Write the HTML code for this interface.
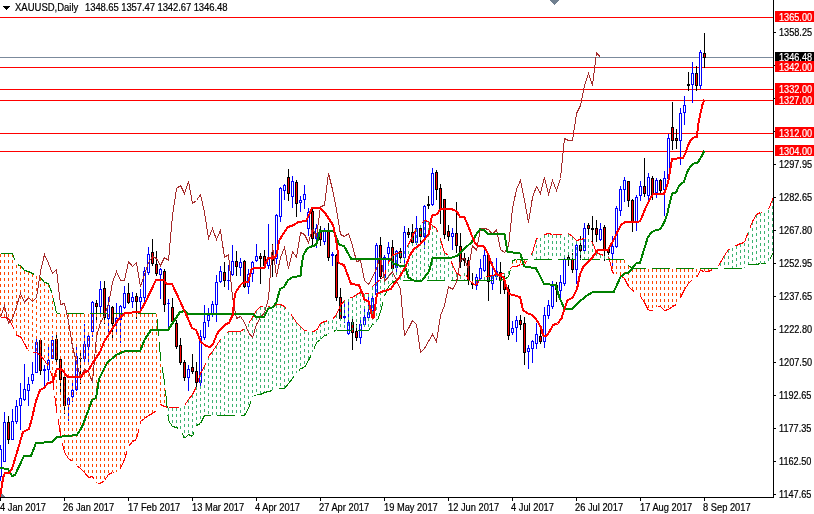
<!DOCTYPE html>
<html><head><meta charset="utf-8"><title>XAUUSD,Daily</title>
<style>
html,body{margin:0;padding:0;background:#fff;}
body{width:814px;height:514px;overflow:hidden;position:relative;font-family:"Liberation Sans",sans-serif;}
svg{position:absolute;left:0;top:0;display:block}
text{font-family:"Liberation Sans",sans-serif;}
.t{position:absolute;font-size:10px;line-height:11px;height:11px;white-space:pre;transform:scaleX(0.95);transform-origin:0 0;}
</style></head><body>
<svg width="814" height="514" viewBox="0 0 814 514" shape-rendering="crispEdges">
<rect x="0" y="0" width="814" height="514" fill="#fff"/>
<defs><clipPath id="cp"><rect x="0" y="0" width="773" height="497"/></clipPath></defs>
<g clip-path="url(#cp)">
<rect x="0" y="57" width="773" height="1" fill="#7b8a9c"/>
<rect x="0" y="17" width="773" height="1" fill="#ff0000"/>
<rect x="0" y="67" width="773" height="1" fill="#ff0000"/>
<rect x="0" y="89" width="773" height="1" fill="#ff0000"/>
<rect x="0" y="100" width="773" height="1" fill="#ff0000"/>
<rect x="0" y="133" width="773" height="1" fill="#ff0000"/>
<rect x="0" y="151" width="773" height="1" fill="#ff0000"/>
<polygon points="0,491.5 0,497 5.5,497" fill="#708090"/>
<rect x="0" y="445" width="1" height="36" fill="#0000ff"/>
<rect x="-1" y="449" width="3" height="28" fill="#0000ff"/>
<rect x="0" y="450" width="1" height="26" fill="#ffffff"/>
<rect x="4" y="412" width="1" height="50" fill="#0000ff"/>
<rect x="3" y="422" width="3" height="40" fill="#0000ff"/>
<rect x="4" y="423" width="1" height="38" fill="#ffffff"/>
<rect x="8" y="416" width="1" height="28" fill="#000000"/>
<rect x="7" y="422" width="3" height="18" fill="#000000"/>
<rect x="8" y="423" width="1" height="16" fill="#ff0000"/>
<rect x="12" y="409" width="1" height="31" fill="#0000ff"/>
<rect x="11" y="421" width="3" height="19" fill="#0000ff"/>
<rect x="12" y="422" width="1" height="17" fill="#ffffff"/>
<rect x="16" y="400" width="1" height="24" fill="#0000ff"/>
<rect x="15" y="406" width="3" height="16" fill="#0000ff"/>
<rect x="16" y="407" width="1" height="14" fill="#ffffff"/>
<rect x="20" y="383" width="1" height="47" fill="#0000ff"/>
<rect x="19" y="398" width="3" height="8" fill="#0000ff"/>
<rect x="20" y="399" width="1" height="6" fill="#ffffff"/>
<rect x="24" y="364" width="1" height="37" fill="#0000ff"/>
<rect x="23" y="389" width="3" height="11" fill="#0000ff"/>
<rect x="24" y="390" width="1" height="9" fill="#ffffff"/>
<rect x="28" y="377" width="1" height="29" fill="#0000ff"/>
<rect x="27" y="384" width="3" height="7" fill="#0000ff"/>
<rect x="28" y="385" width="1" height="5" fill="#ffffff"/>
<rect x="32" y="362" width="1" height="22" fill="#0000ff"/>
<rect x="31" y="374" width="3" height="7" fill="#0000ff"/>
<rect x="32" y="375" width="1" height="5" fill="#ffffff"/>
<rect x="36" y="337" width="1" height="36" fill="#0000ff"/>
<rect x="35" y="342" width="3" height="31" fill="#0000ff"/>
<rect x="36" y="343" width="1" height="29" fill="#ffffff"/>
<rect x="40" y="339" width="1" height="36" fill="#000000"/>
<rect x="39" y="340" width="3" height="31" fill="#000000"/>
<rect x="40" y="341" width="1" height="29" fill="#ff0000"/>
<rect x="44" y="365" width="1" height="23" fill="#0000ff"/>
<rect x="43" y="369" width="3" height="2" fill="#0000ff"/>
<rect x="48" y="346" width="1" height="35" fill="#0000ff"/>
<rect x="47" y="360" width="3" height="10" fill="#0000ff"/>
<rect x="48" y="361" width="1" height="8" fill="#ffffff"/>
<rect x="52" y="336" width="1" height="23" fill="#0000ff"/>
<rect x="51" y="340" width="3" height="19" fill="#0000ff"/>
<rect x="52" y="341" width="1" height="17" fill="#ffffff"/>
<rect x="56" y="335" width="1" height="30" fill="#000000"/>
<rect x="55" y="339" width="3" height="21" fill="#000000"/>
<rect x="56" y="340" width="1" height="19" fill="#ff0000"/>
<rect x="60" y="358" width="1" height="34" fill="#000000"/>
<rect x="59" y="359" width="3" height="21" fill="#000000"/>
<rect x="60" y="360" width="1" height="19" fill="#ff0000"/>
<rect x="64" y="376" width="1" height="38" fill="#000000"/>
<rect x="63" y="377" width="3" height="29" fill="#000000"/>
<rect x="64" y="378" width="1" height="27" fill="#ff0000"/>
<rect x="68" y="397" width="1" height="24" fill="#0000ff"/>
<rect x="67" y="398" width="3" height="7" fill="#0000ff"/>
<rect x="68" y="399" width="1" height="5" fill="#ffffff"/>
<rect x="72" y="382" width="1" height="20" fill="#0000ff"/>
<rect x="71" y="390" width="3" height="7" fill="#0000ff"/>
<rect x="72" y="391" width="1" height="5" fill="#ffffff"/>
<rect x="76" y="346" width="1" height="45" fill="#0000ff"/>
<rect x="75" y="356" width="3" height="34" fill="#0000ff"/>
<rect x="76" y="357" width="1" height="32" fill="#ffffff"/>
<rect x="80" y="352" width="1" height="32" fill="#000000"/>
<rect x="79" y="358" width="3" height="1" fill="#000000"/>
<rect x="84" y="324" width="1" height="41" fill="#0000ff"/>
<rect x="83" y="344" width="3" height="15" fill="#0000ff"/>
<rect x="84" y="345" width="1" height="13" fill="#ffffff"/>
<rect x="88" y="333" width="1" height="32" fill="#0000ff"/>
<rect x="87" y="336" width="3" height="11" fill="#0000ff"/>
<rect x="88" y="337" width="1" height="9" fill="#ffffff"/>
<rect x="92" y="301" width="1" height="36" fill="#0000ff"/>
<rect x="91" y="302" width="3" height="30" fill="#0000ff"/>
<rect x="92" y="303" width="1" height="28" fill="#ffffff"/>
<rect x="96" y="300" width="1" height="20" fill="#000000"/>
<rect x="95" y="303" width="3" height="4" fill="#000000"/>
<rect x="96" y="304" width="1" height="2" fill="#ff0000"/>
<rect x="100" y="281" width="1" height="33" fill="#0000ff"/>
<rect x="99" y="289" width="3" height="18" fill="#0000ff"/>
<rect x="100" y="290" width="1" height="16" fill="#ffffff"/>
<rect x="104" y="281" width="1" height="43" fill="#000000"/>
<rect x="103" y="288" width="3" height="30" fill="#000000"/>
<rect x="104" y="289" width="1" height="28" fill="#ff0000"/>
<rect x="108" y="297" width="1" height="35" fill="#0000ff"/>
<rect x="107" y="305" width="3" height="14" fill="#0000ff"/>
<rect x="108" y="306" width="1" height="12" fill="#ffffff"/>
<rect x="112" y="306" width="1" height="32" fill="#000000"/>
<rect x="111" y="307" width="3" height="17" fill="#000000"/>
<rect x="112" y="308" width="1" height="15" fill="#ff0000"/>
<rect x="116" y="303" width="1" height="30" fill="#0000ff"/>
<rect x="115" y="318" width="3" height="5" fill="#0000ff"/>
<rect x="116" y="319" width="1" height="3" fill="#ffffff"/>
<rect x="120" y="305" width="1" height="38" fill="#0000ff"/>
<rect x="119" y="306" width="3" height="14" fill="#0000ff"/>
<rect x="120" y="307" width="1" height="12" fill="#ffffff"/>
<rect x="124" y="286" width="1" height="23" fill="#0000ff"/>
<rect x="123" y="293" width="3" height="15" fill="#0000ff"/>
<rect x="124" y="294" width="1" height="13" fill="#ffffff"/>
<rect x="128" y="283" width="1" height="21" fill="#000000"/>
<rect x="127" y="293" width="3" height="10" fill="#000000"/>
<rect x="128" y="294" width="1" height="8" fill="#ff0000"/>
<rect x="132" y="292" width="1" height="16" fill="#0000ff"/>
<rect x="131" y="297" width="3" height="5" fill="#0000ff"/>
<rect x="132" y="298" width="1" height="3" fill="#ffffff"/>
<rect x="136" y="293" width="1" height="26" fill="#000000"/>
<rect x="135" y="296" width="3" height="6" fill="#000000"/>
<rect x="136" y="297" width="1" height="4" fill="#ff0000"/>
<rect x="140" y="289" width="1" height="24" fill="#0000ff"/>
<rect x="139" y="297" width="3" height="5" fill="#0000ff"/>
<rect x="140" y="298" width="1" height="3" fill="#ffffff"/>
<rect x="144" y="267" width="1" height="35" fill="#0000ff"/>
<rect x="143" y="271" width="3" height="27" fill="#0000ff"/>
<rect x="144" y="272" width="1" height="25" fill="#ffffff"/>
<rect x="148" y="247" width="1" height="28" fill="#0000ff"/>
<rect x="147" y="254" width="3" height="19" fill="#0000ff"/>
<rect x="148" y="255" width="1" height="17" fill="#ffffff"/>
<rect x="152" y="239" width="1" height="27" fill="#000000"/>
<rect x="151" y="252" width="3" height="12" fill="#000000"/>
<rect x="152" y="253" width="1" height="10" fill="#ff0000"/>
<rect x="156" y="251" width="1" height="25" fill="#000000"/>
<rect x="155" y="264" width="3" height="10" fill="#000000"/>
<rect x="156" y="265" width="1" height="8" fill="#ff0000"/>
<rect x="160" y="268" width="1" height="31" fill="#0000ff"/>
<rect x="159" y="269" width="3" height="6" fill="#0000ff"/>
<rect x="160" y="270" width="1" height="4" fill="#ffffff"/>
<rect x="164" y="269" width="1" height="43" fill="#000000"/>
<rect x="163" y="271" width="3" height="34" fill="#000000"/>
<rect x="164" y="272" width="1" height="32" fill="#ff0000"/>
<rect x="168" y="299" width="1" height="30" fill="#0000ff"/>
<rect x="167" y="303" width="3" height="1" fill="#0000ff"/>
<rect x="172" y="298" width="1" height="25" fill="#000000"/>
<rect x="171" y="307" width="3" height="15" fill="#000000"/>
<rect x="172" y="308" width="1" height="13" fill="#ff0000"/>
<rect x="176" y="320" width="1" height="29" fill="#000000"/>
<rect x="175" y="323" width="3" height="24" fill="#000000"/>
<rect x="176" y="324" width="1" height="22" fill="#ff0000"/>
<rect x="180" y="338" width="1" height="27" fill="#000000"/>
<rect x="179" y="345" width="3" height="18" fill="#000000"/>
<rect x="180" y="346" width="1" height="16" fill="#ff0000"/>
<rect x="184" y="360" width="1" height="21" fill="#000000"/>
<rect x="183" y="362" width="3" height="16" fill="#000000"/>
<rect x="184" y="363" width="1" height="14" fill="#ff0000"/>
<rect x="188" y="365" width="1" height="26" fill="#0000ff"/>
<rect x="187" y="369" width="3" height="9" fill="#0000ff"/>
<rect x="188" y="370" width="1" height="7" fill="#ffffff"/>
<rect x="192" y="354" width="1" height="20" fill="#000000"/>
<rect x="191" y="367" width="3" height="5" fill="#000000"/>
<rect x="192" y="368" width="1" height="3" fill="#ff0000"/>
<rect x="196" y="362" width="1" height="25" fill="#000000"/>
<rect x="195" y="371" width="3" height="12" fill="#000000"/>
<rect x="196" y="372" width="1" height="10" fill="#ff0000"/>
<rect x="200" y="330" width="1" height="56" fill="#0000ff"/>
<rect x="199" y="336" width="3" height="47" fill="#0000ff"/>
<rect x="200" y="337" width="1" height="45" fill="#ffffff"/>
<rect x="204" y="305" width="1" height="35" fill="#0000ff"/>
<rect x="203" y="322" width="3" height="16" fill="#0000ff"/>
<rect x="204" y="323" width="1" height="14" fill="#ffffff"/>
<rect x="208" y="308" width="1" height="19" fill="#0000ff"/>
<rect x="207" y="315" width="3" height="6" fill="#0000ff"/>
<rect x="208" y="316" width="1" height="4" fill="#ffffff"/>
<rect x="212" y="301" width="1" height="16" fill="#0000ff"/>
<rect x="211" y="304" width="3" height="10" fill="#0000ff"/>
<rect x="212" y="305" width="1" height="8" fill="#ffffff"/>
<rect x="216" y="275" width="1" height="47" fill="#0000ff"/>
<rect x="215" y="282" width="3" height="23" fill="#0000ff"/>
<rect x="216" y="283" width="1" height="21" fill="#ffffff"/>
<rect x="220" y="266" width="1" height="17" fill="#0000ff"/>
<rect x="219" y="271" width="3" height="11" fill="#0000ff"/>
<rect x="220" y="272" width="1" height="9" fill="#ffffff"/>
<rect x="224" y="262" width="1" height="25" fill="#000000"/>
<rect x="223" y="272" width="3" height="9" fill="#000000"/>
<rect x="224" y="273" width="1" height="7" fill="#ff0000"/>
<rect x="228" y="265" width="1" height="25" fill="#0000ff"/>
<rect x="227" y="280" width="3" height="1" fill="#0000ff"/>
<rect x="232" y="245" width="1" height="31" fill="#0000ff"/>
<rect x="231" y="261" width="3" height="14" fill="#0000ff"/>
<rect x="232" y="262" width="1" height="12" fill="#ffffff"/>
<rect x="236" y="251" width="1" height="25" fill="#000000"/>
<rect x="235" y="261" width="3" height="6" fill="#000000"/>
<rect x="236" y="262" width="1" height="4" fill="#ff0000"/>
<rect x="240" y="258" width="1" height="18" fill="#0000ff"/>
<rect x="239" y="262" width="3" height="6" fill="#0000ff"/>
<rect x="240" y="263" width="1" height="4" fill="#ffffff"/>
<rect x="244" y="260" width="1" height="28" fill="#000000"/>
<rect x="243" y="261" width="3" height="26" fill="#000000"/>
<rect x="244" y="262" width="1" height="24" fill="#ff0000"/>
<rect x="248" y="269" width="1" height="25" fill="#0000ff"/>
<rect x="247" y="274" width="3" height="13" fill="#0000ff"/>
<rect x="248" y="275" width="1" height="11" fill="#ffffff"/>
<rect x="252" y="261" width="1" height="21" fill="#0000ff"/>
<rect x="251" y="262" width="3" height="12" fill="#0000ff"/>
<rect x="252" y="263" width="1" height="10" fill="#ffffff"/>
<rect x="256" y="244" width="1" height="18" fill="#0000ff"/>
<rect x="255" y="256" width="3" height="5" fill="#0000ff"/>
<rect x="256" y="257" width="1" height="3" fill="#ffffff"/>
<rect x="260" y="253" width="1" height="31" fill="#000000"/>
<rect x="259" y="256" width="3" height="3" fill="#000000"/>
<rect x="260" y="257" width="1" height="1" fill="#ff0000"/>
<rect x="264" y="250" width="1" height="19" fill="#000000"/>
<rect x="263" y="256" width="3" height="10" fill="#000000"/>
<rect x="264" y="257" width="1" height="8" fill="#ff0000"/>
<rect x="268" y="224" width="1" height="45" fill="#0000ff"/>
<rect x="267" y="257" width="3" height="9" fill="#0000ff"/>
<rect x="268" y="258" width="1" height="7" fill="#ffffff"/>
<rect x="272" y="244" width="1" height="33" fill="#000000"/>
<rect x="271" y="254" width="3" height="7" fill="#000000"/>
<rect x="272" y="255" width="1" height="5" fill="#ff0000"/>
<rect x="276" y="214" width="1" height="50" fill="#0000ff"/>
<rect x="275" y="215" width="3" height="44" fill="#0000ff"/>
<rect x="276" y="216" width="1" height="42" fill="#ffffff"/>
<rect x="280" y="187" width="1" height="35" fill="#0000ff"/>
<rect x="279" y="188" width="3" height="29" fill="#0000ff"/>
<rect x="280" y="189" width="1" height="27" fill="#ffffff"/>
<rect x="284" y="184" width="1" height="16" fill="#0000ff"/>
<rect x="283" y="185" width="3" height="6" fill="#0000ff"/>
<rect x="284" y="186" width="1" height="4" fill="#ffffff"/>
<rect x="288" y="169" width="1" height="32" fill="#000000"/>
<rect x="287" y="177" width="3" height="17" fill="#000000"/>
<rect x="288" y="178" width="1" height="15" fill="#ff0000"/>
<rect x="292" y="176" width="1" height="32" fill="#0000ff"/>
<rect x="291" y="181" width="3" height="16" fill="#0000ff"/>
<rect x="292" y="182" width="1" height="14" fill="#ffffff"/>
<rect x="296" y="180" width="1" height="37" fill="#000000"/>
<rect x="295" y="182" width="3" height="22" fill="#000000"/>
<rect x="296" y="183" width="1" height="20" fill="#ff0000"/>
<rect x="300" y="196" width="1" height="16" fill="#0000ff"/>
<rect x="299" y="200" width="3" height="3" fill="#0000ff"/>
<rect x="300" y="201" width="1" height="1" fill="#ffffff"/>
<rect x="304" y="185" width="1" height="24" fill="#0000ff"/>
<rect x="303" y="194" width="3" height="6" fill="#0000ff"/>
<rect x="304" y="195" width="1" height="4" fill="#ffffff"/>
<rect x="308" y="208" width="1" height="28" fill="#0000ff"/>
<rect x="307" y="212" width="3" height="17" fill="#0000ff"/>
<rect x="308" y="213" width="1" height="15" fill="#ffffff"/>
<rect x="312" y="209" width="1" height="36" fill="#000000"/>
<rect x="311" y="211" width="3" height="28" fill="#000000"/>
<rect x="312" y="212" width="1" height="26" fill="#ff0000"/>
<rect x="316" y="224" width="1" height="24" fill="#0000ff"/>
<rect x="315" y="228" width="3" height="11" fill="#0000ff"/>
<rect x="316" y="229" width="1" height="9" fill="#ffffff"/>
<rect x="320" y="226" width="1" height="20" fill="#000000"/>
<rect x="319" y="230" width="3" height="10" fill="#000000"/>
<rect x="320" y="231" width="1" height="8" fill="#ff0000"/>
<rect x="324" y="228" width="1" height="17" fill="#0000ff"/>
<rect x="323" y="230" width="3" height="12" fill="#0000ff"/>
<rect x="324" y="231" width="1" height="10" fill="#ffffff"/>
<rect x="328" y="223" width="1" height="38" fill="#000000"/>
<rect x="327" y="230" width="3" height="28" fill="#000000"/>
<rect x="328" y="231" width="1" height="26" fill="#ff0000"/>
<rect x="332" y="252" width="1" height="14" fill="#0000ff"/>
<rect x="331" y="254" width="3" height="2" fill="#0000ff"/>
<rect x="336" y="254" width="1" height="47" fill="#000000"/>
<rect x="335" y="255" width="3" height="43" fill="#000000"/>
<rect x="336" y="256" width="1" height="41" fill="#ff0000"/>
<rect x="340" y="288" width="1" height="33" fill="#000000"/>
<rect x="339" y="297" width="3" height="22" fill="#000000"/>
<rect x="340" y="298" width="1" height="20" fill="#ff0000"/>
<rect x="344" y="301" width="1" height="22" fill="#0000ff"/>
<rect x="343" y="316" width="3" height="2" fill="#0000ff"/>
<rect x="348" y="300" width="1" height="35" fill="#0000ff"/>
<rect x="347" y="322" width="3" height="12" fill="#0000ff"/>
<rect x="348" y="323" width="1" height="10" fill="#ffffff"/>
<rect x="352" y="319" width="1" height="31" fill="#000000"/>
<rect x="351" y="322" width="3" height="11" fill="#000000"/>
<rect x="352" y="323" width="1" height="9" fill="#ff0000"/>
<rect x="356" y="324" width="1" height="17" fill="#000000"/>
<rect x="355" y="331" width="3" height="7" fill="#000000"/>
<rect x="356" y="332" width="1" height="5" fill="#ff0000"/>
<rect x="360" y="320" width="1" height="24" fill="#0000ff"/>
<rect x="359" y="324" width="3" height="14" fill="#0000ff"/>
<rect x="360" y="325" width="1" height="12" fill="#ffffff"/>
<rect x="364" y="309" width="1" height="17" fill="#0000ff"/>
<rect x="363" y="317" width="3" height="8" fill="#0000ff"/>
<rect x="364" y="318" width="1" height="6" fill="#ffffff"/>
<rect x="368" y="297" width="1" height="24" fill="#0000ff"/>
<rect x="367" y="312" width="3" height="6" fill="#0000ff"/>
<rect x="368" y="313" width="1" height="4" fill="#ffffff"/>
<rect x="372" y="294" width="1" height="18" fill="#0000ff"/>
<rect x="371" y="298" width="3" height="13" fill="#0000ff"/>
<rect x="372" y="299" width="1" height="11" fill="#ffffff"/>
<rect x="376" y="243" width="1" height="54" fill="#0000ff"/>
<rect x="375" y="245" width="3" height="50" fill="#0000ff"/>
<rect x="376" y="246" width="1" height="48" fill="#ffffff"/>
<rect x="380" y="237" width="1" height="42" fill="#000000"/>
<rect x="379" y="245" width="3" height="32" fill="#000000"/>
<rect x="380" y="246" width="1" height="30" fill="#ff0000"/>
<rect x="384" y="255" width="1" height="23" fill="#0000ff"/>
<rect x="383" y="257" width="3" height="21" fill="#0000ff"/>
<rect x="384" y="258" width="1" height="19" fill="#ffffff"/>
<rect x="388" y="242" width="1" height="21" fill="#0000ff"/>
<rect x="387" y="247" width="3" height="7" fill="#0000ff"/>
<rect x="388" y="248" width="1" height="5" fill="#ffffff"/>
<rect x="392" y="240" width="1" height="30" fill="#000000"/>
<rect x="391" y="247" width="3" height="22" fill="#000000"/>
<rect x="392" y="248" width="1" height="20" fill="#ff0000"/>
<rect x="396" y="250" width="1" height="25" fill="#0000ff"/>
<rect x="395" y="251" width="3" height="17" fill="#0000ff"/>
<rect x="396" y="252" width="1" height="15" fill="#ffffff"/>
<rect x="400" y="248" width="1" height="15" fill="#000000"/>
<rect x="399" y="251" width="3" height="7" fill="#000000"/>
<rect x="400" y="252" width="1" height="5" fill="#ff0000"/>
<rect x="404" y="226" width="1" height="37" fill="#0000ff"/>
<rect x="403" y="232" width="3" height="26" fill="#0000ff"/>
<rect x="404" y="233" width="1" height="24" fill="#ffffff"/>
<rect x="408" y="228" width="1" height="10" fill="#000000"/>
<rect x="407" y="232" width="3" height="3" fill="#000000"/>
<rect x="408" y="233" width="1" height="1" fill="#ff0000"/>
<rect x="412" y="224" width="1" height="22" fill="#000000"/>
<rect x="411" y="232" width="3" height="11" fill="#000000"/>
<rect x="412" y="233" width="1" height="9" fill="#ff0000"/>
<rect x="416" y="216" width="1" height="29" fill="#0000ff"/>
<rect x="415" y="228" width="3" height="15" fill="#0000ff"/>
<rect x="416" y="229" width="1" height="13" fill="#ffffff"/>
<rect x="420" y="226" width="1" height="19" fill="#000000"/>
<rect x="419" y="228" width="3" height="9" fill="#000000"/>
<rect x="420" y="229" width="1" height="7" fill="#ff0000"/>
<rect x="424" y="205" width="1" height="44" fill="#0000ff"/>
<rect x="423" y="206" width="3" height="31" fill="#0000ff"/>
<rect x="424" y="207" width="1" height="29" fill="#ffffff"/>
<rect x="428" y="196" width="1" height="13" fill="#000000"/>
<rect x="427" y="204" width="3" height="2" fill="#000000"/>
<rect x="432" y="168" width="1" height="38" fill="#0000ff"/>
<rect x="431" y="173" width="3" height="32" fill="#0000ff"/>
<rect x="432" y="174" width="1" height="30" fill="#ffffff"/>
<rect x="436" y="170" width="1" height="30" fill="#000000"/>
<rect x="435" y="172" width="3" height="18" fill="#000000"/>
<rect x="436" y="173" width="1" height="16" fill="#ff0000"/>
<rect x="440" y="184" width="1" height="40" fill="#000000"/>
<rect x="439" y="188" width="3" height="22" fill="#000000"/>
<rect x="440" y="189" width="1" height="20" fill="#ff0000"/>
<rect x="444" y="199" width="1" height="40" fill="#000000"/>
<rect x="443" y="199" width="3" height="36" fill="#000000"/>
<rect x="444" y="200" width="1" height="34" fill="#ff0000"/>
<rect x="448" y="225" width="1" height="16" fill="#000000"/>
<rect x="447" y="231" width="3" height="6" fill="#000000"/>
<rect x="448" y="232" width="1" height="4" fill="#ff0000"/>
<rect x="452" y="228" width="1" height="22" fill="#0000ff"/>
<rect x="451" y="233" width="3" height="4" fill="#0000ff"/>
<rect x="452" y="234" width="1" height="2" fill="#ffffff"/>
<rect x="456" y="202" width="1" height="51" fill="#000000"/>
<rect x="455" y="233" width="3" height="13" fill="#000000"/>
<rect x="456" y="234" width="1" height="11" fill="#ff0000"/>
<rect x="460" y="233" width="1" height="35" fill="#000000"/>
<rect x="459" y="246" width="3" height="16" fill="#000000"/>
<rect x="460" y="247" width="1" height="14" fill="#ff0000"/>
<rect x="464" y="253" width="1" height="13" fill="#000000"/>
<rect x="463" y="258" width="3" height="3" fill="#000000"/>
<rect x="464" y="259" width="1" height="1" fill="#ff0000"/>
<rect x="468" y="257" width="1" height="28" fill="#000000"/>
<rect x="467" y="260" width="3" height="21" fill="#000000"/>
<rect x="468" y="261" width="1" height="19" fill="#ff0000"/>
<rect x="472" y="273" width="1" height="16" fill="#000000"/>
<rect x="471" y="283" width="3" height="2" fill="#000000"/>
<rect x="476" y="274" width="1" height="16" fill="#0000ff"/>
<rect x="475" y="277" width="3" height="9" fill="#0000ff"/>
<rect x="476" y="278" width="1" height="7" fill="#ffffff"/>
<rect x="480" y="259" width="1" height="21" fill="#0000ff"/>
<rect x="479" y="268" width="3" height="11" fill="#0000ff"/>
<rect x="480" y="269" width="1" height="9" fill="#ffffff"/>
<rect x="484" y="250" width="1" height="22" fill="#0000ff"/>
<rect x="483" y="255" width="3" height="16" fill="#0000ff"/>
<rect x="484" y="256" width="1" height="14" fill="#ffffff"/>
<rect x="488" y="253" width="1" height="48" fill="#000000"/>
<rect x="487" y="255" width="3" height="27" fill="#000000"/>
<rect x="488" y="256" width="1" height="25" fill="#ff0000"/>
<rect x="492" y="262" width="1" height="28" fill="#0000ff"/>
<rect x="491" y="276" width="3" height="8" fill="#0000ff"/>
<rect x="492" y="277" width="1" height="6" fill="#ffffff"/>
<rect x="496" y="258" width="1" height="22" fill="#0000ff"/>
<rect x="495" y="271" width="3" height="6" fill="#0000ff"/>
<rect x="496" y="272" width="1" height="4" fill="#ffffff"/>
<rect x="500" y="262" width="1" height="32" fill="#000000"/>
<rect x="499" y="272" width="3" height="9" fill="#000000"/>
<rect x="500" y="273" width="1" height="7" fill="#ff0000"/>
<rect x="504" y="276" width="1" height="18" fill="#000000"/>
<rect x="503" y="280" width="3" height="10" fill="#000000"/>
<rect x="504" y="281" width="1" height="8" fill="#ff0000"/>
<rect x="508" y="285" width="1" height="55" fill="#000000"/>
<rect x="507" y="289" width="3" height="47" fill="#000000"/>
<rect x="508" y="290" width="1" height="45" fill="#ff0000"/>
<rect x="512" y="321" width="1" height="14" fill="#0000ff"/>
<rect x="511" y="328" width="3" height="5" fill="#0000ff"/>
<rect x="512" y="329" width="1" height="3" fill="#ffffff"/>
<rect x="516" y="316" width="1" height="26" fill="#0000ff"/>
<rect x="515" y="320" width="3" height="8" fill="#0000ff"/>
<rect x="516" y="321" width="1" height="6" fill="#ffffff"/>
<rect x="520" y="315" width="1" height="15" fill="#000000"/>
<rect x="519" y="320" width="3" height="5" fill="#000000"/>
<rect x="520" y="321" width="1" height="3" fill="#ff0000"/>
<rect x="524" y="317" width="1" height="48" fill="#000000"/>
<rect x="523" y="323" width="3" height="30" fill="#000000"/>
<rect x="524" y="324" width="1" height="28" fill="#ff0000"/>
<rect x="528" y="345" width="1" height="24" fill="#0000ff"/>
<rect x="527" y="348" width="3" height="4" fill="#0000ff"/>
<rect x="528" y="349" width="1" height="2" fill="#ffffff"/>
<rect x="532" y="340" width="1" height="23" fill="#0000ff"/>
<rect x="531" y="341" width="3" height="8" fill="#0000ff"/>
<rect x="532" y="342" width="1" height="6" fill="#ffffff"/>
<rect x="536" y="323" width="1" height="26" fill="#0000ff"/>
<rect x="535" y="334" width="3" height="10" fill="#0000ff"/>
<rect x="536" y="335" width="1" height="8" fill="#ffffff"/>
<rect x="540" y="325" width="1" height="19" fill="#000000"/>
<rect x="539" y="336" width="3" height="6" fill="#000000"/>
<rect x="540" y="337" width="1" height="4" fill="#ff0000"/>
<rect x="544" y="307" width="1" height="41" fill="#0000ff"/>
<rect x="543" y="315" width="3" height="27" fill="#0000ff"/>
<rect x="544" y="316" width="1" height="25" fill="#ffffff"/>
<rect x="548" y="300" width="1" height="19" fill="#0000ff"/>
<rect x="547" y="305" width="3" height="11" fill="#0000ff"/>
<rect x="548" y="306" width="1" height="9" fill="#ffffff"/>
<rect x="552" y="281" width="1" height="28" fill="#0000ff"/>
<rect x="551" y="286" width="3" height="21" fill="#0000ff"/>
<rect x="552" y="287" width="1" height="19" fill="#ffffff"/>
<rect x="556" y="282" width="1" height="20" fill="#000000"/>
<rect x="555" y="285" width="3" height="5" fill="#000000"/>
<rect x="556" y="286" width="1" height="3" fill="#ff0000"/>
<rect x="560" y="275" width="1" height="23" fill="#0000ff"/>
<rect x="559" y="282" width="3" height="9" fill="#0000ff"/>
<rect x="560" y="283" width="1" height="7" fill="#ffffff"/>
<rect x="564" y="258" width="1" height="28" fill="#0000ff"/>
<rect x="563" y="259" width="3" height="25" fill="#0000ff"/>
<rect x="564" y="260" width="1" height="23" fill="#ffffff"/>
<rect x="568" y="253" width="1" height="13" fill="#000000"/>
<rect x="567" y="257" width="3" height="2" fill="#000000"/>
<rect x="572" y="253" width="1" height="20" fill="#000000"/>
<rect x="571" y="259" width="3" height="11" fill="#000000"/>
<rect x="572" y="260" width="1" height="9" fill="#ff0000"/>
<rect x="576" y="241" width="1" height="43" fill="#0000ff"/>
<rect x="575" y="245" width="3" height="25" fill="#0000ff"/>
<rect x="576" y="246" width="1" height="23" fill="#ffffff"/>
<rect x="580" y="236" width="1" height="24" fill="#000000"/>
<rect x="579" y="245" width="3" height="6" fill="#000000"/>
<rect x="580" y="246" width="1" height="4" fill="#ff0000"/>
<rect x="584" y="223" width="1" height="30" fill="#0000ff"/>
<rect x="583" y="228" width="3" height="23" fill="#0000ff"/>
<rect x="584" y="229" width="1" height="21" fill="#ffffff"/>
<rect x="588" y="223" width="1" height="12" fill="#000000"/>
<rect x="587" y="225" width="3" height="4" fill="#000000"/>
<rect x="588" y="226" width="1" height="2" fill="#ff0000"/>
<rect x="592" y="216" width="1" height="26" fill="#000000"/>
<rect x="591" y="228" width="3" height="2" fill="#000000"/>
<rect x="596" y="220" width="1" height="22" fill="#000000"/>
<rect x="595" y="228" width="3" height="7" fill="#000000"/>
<rect x="596" y="229" width="1" height="5" fill="#ff0000"/>
<rect x="600" y="223" width="1" height="18" fill="#0000ff"/>
<rect x="599" y="229" width="3" height="11" fill="#0000ff"/>
<rect x="600" y="230" width="1" height="9" fill="#ffffff"/>
<rect x="604" y="225" width="1" height="36" fill="#000000"/>
<rect x="603" y="227" width="3" height="23" fill="#000000"/>
<rect x="604" y="228" width="1" height="21" fill="#ff0000"/>
<rect x="608" y="247" width="1" height="8" fill="#000000"/>
<rect x="607" y="249" width="3" height="4" fill="#000000"/>
<rect x="608" y="250" width="1" height="2" fill="#ff0000"/>
<rect x="612" y="236" width="1" height="30" fill="#0000ff"/>
<rect x="611" y="246" width="3" height="8" fill="#0000ff"/>
<rect x="612" y="247" width="1" height="6" fill="#ffffff"/>
<rect x="616" y="206" width="1" height="42" fill="#0000ff"/>
<rect x="615" y="208" width="3" height="39" fill="#0000ff"/>
<rect x="616" y="209" width="1" height="37" fill="#ffffff"/>
<rect x="620" y="186" width="1" height="30" fill="#0000ff"/>
<rect x="619" y="189" width="3" height="22" fill="#0000ff"/>
<rect x="620" y="190" width="1" height="20" fill="#ffffff"/>
<rect x="624" y="177" width="1" height="25" fill="#0000ff"/>
<rect x="623" y="180" width="3" height="10" fill="#0000ff"/>
<rect x="624" y="181" width="1" height="8" fill="#ffffff"/>
<rect x="628" y="181" width="1" height="26" fill="#000000"/>
<rect x="627" y="181" width="3" height="20" fill="#000000"/>
<rect x="628" y="182" width="1" height="18" fill="#ff0000"/>
<rect x="632" y="199" width="1" height="33" fill="#000000"/>
<rect x="631" y="200" width="3" height="23" fill="#000000"/>
<rect x="632" y="201" width="1" height="21" fill="#ff0000"/>
<rect x="636" y="195" width="1" height="36" fill="#0000ff"/>
<rect x="635" y="197" width="3" height="26" fill="#0000ff"/>
<rect x="636" y="198" width="1" height="24" fill="#ffffff"/>
<rect x="640" y="181" width="1" height="20" fill="#0000ff"/>
<rect x="639" y="186" width="3" height="10" fill="#0000ff"/>
<rect x="640" y="187" width="1" height="8" fill="#ffffff"/>
<rect x="644" y="158" width="1" height="39" fill="#000000"/>
<rect x="643" y="186" width="3" height="8" fill="#000000"/>
<rect x="644" y="187" width="1" height="6" fill="#ff0000"/>
<rect x="648" y="173" width="1" height="28" fill="#0000ff"/>
<rect x="647" y="177" width="3" height="19" fill="#0000ff"/>
<rect x="648" y="178" width="1" height="17" fill="#ffffff"/>
<rect x="652" y="176" width="1" height="24" fill="#000000"/>
<rect x="651" y="178" width="3" height="17" fill="#000000"/>
<rect x="652" y="179" width="1" height="15" fill="#ff0000"/>
<rect x="656" y="178" width="1" height="20" fill="#0000ff"/>
<rect x="655" y="180" width="3" height="13" fill="#0000ff"/>
<rect x="656" y="181" width="1" height="11" fill="#ffffff"/>
<rect x="660" y="179" width="1" height="15" fill="#000000"/>
<rect x="659" y="180" width="3" height="11" fill="#000000"/>
<rect x="660" y="181" width="1" height="9" fill="#ff0000"/>
<rect x="664" y="171" width="1" height="45" fill="#0000ff"/>
<rect x="663" y="178" width="3" height="12" fill="#0000ff"/>
<rect x="664" y="179" width="1" height="10" fill="#ffffff"/>
<rect x="668" y="134" width="1" height="46" fill="#0000ff"/>
<rect x="667" y="138" width="3" height="41" fill="#0000ff"/>
<rect x="668" y="139" width="1" height="39" fill="#ffffff"/>
<rect x="672" y="102" width="1" height="48" fill="#000000"/>
<rect x="671" y="127" width="3" height="14" fill="#000000"/>
<rect x="672" y="128" width="1" height="12" fill="#ff0000"/>
<rect x="676" y="129" width="1" height="20" fill="#000000"/>
<rect x="675" y="138" width="3" height="3" fill="#000000"/>
<rect x="676" y="139" width="1" height="1" fill="#ff0000"/>
<rect x="680" y="108" width="1" height="57" fill="#0000ff"/>
<rect x="679" y="113" width="3" height="28" fill="#0000ff"/>
<rect x="680" y="114" width="1" height="26" fill="#ffffff"/>
<rect x="684" y="96" width="1" height="29" fill="#0000ff"/>
<rect x="683" y="105" width="3" height="8" fill="#0000ff"/>
<rect x="684" y="106" width="1" height="6" fill="#ffffff"/>
<rect x="688" y="72" width="1" height="19" fill="#000000"/>
<rect x="687" y="84" width="3" height="2" fill="#000000"/>
<rect x="692" y="62" width="1" height="41" fill="#0000ff"/>
<rect x="691" y="73" width="3" height="12" fill="#0000ff"/>
<rect x="692" y="74" width="1" height="10" fill="#ffffff"/>
<rect x="696" y="66" width="1" height="25" fill="#000000"/>
<rect x="695" y="73" width="3" height="13" fill="#000000"/>
<rect x="696" y="74" width="1" height="11" fill="#ff0000"/>
<rect x="700" y="50" width="1" height="39" fill="#0000ff"/>
<rect x="699" y="52" width="3" height="34" fill="#0000ff"/>
<rect x="700" y="53" width="1" height="32" fill="#ffffff"/>
<rect x="704" y="33" width="1" height="35" fill="#000000"/>
<rect x="703" y="53" width="3" height="5" fill="#000000"/>
<rect x="704" y="54" width="1" height="3" fill="#ff0000"/>
<rect x="0" y="254" width="1" height="3" fill="#ff4500"/>
<rect x="0" y="260" width="1" height="3" fill="#ff4500"/>
<rect x="0" y="266" width="1" height="3" fill="#ff4500"/>
<rect x="0" y="272" width="1" height="3" fill="#ff4500"/>
<rect x="0" y="278" width="1" height="3" fill="#ff4500"/>
<rect x="0" y="284" width="1" height="3" fill="#ff4500"/>
<rect x="0" y="290" width="1" height="3" fill="#ff4500"/>
<rect x="0" y="296" width="1" height="3" fill="#ff4500"/>
<rect x="0" y="302" width="1" height="3" fill="#ff4500"/>
<rect x="0" y="308" width="1" height="3" fill="#ff4500"/>
<rect x="0" y="314" width="1" height="3" fill="#ff4500"/>
<rect x="4" y="254" width="1" height="3" fill="#ff4500"/>
<rect x="4" y="260" width="1" height="3" fill="#ff4500"/>
<rect x="4" y="266" width="1" height="3" fill="#ff4500"/>
<rect x="4" y="272" width="1" height="3" fill="#ff4500"/>
<rect x="4" y="278" width="1" height="3" fill="#ff4500"/>
<rect x="4" y="284" width="1" height="3" fill="#ff4500"/>
<rect x="4" y="290" width="1" height="3" fill="#ff4500"/>
<rect x="4" y="296" width="1" height="3" fill="#ff4500"/>
<rect x="4" y="302" width="1" height="3" fill="#ff4500"/>
<rect x="4" y="308" width="1" height="3" fill="#ff4500"/>
<rect x="4" y="314" width="1" height="3" fill="#ff4500"/>
<rect x="8" y="254" width="1" height="3" fill="#ff4500"/>
<rect x="8" y="260" width="1" height="3" fill="#ff4500"/>
<rect x="8" y="266" width="1" height="3" fill="#ff4500"/>
<rect x="8" y="272" width="1" height="3" fill="#ff4500"/>
<rect x="8" y="278" width="1" height="3" fill="#ff4500"/>
<rect x="8" y="284" width="1" height="3" fill="#ff4500"/>
<rect x="8" y="290" width="1" height="3" fill="#ff4500"/>
<rect x="8" y="296" width="1" height="3" fill="#ff4500"/>
<rect x="8" y="302" width="1" height="3" fill="#ff4500"/>
<rect x="8" y="308" width="1" height="3" fill="#ff4500"/>
<rect x="8" y="314" width="1" height="3" fill="#ff4500"/>
<rect x="12" y="254" width="1" height="3" fill="#ff4500"/>
<rect x="12" y="260" width="1" height="3" fill="#ff4500"/>
<rect x="12" y="266" width="1" height="3" fill="#ff4500"/>
<rect x="12" y="272" width="1" height="3" fill="#ff4500"/>
<rect x="12" y="278" width="1" height="3" fill="#ff4500"/>
<rect x="12" y="284" width="1" height="3" fill="#ff4500"/>
<rect x="12" y="290" width="1" height="3" fill="#ff4500"/>
<rect x="12" y="296" width="1" height="3" fill="#ff4500"/>
<rect x="12" y="302" width="1" height="3" fill="#ff4500"/>
<rect x="12" y="308" width="1" height="3" fill="#ff4500"/>
<rect x="12" y="314" width="1" height="3" fill="#ff4500"/>
<rect x="12" y="320" width="1" height="3" fill="#ff4500"/>
<rect x="16" y="265" width="1" height="3" fill="#ff4500"/>
<rect x="16" y="271" width="1" height="3" fill="#ff4500"/>
<rect x="16" y="277" width="1" height="3" fill="#ff4500"/>
<rect x="16" y="283" width="1" height="3" fill="#ff4500"/>
<rect x="16" y="289" width="1" height="3" fill="#ff4500"/>
<rect x="16" y="295" width="1" height="3" fill="#ff4500"/>
<rect x="16" y="301" width="1" height="3" fill="#ff4500"/>
<rect x="16" y="307" width="1" height="3" fill="#ff4500"/>
<rect x="16" y="313" width="1" height="3" fill="#ff4500"/>
<rect x="16" y="319" width="1" height="3" fill="#ff4500"/>
<rect x="16" y="325" width="1" height="3" fill="#ff4500"/>
<rect x="16" y="331" width="1" height="3" fill="#ff4500"/>
<rect x="20" y="266" width="1" height="3" fill="#ff4500"/>
<rect x="20" y="272" width="1" height="3" fill="#ff4500"/>
<rect x="20" y="278" width="1" height="3" fill="#ff4500"/>
<rect x="20" y="284" width="1" height="3" fill="#ff4500"/>
<rect x="20" y="290" width="1" height="3" fill="#ff4500"/>
<rect x="20" y="296" width="1" height="3" fill="#ff4500"/>
<rect x="20" y="302" width="1" height="3" fill="#ff4500"/>
<rect x="20" y="308" width="1" height="3" fill="#ff4500"/>
<rect x="20" y="314" width="1" height="3" fill="#ff4500"/>
<rect x="20" y="320" width="1" height="3" fill="#ff4500"/>
<rect x="20" y="326" width="1" height="3" fill="#ff4500"/>
<rect x="20" y="332" width="1" height="3" fill="#ff4500"/>
<rect x="24" y="271" width="1" height="3" fill="#ff4500"/>
<rect x="24" y="277" width="1" height="3" fill="#ff4500"/>
<rect x="24" y="283" width="1" height="3" fill="#ff4500"/>
<rect x="24" y="289" width="1" height="3" fill="#ff4500"/>
<rect x="24" y="295" width="1" height="3" fill="#ff4500"/>
<rect x="24" y="301" width="1" height="3" fill="#ff4500"/>
<rect x="24" y="307" width="1" height="3" fill="#ff4500"/>
<rect x="24" y="313" width="1" height="3" fill="#ff4500"/>
<rect x="24" y="319" width="1" height="3" fill="#ff4500"/>
<rect x="24" y="325" width="1" height="3" fill="#ff4500"/>
<rect x="24" y="331" width="1" height="3" fill="#ff4500"/>
<rect x="24" y="337" width="1" height="3" fill="#ff4500"/>
<rect x="28" y="272" width="1" height="3" fill="#ff4500"/>
<rect x="28" y="278" width="1" height="3" fill="#ff4500"/>
<rect x="28" y="284" width="1" height="3" fill="#ff4500"/>
<rect x="28" y="290" width="1" height="3" fill="#ff4500"/>
<rect x="28" y="296" width="1" height="3" fill="#ff4500"/>
<rect x="28" y="302" width="1" height="3" fill="#ff4500"/>
<rect x="28" y="308" width="1" height="3" fill="#ff4500"/>
<rect x="28" y="314" width="1" height="3" fill="#ff4500"/>
<rect x="28" y="320" width="1" height="3" fill="#ff4500"/>
<rect x="28" y="326" width="1" height="3" fill="#ff4500"/>
<rect x="28" y="332" width="1" height="3" fill="#ff4500"/>
<rect x="28" y="338" width="1" height="3" fill="#ff4500"/>
<rect x="28" y="344" width="1" height="3" fill="#ff4500"/>
<rect x="28" y="350" width="1" height="1" fill="#ff4500"/>
<rect x="32" y="274" width="1" height="3" fill="#ff4500"/>
<rect x="32" y="280" width="1" height="3" fill="#ff4500"/>
<rect x="32" y="286" width="1" height="3" fill="#ff4500"/>
<rect x="32" y="292" width="1" height="3" fill="#ff4500"/>
<rect x="32" y="298" width="1" height="3" fill="#ff4500"/>
<rect x="32" y="304" width="1" height="3" fill="#ff4500"/>
<rect x="32" y="310" width="1" height="3" fill="#ff4500"/>
<rect x="32" y="316" width="1" height="3" fill="#ff4500"/>
<rect x="32" y="322" width="1" height="3" fill="#ff4500"/>
<rect x="32" y="328" width="1" height="3" fill="#ff4500"/>
<rect x="32" y="334" width="1" height="3" fill="#ff4500"/>
<rect x="32" y="340" width="1" height="3" fill="#ff4500"/>
<rect x="32" y="346" width="1" height="3" fill="#ff4500"/>
<rect x="36" y="276" width="1" height="3" fill="#ff4500"/>
<rect x="36" y="282" width="1" height="3" fill="#ff4500"/>
<rect x="36" y="288" width="1" height="3" fill="#ff4500"/>
<rect x="36" y="294" width="1" height="3" fill="#ff4500"/>
<rect x="36" y="300" width="1" height="3" fill="#ff4500"/>
<rect x="36" y="306" width="1" height="3" fill="#ff4500"/>
<rect x="36" y="312" width="1" height="3" fill="#ff4500"/>
<rect x="36" y="318" width="1" height="3" fill="#ff4500"/>
<rect x="36" y="324" width="1" height="3" fill="#ff4500"/>
<rect x="36" y="330" width="1" height="3" fill="#ff4500"/>
<rect x="36" y="336" width="1" height="3" fill="#ff4500"/>
<rect x="36" y="342" width="1" height="3" fill="#ff4500"/>
<rect x="36" y="348" width="1" height="3" fill="#ff4500"/>
<rect x="40" y="278" width="1" height="3" fill="#ff4500"/>
<rect x="40" y="284" width="1" height="3" fill="#ff4500"/>
<rect x="40" y="290" width="1" height="3" fill="#ff4500"/>
<rect x="40" y="296" width="1" height="3" fill="#ff4500"/>
<rect x="40" y="302" width="1" height="3" fill="#ff4500"/>
<rect x="40" y="308" width="1" height="3" fill="#ff4500"/>
<rect x="40" y="314" width="1" height="3" fill="#ff4500"/>
<rect x="40" y="320" width="1" height="3" fill="#ff4500"/>
<rect x="40" y="326" width="1" height="3" fill="#ff4500"/>
<rect x="40" y="332" width="1" height="3" fill="#ff4500"/>
<rect x="40" y="338" width="1" height="3" fill="#ff4500"/>
<rect x="40" y="344" width="1" height="3" fill="#ff4500"/>
<rect x="40" y="350" width="1" height="3" fill="#ff4500"/>
<rect x="44" y="283" width="1" height="3" fill="#ff4500"/>
<rect x="44" y="289" width="1" height="3" fill="#ff4500"/>
<rect x="44" y="295" width="1" height="3" fill="#ff4500"/>
<rect x="44" y="301" width="1" height="3" fill="#ff4500"/>
<rect x="44" y="307" width="1" height="3" fill="#ff4500"/>
<rect x="44" y="313" width="1" height="3" fill="#ff4500"/>
<rect x="44" y="319" width="1" height="3" fill="#ff4500"/>
<rect x="44" y="325" width="1" height="3" fill="#ff4500"/>
<rect x="44" y="331" width="1" height="3" fill="#ff4500"/>
<rect x="44" y="337" width="1" height="3" fill="#ff4500"/>
<rect x="44" y="343" width="1" height="3" fill="#ff4500"/>
<rect x="44" y="349" width="1" height="3" fill="#ff4500"/>
<rect x="44" y="355" width="1" height="3" fill="#ff4500"/>
<rect x="48" y="284" width="1" height="3" fill="#ff4500"/>
<rect x="48" y="290" width="1" height="3" fill="#ff4500"/>
<rect x="48" y="296" width="1" height="3" fill="#ff4500"/>
<rect x="48" y="302" width="1" height="3" fill="#ff4500"/>
<rect x="48" y="308" width="1" height="3" fill="#ff4500"/>
<rect x="48" y="314" width="1" height="3" fill="#ff4500"/>
<rect x="48" y="320" width="1" height="3" fill="#ff4500"/>
<rect x="48" y="326" width="1" height="3" fill="#ff4500"/>
<rect x="48" y="332" width="1" height="3" fill="#ff4500"/>
<rect x="48" y="338" width="1" height="3" fill="#ff4500"/>
<rect x="48" y="344" width="1" height="3" fill="#ff4500"/>
<rect x="48" y="350" width="1" height="3" fill="#ff4500"/>
<rect x="48" y="356" width="1" height="3" fill="#ff4500"/>
<rect x="48" y="362" width="1" height="3" fill="#ff4500"/>
<rect x="52" y="295" width="1" height="3" fill="#ff4500"/>
<rect x="52" y="301" width="1" height="3" fill="#ff4500"/>
<rect x="52" y="307" width="1" height="3" fill="#ff4500"/>
<rect x="52" y="313" width="1" height="3" fill="#ff4500"/>
<rect x="52" y="319" width="1" height="3" fill="#ff4500"/>
<rect x="52" y="325" width="1" height="3" fill="#ff4500"/>
<rect x="52" y="331" width="1" height="3" fill="#ff4500"/>
<rect x="52" y="337" width="1" height="3" fill="#ff4500"/>
<rect x="52" y="343" width="1" height="3" fill="#ff4500"/>
<rect x="52" y="349" width="1" height="3" fill="#ff4500"/>
<rect x="52" y="355" width="1" height="3" fill="#ff4500"/>
<rect x="52" y="361" width="1" height="3" fill="#ff4500"/>
<rect x="52" y="367" width="1" height="3" fill="#ff4500"/>
<rect x="52" y="373" width="1" height="3" fill="#ff4500"/>
<rect x="56" y="314" width="1" height="3" fill="#ff4500"/>
<rect x="56" y="320" width="1" height="3" fill="#ff4500"/>
<rect x="56" y="326" width="1" height="3" fill="#ff4500"/>
<rect x="56" y="332" width="1" height="3" fill="#ff4500"/>
<rect x="56" y="338" width="1" height="3" fill="#ff4500"/>
<rect x="56" y="344" width="1" height="3" fill="#ff4500"/>
<rect x="56" y="350" width="1" height="3" fill="#ff4500"/>
<rect x="56" y="356" width="1" height="3" fill="#ff4500"/>
<rect x="56" y="362" width="1" height="3" fill="#ff4500"/>
<rect x="56" y="368" width="1" height="3" fill="#ff4500"/>
<rect x="56" y="374" width="1" height="3" fill="#ff4500"/>
<rect x="56" y="380" width="1" height="3" fill="#ff4500"/>
<rect x="56" y="386" width="1" height="3" fill="#ff4500"/>
<rect x="56" y="392" width="1" height="3" fill="#ff4500"/>
<rect x="56" y="398" width="1" height="3" fill="#ff4500"/>
<rect x="56" y="404" width="1" height="3" fill="#ff4500"/>
<rect x="60" y="314" width="1" height="3" fill="#ff4500"/>
<rect x="60" y="320" width="1" height="3" fill="#ff4500"/>
<rect x="60" y="326" width="1" height="3" fill="#ff4500"/>
<rect x="60" y="332" width="1" height="3" fill="#ff4500"/>
<rect x="60" y="338" width="1" height="3" fill="#ff4500"/>
<rect x="60" y="344" width="1" height="3" fill="#ff4500"/>
<rect x="60" y="350" width="1" height="3" fill="#ff4500"/>
<rect x="60" y="356" width="1" height="3" fill="#ff4500"/>
<rect x="60" y="362" width="1" height="3" fill="#ff4500"/>
<rect x="60" y="368" width="1" height="3" fill="#ff4500"/>
<rect x="60" y="374" width="1" height="3" fill="#ff4500"/>
<rect x="60" y="380" width="1" height="3" fill="#ff4500"/>
<rect x="60" y="386" width="1" height="3" fill="#ff4500"/>
<rect x="60" y="392" width="1" height="3" fill="#ff4500"/>
<rect x="60" y="398" width="1" height="3" fill="#ff4500"/>
<rect x="60" y="404" width="1" height="3" fill="#ff4500"/>
<rect x="60" y="410" width="1" height="3" fill="#ff4500"/>
<rect x="60" y="416" width="1" height="3" fill="#ff4500"/>
<rect x="60" y="422" width="1" height="3" fill="#ff4500"/>
<rect x="60" y="428" width="1" height="3" fill="#ff4500"/>
<rect x="64" y="314" width="1" height="3" fill="#ff4500"/>
<rect x="64" y="320" width="1" height="3" fill="#ff4500"/>
<rect x="64" y="326" width="1" height="3" fill="#ff4500"/>
<rect x="64" y="332" width="1" height="3" fill="#ff4500"/>
<rect x="64" y="338" width="1" height="3" fill="#ff4500"/>
<rect x="64" y="344" width="1" height="3" fill="#ff4500"/>
<rect x="64" y="350" width="1" height="3" fill="#ff4500"/>
<rect x="64" y="356" width="1" height="3" fill="#ff4500"/>
<rect x="64" y="362" width="1" height="3" fill="#ff4500"/>
<rect x="64" y="368" width="1" height="3" fill="#ff4500"/>
<rect x="64" y="374" width="1" height="3" fill="#ff4500"/>
<rect x="64" y="380" width="1" height="3" fill="#ff4500"/>
<rect x="64" y="386" width="1" height="3" fill="#ff4500"/>
<rect x="64" y="392" width="1" height="3" fill="#ff4500"/>
<rect x="64" y="398" width="1" height="3" fill="#ff4500"/>
<rect x="64" y="404" width="1" height="3" fill="#ff4500"/>
<rect x="64" y="410" width="1" height="3" fill="#ff4500"/>
<rect x="64" y="416" width="1" height="3" fill="#ff4500"/>
<rect x="64" y="422" width="1" height="3" fill="#ff4500"/>
<rect x="64" y="428" width="1" height="3" fill="#ff4500"/>
<rect x="64" y="434" width="1" height="3" fill="#ff4500"/>
<rect x="64" y="440" width="1" height="3" fill="#ff4500"/>
<rect x="64" y="446" width="1" height="3" fill="#ff4500"/>
<rect x="68" y="314" width="1" height="3" fill="#ff4500"/>
<rect x="68" y="320" width="1" height="3" fill="#ff4500"/>
<rect x="68" y="326" width="1" height="3" fill="#ff4500"/>
<rect x="68" y="332" width="1" height="3" fill="#ff4500"/>
<rect x="68" y="338" width="1" height="3" fill="#ff4500"/>
<rect x="68" y="344" width="1" height="3" fill="#ff4500"/>
<rect x="68" y="350" width="1" height="3" fill="#ff4500"/>
<rect x="68" y="356" width="1" height="3" fill="#ff4500"/>
<rect x="68" y="362" width="1" height="3" fill="#ff4500"/>
<rect x="68" y="368" width="1" height="3" fill="#ff4500"/>
<rect x="68" y="374" width="1" height="3" fill="#ff4500"/>
<rect x="68" y="380" width="1" height="3" fill="#ff4500"/>
<rect x="68" y="386" width="1" height="3" fill="#ff4500"/>
<rect x="68" y="392" width="1" height="3" fill="#ff4500"/>
<rect x="68" y="398" width="1" height="3" fill="#ff4500"/>
<rect x="68" y="404" width="1" height="3" fill="#ff4500"/>
<rect x="68" y="410" width="1" height="3" fill="#ff4500"/>
<rect x="68" y="416" width="1" height="3" fill="#ff4500"/>
<rect x="68" y="422" width="1" height="3" fill="#ff4500"/>
<rect x="68" y="428" width="1" height="3" fill="#ff4500"/>
<rect x="68" y="434" width="1" height="3" fill="#ff4500"/>
<rect x="68" y="440" width="1" height="3" fill="#ff4500"/>
<rect x="68" y="446" width="1" height="3" fill="#ff4500"/>
<rect x="68" y="452" width="1" height="3" fill="#ff4500"/>
<rect x="72" y="314" width="1" height="3" fill="#ff4500"/>
<rect x="72" y="320" width="1" height="3" fill="#ff4500"/>
<rect x="72" y="326" width="1" height="3" fill="#ff4500"/>
<rect x="72" y="332" width="1" height="3" fill="#ff4500"/>
<rect x="72" y="338" width="1" height="3" fill="#ff4500"/>
<rect x="72" y="344" width="1" height="3" fill="#ff4500"/>
<rect x="72" y="350" width="1" height="3" fill="#ff4500"/>
<rect x="72" y="356" width="1" height="3" fill="#ff4500"/>
<rect x="72" y="362" width="1" height="3" fill="#ff4500"/>
<rect x="72" y="368" width="1" height="3" fill="#ff4500"/>
<rect x="72" y="374" width="1" height="3" fill="#ff4500"/>
<rect x="72" y="380" width="1" height="3" fill="#ff4500"/>
<rect x="72" y="386" width="1" height="3" fill="#ff4500"/>
<rect x="72" y="392" width="1" height="3" fill="#ff4500"/>
<rect x="72" y="398" width="1" height="3" fill="#ff4500"/>
<rect x="72" y="404" width="1" height="3" fill="#ff4500"/>
<rect x="72" y="410" width="1" height="3" fill="#ff4500"/>
<rect x="72" y="416" width="1" height="3" fill="#ff4500"/>
<rect x="72" y="422" width="1" height="3" fill="#ff4500"/>
<rect x="72" y="428" width="1" height="3" fill="#ff4500"/>
<rect x="72" y="434" width="1" height="3" fill="#ff4500"/>
<rect x="72" y="440" width="1" height="3" fill="#ff4500"/>
<rect x="72" y="446" width="1" height="3" fill="#ff4500"/>
<rect x="72" y="452" width="1" height="3" fill="#ff4500"/>
<rect x="72" y="458" width="1" height="3" fill="#ff4500"/>
<rect x="76" y="314" width="1" height="3" fill="#ff4500"/>
<rect x="76" y="320" width="1" height="3" fill="#ff4500"/>
<rect x="76" y="326" width="1" height="3" fill="#ff4500"/>
<rect x="76" y="332" width="1" height="3" fill="#ff4500"/>
<rect x="76" y="338" width="1" height="3" fill="#ff4500"/>
<rect x="76" y="344" width="1" height="3" fill="#ff4500"/>
<rect x="76" y="350" width="1" height="3" fill="#ff4500"/>
<rect x="76" y="356" width="1" height="3" fill="#ff4500"/>
<rect x="76" y="362" width="1" height="3" fill="#ff4500"/>
<rect x="76" y="368" width="1" height="3" fill="#ff4500"/>
<rect x="76" y="374" width="1" height="3" fill="#ff4500"/>
<rect x="76" y="380" width="1" height="3" fill="#ff4500"/>
<rect x="76" y="386" width="1" height="3" fill="#ff4500"/>
<rect x="76" y="392" width="1" height="3" fill="#ff4500"/>
<rect x="76" y="398" width="1" height="3" fill="#ff4500"/>
<rect x="76" y="404" width="1" height="3" fill="#ff4500"/>
<rect x="76" y="410" width="1" height="3" fill="#ff4500"/>
<rect x="76" y="416" width="1" height="3" fill="#ff4500"/>
<rect x="76" y="422" width="1" height="3" fill="#ff4500"/>
<rect x="76" y="428" width="1" height="3" fill="#ff4500"/>
<rect x="76" y="434" width="1" height="3" fill="#ff4500"/>
<rect x="76" y="440" width="1" height="3" fill="#ff4500"/>
<rect x="76" y="446" width="1" height="3" fill="#ff4500"/>
<rect x="76" y="452" width="1" height="3" fill="#ff4500"/>
<rect x="76" y="458" width="1" height="3" fill="#ff4500"/>
<rect x="76" y="464" width="1" height="1" fill="#ff4500"/>
<rect x="80" y="314" width="1" height="3" fill="#ff4500"/>
<rect x="80" y="320" width="1" height="3" fill="#ff4500"/>
<rect x="80" y="326" width="1" height="3" fill="#ff4500"/>
<rect x="80" y="332" width="1" height="3" fill="#ff4500"/>
<rect x="80" y="338" width="1" height="3" fill="#ff4500"/>
<rect x="80" y="344" width="1" height="3" fill="#ff4500"/>
<rect x="80" y="350" width="1" height="3" fill="#ff4500"/>
<rect x="80" y="356" width="1" height="3" fill="#ff4500"/>
<rect x="80" y="362" width="1" height="3" fill="#ff4500"/>
<rect x="80" y="368" width="1" height="3" fill="#ff4500"/>
<rect x="80" y="374" width="1" height="3" fill="#ff4500"/>
<rect x="80" y="380" width="1" height="3" fill="#ff4500"/>
<rect x="80" y="386" width="1" height="3" fill="#ff4500"/>
<rect x="80" y="392" width="1" height="3" fill="#ff4500"/>
<rect x="80" y="398" width="1" height="3" fill="#ff4500"/>
<rect x="80" y="404" width="1" height="3" fill="#ff4500"/>
<rect x="80" y="410" width="1" height="3" fill="#ff4500"/>
<rect x="80" y="416" width="1" height="3" fill="#ff4500"/>
<rect x="80" y="422" width="1" height="3" fill="#ff4500"/>
<rect x="80" y="428" width="1" height="3" fill="#ff4500"/>
<rect x="80" y="434" width="1" height="3" fill="#ff4500"/>
<rect x="80" y="440" width="1" height="3" fill="#ff4500"/>
<rect x="80" y="446" width="1" height="3" fill="#ff4500"/>
<rect x="80" y="452" width="1" height="3" fill="#ff4500"/>
<rect x="80" y="458" width="1" height="3" fill="#ff4500"/>
<rect x="80" y="464" width="1" height="3" fill="#ff4500"/>
<rect x="84" y="314" width="1" height="3" fill="#ff4500"/>
<rect x="84" y="320" width="1" height="3" fill="#ff4500"/>
<rect x="84" y="326" width="1" height="3" fill="#ff4500"/>
<rect x="84" y="332" width="1" height="3" fill="#ff4500"/>
<rect x="84" y="338" width="1" height="3" fill="#ff4500"/>
<rect x="84" y="344" width="1" height="3" fill="#ff4500"/>
<rect x="84" y="350" width="1" height="3" fill="#ff4500"/>
<rect x="84" y="356" width="1" height="3" fill="#ff4500"/>
<rect x="84" y="362" width="1" height="3" fill="#ff4500"/>
<rect x="84" y="368" width="1" height="3" fill="#ff4500"/>
<rect x="84" y="374" width="1" height="3" fill="#ff4500"/>
<rect x="84" y="380" width="1" height="3" fill="#ff4500"/>
<rect x="84" y="386" width="1" height="3" fill="#ff4500"/>
<rect x="84" y="392" width="1" height="3" fill="#ff4500"/>
<rect x="84" y="398" width="1" height="3" fill="#ff4500"/>
<rect x="84" y="404" width="1" height="3" fill="#ff4500"/>
<rect x="84" y="410" width="1" height="3" fill="#ff4500"/>
<rect x="84" y="416" width="1" height="3" fill="#ff4500"/>
<rect x="84" y="422" width="1" height="3" fill="#ff4500"/>
<rect x="84" y="428" width="1" height="3" fill="#ff4500"/>
<rect x="84" y="434" width="1" height="3" fill="#ff4500"/>
<rect x="84" y="440" width="1" height="3" fill="#ff4500"/>
<rect x="84" y="446" width="1" height="3" fill="#ff4500"/>
<rect x="84" y="452" width="1" height="3" fill="#ff4500"/>
<rect x="84" y="458" width="1" height="3" fill="#ff4500"/>
<rect x="84" y="464" width="1" height="3" fill="#ff4500"/>
<rect x="84" y="470" width="1" height="2" fill="#ff4500"/>
<rect x="88" y="314" width="1" height="3" fill="#ff4500"/>
<rect x="88" y="320" width="1" height="3" fill="#ff4500"/>
<rect x="88" y="326" width="1" height="3" fill="#ff4500"/>
<rect x="88" y="332" width="1" height="3" fill="#ff4500"/>
<rect x="88" y="338" width="1" height="3" fill="#ff4500"/>
<rect x="88" y="344" width="1" height="3" fill="#ff4500"/>
<rect x="88" y="350" width="1" height="3" fill="#ff4500"/>
<rect x="88" y="356" width="1" height="3" fill="#ff4500"/>
<rect x="88" y="362" width="1" height="3" fill="#ff4500"/>
<rect x="88" y="368" width="1" height="3" fill="#ff4500"/>
<rect x="88" y="374" width="1" height="3" fill="#ff4500"/>
<rect x="88" y="380" width="1" height="3" fill="#ff4500"/>
<rect x="88" y="386" width="1" height="3" fill="#ff4500"/>
<rect x="88" y="392" width="1" height="3" fill="#ff4500"/>
<rect x="88" y="398" width="1" height="3" fill="#ff4500"/>
<rect x="88" y="404" width="1" height="3" fill="#ff4500"/>
<rect x="88" y="410" width="1" height="3" fill="#ff4500"/>
<rect x="88" y="416" width="1" height="3" fill="#ff4500"/>
<rect x="88" y="422" width="1" height="3" fill="#ff4500"/>
<rect x="88" y="428" width="1" height="3" fill="#ff4500"/>
<rect x="88" y="434" width="1" height="3" fill="#ff4500"/>
<rect x="88" y="440" width="1" height="3" fill="#ff4500"/>
<rect x="88" y="446" width="1" height="3" fill="#ff4500"/>
<rect x="88" y="452" width="1" height="3" fill="#ff4500"/>
<rect x="88" y="458" width="1" height="3" fill="#ff4500"/>
<rect x="88" y="464" width="1" height="3" fill="#ff4500"/>
<rect x="88" y="470" width="1" height="3" fill="#ff4500"/>
<rect x="88" y="476" width="1" height="1" fill="#ff4500"/>
<rect x="92" y="314" width="1" height="3" fill="#ff4500"/>
<rect x="92" y="320" width="1" height="3" fill="#ff4500"/>
<rect x="92" y="326" width="1" height="3" fill="#ff4500"/>
<rect x="92" y="332" width="1" height="3" fill="#ff4500"/>
<rect x="92" y="338" width="1" height="3" fill="#ff4500"/>
<rect x="92" y="344" width="1" height="3" fill="#ff4500"/>
<rect x="92" y="350" width="1" height="3" fill="#ff4500"/>
<rect x="92" y="356" width="1" height="3" fill="#ff4500"/>
<rect x="92" y="362" width="1" height="3" fill="#ff4500"/>
<rect x="92" y="368" width="1" height="3" fill="#ff4500"/>
<rect x="92" y="374" width="1" height="3" fill="#ff4500"/>
<rect x="92" y="380" width="1" height="3" fill="#ff4500"/>
<rect x="92" y="386" width="1" height="3" fill="#ff4500"/>
<rect x="92" y="392" width="1" height="3" fill="#ff4500"/>
<rect x="92" y="398" width="1" height="3" fill="#ff4500"/>
<rect x="92" y="404" width="1" height="3" fill="#ff4500"/>
<rect x="92" y="410" width="1" height="3" fill="#ff4500"/>
<rect x="92" y="416" width="1" height="3" fill="#ff4500"/>
<rect x="92" y="422" width="1" height="3" fill="#ff4500"/>
<rect x="92" y="428" width="1" height="3" fill="#ff4500"/>
<rect x="92" y="434" width="1" height="3" fill="#ff4500"/>
<rect x="92" y="440" width="1" height="3" fill="#ff4500"/>
<rect x="92" y="446" width="1" height="3" fill="#ff4500"/>
<rect x="92" y="452" width="1" height="3" fill="#ff4500"/>
<rect x="92" y="458" width="1" height="3" fill="#ff4500"/>
<rect x="92" y="464" width="1" height="3" fill="#ff4500"/>
<rect x="92" y="470" width="1" height="3" fill="#ff4500"/>
<rect x="96" y="314" width="1" height="3" fill="#ff4500"/>
<rect x="96" y="320" width="1" height="3" fill="#ff4500"/>
<rect x="96" y="326" width="1" height="3" fill="#ff4500"/>
<rect x="96" y="332" width="1" height="3" fill="#ff4500"/>
<rect x="96" y="338" width="1" height="3" fill="#ff4500"/>
<rect x="96" y="344" width="1" height="3" fill="#ff4500"/>
<rect x="96" y="350" width="1" height="3" fill="#ff4500"/>
<rect x="96" y="356" width="1" height="3" fill="#ff4500"/>
<rect x="96" y="362" width="1" height="3" fill="#ff4500"/>
<rect x="96" y="368" width="1" height="3" fill="#ff4500"/>
<rect x="96" y="374" width="1" height="3" fill="#ff4500"/>
<rect x="96" y="380" width="1" height="3" fill="#ff4500"/>
<rect x="96" y="386" width="1" height="3" fill="#ff4500"/>
<rect x="96" y="392" width="1" height="3" fill="#ff4500"/>
<rect x="96" y="398" width="1" height="3" fill="#ff4500"/>
<rect x="96" y="404" width="1" height="3" fill="#ff4500"/>
<rect x="96" y="410" width="1" height="3" fill="#ff4500"/>
<rect x="96" y="416" width="1" height="3" fill="#ff4500"/>
<rect x="96" y="422" width="1" height="3" fill="#ff4500"/>
<rect x="96" y="428" width="1" height="3" fill="#ff4500"/>
<rect x="96" y="434" width="1" height="3" fill="#ff4500"/>
<rect x="96" y="440" width="1" height="3" fill="#ff4500"/>
<rect x="96" y="446" width="1" height="3" fill="#ff4500"/>
<rect x="96" y="452" width="1" height="3" fill="#ff4500"/>
<rect x="96" y="458" width="1" height="3" fill="#ff4500"/>
<rect x="96" y="464" width="1" height="3" fill="#ff4500"/>
<rect x="96" y="470" width="1" height="3" fill="#ff4500"/>
<rect x="96" y="476" width="1" height="3" fill="#ff4500"/>
<rect x="96" y="482" width="1" height="1" fill="#ff4500"/>
<rect x="100" y="314" width="1" height="3" fill="#ff4500"/>
<rect x="100" y="320" width="1" height="3" fill="#ff4500"/>
<rect x="100" y="326" width="1" height="3" fill="#ff4500"/>
<rect x="100" y="332" width="1" height="3" fill="#ff4500"/>
<rect x="100" y="338" width="1" height="3" fill="#ff4500"/>
<rect x="100" y="344" width="1" height="3" fill="#ff4500"/>
<rect x="100" y="350" width="1" height="3" fill="#ff4500"/>
<rect x="100" y="356" width="1" height="3" fill="#ff4500"/>
<rect x="100" y="362" width="1" height="3" fill="#ff4500"/>
<rect x="100" y="368" width="1" height="3" fill="#ff4500"/>
<rect x="100" y="374" width="1" height="3" fill="#ff4500"/>
<rect x="100" y="380" width="1" height="3" fill="#ff4500"/>
<rect x="100" y="386" width="1" height="3" fill="#ff4500"/>
<rect x="100" y="392" width="1" height="3" fill="#ff4500"/>
<rect x="100" y="398" width="1" height="3" fill="#ff4500"/>
<rect x="100" y="404" width="1" height="3" fill="#ff4500"/>
<rect x="100" y="410" width="1" height="3" fill="#ff4500"/>
<rect x="100" y="416" width="1" height="3" fill="#ff4500"/>
<rect x="100" y="422" width="1" height="3" fill="#ff4500"/>
<rect x="100" y="428" width="1" height="3" fill="#ff4500"/>
<rect x="100" y="434" width="1" height="3" fill="#ff4500"/>
<rect x="100" y="440" width="1" height="3" fill="#ff4500"/>
<rect x="100" y="446" width="1" height="3" fill="#ff4500"/>
<rect x="100" y="452" width="1" height="3" fill="#ff4500"/>
<rect x="100" y="458" width="1" height="3" fill="#ff4500"/>
<rect x="100" y="464" width="1" height="3" fill="#ff4500"/>
<rect x="100" y="470" width="1" height="3" fill="#ff4500"/>
<rect x="100" y="476" width="1" height="3" fill="#ff4500"/>
<rect x="100" y="482" width="1" height="1" fill="#ff4500"/>
<rect x="104" y="314" width="1" height="3" fill="#ff4500"/>
<rect x="104" y="320" width="1" height="3" fill="#ff4500"/>
<rect x="104" y="326" width="1" height="3" fill="#ff4500"/>
<rect x="104" y="332" width="1" height="3" fill="#ff4500"/>
<rect x="104" y="338" width="1" height="3" fill="#ff4500"/>
<rect x="104" y="344" width="1" height="3" fill="#ff4500"/>
<rect x="104" y="350" width="1" height="3" fill="#ff4500"/>
<rect x="104" y="356" width="1" height="3" fill="#ff4500"/>
<rect x="104" y="362" width="1" height="3" fill="#ff4500"/>
<rect x="104" y="368" width="1" height="3" fill="#ff4500"/>
<rect x="104" y="374" width="1" height="3" fill="#ff4500"/>
<rect x="104" y="380" width="1" height="3" fill="#ff4500"/>
<rect x="104" y="386" width="1" height="3" fill="#ff4500"/>
<rect x="104" y="392" width="1" height="3" fill="#ff4500"/>
<rect x="104" y="398" width="1" height="3" fill="#ff4500"/>
<rect x="104" y="404" width="1" height="3" fill="#ff4500"/>
<rect x="104" y="410" width="1" height="3" fill="#ff4500"/>
<rect x="104" y="416" width="1" height="3" fill="#ff4500"/>
<rect x="104" y="422" width="1" height="3" fill="#ff4500"/>
<rect x="104" y="428" width="1" height="3" fill="#ff4500"/>
<rect x="104" y="434" width="1" height="3" fill="#ff4500"/>
<rect x="104" y="440" width="1" height="3" fill="#ff4500"/>
<rect x="104" y="446" width="1" height="3" fill="#ff4500"/>
<rect x="104" y="452" width="1" height="3" fill="#ff4500"/>
<rect x="104" y="458" width="1" height="3" fill="#ff4500"/>
<rect x="104" y="464" width="1" height="3" fill="#ff4500"/>
<rect x="104" y="470" width="1" height="3" fill="#ff4500"/>
<rect x="104" y="476" width="1" height="3" fill="#ff4500"/>
<rect x="108" y="314" width="1" height="3" fill="#ff4500"/>
<rect x="108" y="320" width="1" height="3" fill="#ff4500"/>
<rect x="108" y="326" width="1" height="3" fill="#ff4500"/>
<rect x="108" y="332" width="1" height="3" fill="#ff4500"/>
<rect x="108" y="338" width="1" height="3" fill="#ff4500"/>
<rect x="108" y="344" width="1" height="3" fill="#ff4500"/>
<rect x="108" y="350" width="1" height="3" fill="#ff4500"/>
<rect x="108" y="356" width="1" height="3" fill="#ff4500"/>
<rect x="108" y="362" width="1" height="3" fill="#ff4500"/>
<rect x="108" y="368" width="1" height="3" fill="#ff4500"/>
<rect x="108" y="374" width="1" height="3" fill="#ff4500"/>
<rect x="108" y="380" width="1" height="3" fill="#ff4500"/>
<rect x="108" y="386" width="1" height="3" fill="#ff4500"/>
<rect x="108" y="392" width="1" height="3" fill="#ff4500"/>
<rect x="108" y="398" width="1" height="3" fill="#ff4500"/>
<rect x="108" y="404" width="1" height="3" fill="#ff4500"/>
<rect x="108" y="410" width="1" height="3" fill="#ff4500"/>
<rect x="108" y="416" width="1" height="3" fill="#ff4500"/>
<rect x="108" y="422" width="1" height="3" fill="#ff4500"/>
<rect x="108" y="428" width="1" height="3" fill="#ff4500"/>
<rect x="108" y="434" width="1" height="3" fill="#ff4500"/>
<rect x="108" y="440" width="1" height="3" fill="#ff4500"/>
<rect x="108" y="446" width="1" height="3" fill="#ff4500"/>
<rect x="108" y="452" width="1" height="3" fill="#ff4500"/>
<rect x="108" y="458" width="1" height="3" fill="#ff4500"/>
<rect x="108" y="464" width="1" height="3" fill="#ff4500"/>
<rect x="108" y="470" width="1" height="3" fill="#ff4500"/>
<rect x="112" y="314" width="1" height="3" fill="#ff4500"/>
<rect x="112" y="320" width="1" height="3" fill="#ff4500"/>
<rect x="112" y="326" width="1" height="3" fill="#ff4500"/>
<rect x="112" y="332" width="1" height="3" fill="#ff4500"/>
<rect x="112" y="338" width="1" height="3" fill="#ff4500"/>
<rect x="112" y="344" width="1" height="3" fill="#ff4500"/>
<rect x="112" y="350" width="1" height="3" fill="#ff4500"/>
<rect x="112" y="356" width="1" height="3" fill="#ff4500"/>
<rect x="112" y="362" width="1" height="3" fill="#ff4500"/>
<rect x="112" y="368" width="1" height="3" fill="#ff4500"/>
<rect x="112" y="374" width="1" height="3" fill="#ff4500"/>
<rect x="112" y="380" width="1" height="3" fill="#ff4500"/>
<rect x="112" y="386" width="1" height="3" fill="#ff4500"/>
<rect x="112" y="392" width="1" height="3" fill="#ff4500"/>
<rect x="112" y="398" width="1" height="3" fill="#ff4500"/>
<rect x="112" y="404" width="1" height="3" fill="#ff4500"/>
<rect x="112" y="410" width="1" height="3" fill="#ff4500"/>
<rect x="112" y="416" width="1" height="3" fill="#ff4500"/>
<rect x="112" y="422" width="1" height="3" fill="#ff4500"/>
<rect x="112" y="428" width="1" height="3" fill="#ff4500"/>
<rect x="112" y="434" width="1" height="3" fill="#ff4500"/>
<rect x="112" y="440" width="1" height="3" fill="#ff4500"/>
<rect x="112" y="446" width="1" height="3" fill="#ff4500"/>
<rect x="112" y="452" width="1" height="3" fill="#ff4500"/>
<rect x="112" y="458" width="1" height="3" fill="#ff4500"/>
<rect x="112" y="464" width="1" height="3" fill="#ff4500"/>
<rect x="112" y="470" width="1" height="2" fill="#ff4500"/>
<rect x="116" y="314" width="1" height="3" fill="#ff4500"/>
<rect x="116" y="320" width="1" height="3" fill="#ff4500"/>
<rect x="116" y="326" width="1" height="3" fill="#ff4500"/>
<rect x="116" y="332" width="1" height="3" fill="#ff4500"/>
<rect x="116" y="338" width="1" height="3" fill="#ff4500"/>
<rect x="116" y="344" width="1" height="3" fill="#ff4500"/>
<rect x="116" y="350" width="1" height="3" fill="#ff4500"/>
<rect x="116" y="356" width="1" height="3" fill="#ff4500"/>
<rect x="116" y="362" width="1" height="3" fill="#ff4500"/>
<rect x="116" y="368" width="1" height="3" fill="#ff4500"/>
<rect x="116" y="374" width="1" height="3" fill="#ff4500"/>
<rect x="116" y="380" width="1" height="3" fill="#ff4500"/>
<rect x="116" y="386" width="1" height="3" fill="#ff4500"/>
<rect x="116" y="392" width="1" height="3" fill="#ff4500"/>
<rect x="116" y="398" width="1" height="3" fill="#ff4500"/>
<rect x="116" y="404" width="1" height="3" fill="#ff4500"/>
<rect x="116" y="410" width="1" height="3" fill="#ff4500"/>
<rect x="116" y="416" width="1" height="3" fill="#ff4500"/>
<rect x="116" y="422" width="1" height="3" fill="#ff4500"/>
<rect x="116" y="428" width="1" height="3" fill="#ff4500"/>
<rect x="116" y="434" width="1" height="3" fill="#ff4500"/>
<rect x="116" y="440" width="1" height="3" fill="#ff4500"/>
<rect x="116" y="446" width="1" height="3" fill="#ff4500"/>
<rect x="116" y="452" width="1" height="3" fill="#ff4500"/>
<rect x="116" y="458" width="1" height="3" fill="#ff4500"/>
<rect x="116" y="464" width="1" height="3" fill="#ff4500"/>
<rect x="116" y="470" width="1" height="2" fill="#ff4500"/>
<rect x="120" y="314" width="1" height="3" fill="#ff4500"/>
<rect x="120" y="320" width="1" height="3" fill="#ff4500"/>
<rect x="120" y="326" width="1" height="3" fill="#ff4500"/>
<rect x="120" y="332" width="1" height="3" fill="#ff4500"/>
<rect x="120" y="338" width="1" height="3" fill="#ff4500"/>
<rect x="120" y="344" width="1" height="3" fill="#ff4500"/>
<rect x="120" y="350" width="1" height="3" fill="#ff4500"/>
<rect x="120" y="356" width="1" height="3" fill="#ff4500"/>
<rect x="120" y="362" width="1" height="3" fill="#ff4500"/>
<rect x="120" y="368" width="1" height="3" fill="#ff4500"/>
<rect x="120" y="374" width="1" height="3" fill="#ff4500"/>
<rect x="120" y="380" width="1" height="3" fill="#ff4500"/>
<rect x="120" y="386" width="1" height="3" fill="#ff4500"/>
<rect x="120" y="392" width="1" height="3" fill="#ff4500"/>
<rect x="120" y="398" width="1" height="3" fill="#ff4500"/>
<rect x="120" y="404" width="1" height="3" fill="#ff4500"/>
<rect x="120" y="410" width="1" height="3" fill="#ff4500"/>
<rect x="120" y="416" width="1" height="3" fill="#ff4500"/>
<rect x="120" y="422" width="1" height="3" fill="#ff4500"/>
<rect x="120" y="428" width="1" height="3" fill="#ff4500"/>
<rect x="120" y="434" width="1" height="3" fill="#ff4500"/>
<rect x="120" y="440" width="1" height="3" fill="#ff4500"/>
<rect x="120" y="446" width="1" height="3" fill="#ff4500"/>
<rect x="120" y="452" width="1" height="3" fill="#ff4500"/>
<rect x="120" y="458" width="1" height="3" fill="#ff4500"/>
<rect x="120" y="464" width="1" height="3" fill="#ff4500"/>
<rect x="124" y="314" width="1" height="3" fill="#ff4500"/>
<rect x="124" y="320" width="1" height="3" fill="#ff4500"/>
<rect x="124" y="326" width="1" height="3" fill="#ff4500"/>
<rect x="124" y="332" width="1" height="3" fill="#ff4500"/>
<rect x="124" y="338" width="1" height="3" fill="#ff4500"/>
<rect x="124" y="344" width="1" height="3" fill="#ff4500"/>
<rect x="124" y="350" width="1" height="3" fill="#ff4500"/>
<rect x="124" y="356" width="1" height="3" fill="#ff4500"/>
<rect x="124" y="362" width="1" height="3" fill="#ff4500"/>
<rect x="124" y="368" width="1" height="3" fill="#ff4500"/>
<rect x="124" y="374" width="1" height="3" fill="#ff4500"/>
<rect x="124" y="380" width="1" height="3" fill="#ff4500"/>
<rect x="124" y="386" width="1" height="3" fill="#ff4500"/>
<rect x="124" y="392" width="1" height="3" fill="#ff4500"/>
<rect x="124" y="398" width="1" height="3" fill="#ff4500"/>
<rect x="124" y="404" width="1" height="3" fill="#ff4500"/>
<rect x="124" y="410" width="1" height="3" fill="#ff4500"/>
<rect x="124" y="416" width="1" height="3" fill="#ff4500"/>
<rect x="124" y="422" width="1" height="3" fill="#ff4500"/>
<rect x="124" y="428" width="1" height="3" fill="#ff4500"/>
<rect x="124" y="434" width="1" height="3" fill="#ff4500"/>
<rect x="124" y="440" width="1" height="3" fill="#ff4500"/>
<rect x="124" y="446" width="1" height="3" fill="#ff4500"/>
<rect x="124" y="452" width="1" height="3" fill="#ff4500"/>
<rect x="124" y="458" width="1" height="1" fill="#ff4500"/>
<rect x="128" y="314" width="1" height="3" fill="#ff4500"/>
<rect x="128" y="320" width="1" height="3" fill="#ff4500"/>
<rect x="128" y="326" width="1" height="3" fill="#ff4500"/>
<rect x="128" y="332" width="1" height="3" fill="#ff4500"/>
<rect x="128" y="338" width="1" height="3" fill="#ff4500"/>
<rect x="128" y="344" width="1" height="3" fill="#ff4500"/>
<rect x="128" y="350" width="1" height="3" fill="#ff4500"/>
<rect x="128" y="356" width="1" height="3" fill="#ff4500"/>
<rect x="128" y="362" width="1" height="3" fill="#ff4500"/>
<rect x="128" y="368" width="1" height="3" fill="#ff4500"/>
<rect x="128" y="374" width="1" height="3" fill="#ff4500"/>
<rect x="128" y="380" width="1" height="3" fill="#ff4500"/>
<rect x="128" y="386" width="1" height="3" fill="#ff4500"/>
<rect x="128" y="392" width="1" height="3" fill="#ff4500"/>
<rect x="128" y="398" width="1" height="3" fill="#ff4500"/>
<rect x="128" y="404" width="1" height="3" fill="#ff4500"/>
<rect x="128" y="410" width="1" height="3" fill="#ff4500"/>
<rect x="128" y="416" width="1" height="3" fill="#ff4500"/>
<rect x="128" y="422" width="1" height="3" fill="#ff4500"/>
<rect x="128" y="428" width="1" height="3" fill="#ff4500"/>
<rect x="128" y="434" width="1" height="3" fill="#ff4500"/>
<rect x="128" y="440" width="1" height="3" fill="#ff4500"/>
<rect x="132" y="314" width="1" height="3" fill="#ff4500"/>
<rect x="132" y="320" width="1" height="3" fill="#ff4500"/>
<rect x="132" y="326" width="1" height="3" fill="#ff4500"/>
<rect x="132" y="332" width="1" height="3" fill="#ff4500"/>
<rect x="132" y="338" width="1" height="3" fill="#ff4500"/>
<rect x="132" y="344" width="1" height="3" fill="#ff4500"/>
<rect x="132" y="350" width="1" height="3" fill="#ff4500"/>
<rect x="132" y="356" width="1" height="3" fill="#ff4500"/>
<rect x="132" y="362" width="1" height="3" fill="#ff4500"/>
<rect x="132" y="368" width="1" height="3" fill="#ff4500"/>
<rect x="132" y="374" width="1" height="3" fill="#ff4500"/>
<rect x="132" y="380" width="1" height="3" fill="#ff4500"/>
<rect x="132" y="386" width="1" height="3" fill="#ff4500"/>
<rect x="132" y="392" width="1" height="3" fill="#ff4500"/>
<rect x="132" y="398" width="1" height="3" fill="#ff4500"/>
<rect x="132" y="404" width="1" height="3" fill="#ff4500"/>
<rect x="132" y="410" width="1" height="3" fill="#ff4500"/>
<rect x="132" y="416" width="1" height="3" fill="#ff4500"/>
<rect x="132" y="422" width="1" height="3" fill="#ff4500"/>
<rect x="132" y="428" width="1" height="3" fill="#ff4500"/>
<rect x="132" y="434" width="1" height="3" fill="#ff4500"/>
<rect x="132" y="440" width="1" height="1" fill="#ff4500"/>
<rect x="136" y="314" width="1" height="3" fill="#ff4500"/>
<rect x="136" y="320" width="1" height="3" fill="#ff4500"/>
<rect x="136" y="326" width="1" height="3" fill="#ff4500"/>
<rect x="136" y="332" width="1" height="3" fill="#ff4500"/>
<rect x="136" y="338" width="1" height="3" fill="#ff4500"/>
<rect x="136" y="344" width="1" height="3" fill="#ff4500"/>
<rect x="136" y="350" width="1" height="3" fill="#ff4500"/>
<rect x="136" y="356" width="1" height="3" fill="#ff4500"/>
<rect x="136" y="362" width="1" height="3" fill="#ff4500"/>
<rect x="136" y="368" width="1" height="3" fill="#ff4500"/>
<rect x="136" y="374" width="1" height="3" fill="#ff4500"/>
<rect x="136" y="380" width="1" height="3" fill="#ff4500"/>
<rect x="136" y="386" width="1" height="3" fill="#ff4500"/>
<rect x="136" y="392" width="1" height="3" fill="#ff4500"/>
<rect x="136" y="398" width="1" height="3" fill="#ff4500"/>
<rect x="136" y="404" width="1" height="3" fill="#ff4500"/>
<rect x="136" y="410" width="1" height="3" fill="#ff4500"/>
<rect x="136" y="416" width="1" height="3" fill="#ff4500"/>
<rect x="136" y="422" width="1" height="3" fill="#ff4500"/>
<rect x="136" y="428" width="1" height="3" fill="#ff4500"/>
<rect x="136" y="434" width="1" height="3" fill="#ff4500"/>
<rect x="140" y="314" width="1" height="3" fill="#ff4500"/>
<rect x="140" y="320" width="1" height="3" fill="#ff4500"/>
<rect x="140" y="326" width="1" height="3" fill="#ff4500"/>
<rect x="140" y="332" width="1" height="3" fill="#ff4500"/>
<rect x="140" y="338" width="1" height="3" fill="#ff4500"/>
<rect x="140" y="344" width="1" height="3" fill="#ff4500"/>
<rect x="140" y="350" width="1" height="3" fill="#ff4500"/>
<rect x="140" y="356" width="1" height="3" fill="#ff4500"/>
<rect x="140" y="362" width="1" height="3" fill="#ff4500"/>
<rect x="140" y="368" width="1" height="3" fill="#ff4500"/>
<rect x="140" y="374" width="1" height="3" fill="#ff4500"/>
<rect x="140" y="380" width="1" height="3" fill="#ff4500"/>
<rect x="140" y="386" width="1" height="3" fill="#ff4500"/>
<rect x="140" y="392" width="1" height="3" fill="#ff4500"/>
<rect x="140" y="398" width="1" height="3" fill="#ff4500"/>
<rect x="140" y="404" width="1" height="3" fill="#ff4500"/>
<rect x="140" y="410" width="1" height="3" fill="#ff4500"/>
<rect x="140" y="416" width="1" height="3" fill="#ff4500"/>
<rect x="144" y="314" width="1" height="3" fill="#ff4500"/>
<rect x="144" y="320" width="1" height="3" fill="#ff4500"/>
<rect x="144" y="326" width="1" height="3" fill="#ff4500"/>
<rect x="144" y="332" width="1" height="3" fill="#ff4500"/>
<rect x="144" y="338" width="1" height="3" fill="#ff4500"/>
<rect x="144" y="344" width="1" height="3" fill="#ff4500"/>
<rect x="144" y="350" width="1" height="3" fill="#ff4500"/>
<rect x="144" y="356" width="1" height="3" fill="#ff4500"/>
<rect x="144" y="362" width="1" height="3" fill="#ff4500"/>
<rect x="144" y="368" width="1" height="3" fill="#ff4500"/>
<rect x="144" y="374" width="1" height="3" fill="#ff4500"/>
<rect x="144" y="380" width="1" height="3" fill="#ff4500"/>
<rect x="144" y="386" width="1" height="3" fill="#ff4500"/>
<rect x="144" y="392" width="1" height="3" fill="#ff4500"/>
<rect x="144" y="398" width="1" height="3" fill="#ff4500"/>
<rect x="144" y="404" width="1" height="3" fill="#ff4500"/>
<rect x="144" y="410" width="1" height="3" fill="#ff4500"/>
<rect x="144" y="416" width="1" height="2" fill="#ff4500"/>
<rect x="148" y="314" width="1" height="3" fill="#ff4500"/>
<rect x="148" y="320" width="1" height="3" fill="#ff4500"/>
<rect x="148" y="326" width="1" height="3" fill="#ff4500"/>
<rect x="148" y="332" width="1" height="3" fill="#ff4500"/>
<rect x="148" y="338" width="1" height="3" fill="#ff4500"/>
<rect x="148" y="344" width="1" height="3" fill="#ff4500"/>
<rect x="148" y="350" width="1" height="3" fill="#ff4500"/>
<rect x="148" y="356" width="1" height="3" fill="#ff4500"/>
<rect x="148" y="362" width="1" height="3" fill="#ff4500"/>
<rect x="148" y="368" width="1" height="3" fill="#ff4500"/>
<rect x="148" y="374" width="1" height="3" fill="#ff4500"/>
<rect x="148" y="380" width="1" height="3" fill="#ff4500"/>
<rect x="148" y="386" width="1" height="3" fill="#ff4500"/>
<rect x="148" y="392" width="1" height="3" fill="#ff4500"/>
<rect x="148" y="398" width="1" height="3" fill="#ff4500"/>
<rect x="148" y="404" width="1" height="3" fill="#ff4500"/>
<rect x="148" y="410" width="1" height="3" fill="#ff4500"/>
<rect x="152" y="314" width="1" height="3" fill="#ff4500"/>
<rect x="152" y="320" width="1" height="3" fill="#ff4500"/>
<rect x="152" y="326" width="1" height="3" fill="#ff4500"/>
<rect x="152" y="332" width="1" height="3" fill="#ff4500"/>
<rect x="152" y="338" width="1" height="3" fill="#ff4500"/>
<rect x="152" y="344" width="1" height="3" fill="#ff4500"/>
<rect x="152" y="350" width="1" height="3" fill="#ff4500"/>
<rect x="152" y="356" width="1" height="3" fill="#ff4500"/>
<rect x="152" y="362" width="1" height="3" fill="#ff4500"/>
<rect x="152" y="368" width="1" height="3" fill="#ff4500"/>
<rect x="152" y="374" width="1" height="3" fill="#ff4500"/>
<rect x="152" y="380" width="1" height="3" fill="#ff4500"/>
<rect x="152" y="386" width="1" height="3" fill="#ff4500"/>
<rect x="152" y="392" width="1" height="3" fill="#ff4500"/>
<rect x="152" y="398" width="1" height="3" fill="#ff4500"/>
<rect x="152" y="404" width="1" height="3" fill="#ff4500"/>
<rect x="152" y="410" width="1" height="3" fill="#ff4500"/>
<rect x="156" y="314" width="1" height="3" fill="#ff4500"/>
<rect x="156" y="320" width="1" height="3" fill="#ff4500"/>
<rect x="156" y="326" width="1" height="3" fill="#ff4500"/>
<rect x="156" y="332" width="1" height="3" fill="#ff4500"/>
<rect x="156" y="338" width="1" height="3" fill="#ff4500"/>
<rect x="156" y="344" width="1" height="3" fill="#ff4500"/>
<rect x="156" y="350" width="1" height="3" fill="#ff4500"/>
<rect x="156" y="356" width="1" height="3" fill="#ff4500"/>
<rect x="156" y="362" width="1" height="3" fill="#ff4500"/>
<rect x="156" y="368" width="1" height="3" fill="#ff4500"/>
<rect x="156" y="374" width="1" height="3" fill="#ff4500"/>
<rect x="156" y="380" width="1" height="3" fill="#ff4500"/>
<rect x="156" y="386" width="1" height="3" fill="#ff4500"/>
<rect x="156" y="392" width="1" height="3" fill="#ff4500"/>
<rect x="156" y="398" width="1" height="3" fill="#ff4500"/>
<rect x="156" y="404" width="1" height="3" fill="#ff4500"/>
<rect x="160" y="358" width="1" height="3" fill="#ff4500"/>
<rect x="160" y="364" width="1" height="3" fill="#ff4500"/>
<rect x="160" y="370" width="1" height="3" fill="#ff4500"/>
<rect x="160" y="376" width="1" height="3" fill="#ff4500"/>
<rect x="160" y="382" width="1" height="3" fill="#ff4500"/>
<rect x="160" y="388" width="1" height="3" fill="#ff4500"/>
<rect x="160" y="394" width="1" height="3" fill="#ff4500"/>
<rect x="160" y="400" width="1" height="3" fill="#ff4500"/>
<rect x="164" y="382" width="1" height="3" fill="#ff4500"/>
<rect x="164" y="388" width="1" height="3" fill="#ff4500"/>
<rect x="164" y="394" width="1" height="3" fill="#ff4500"/>
<rect x="164" y="400" width="1" height="3" fill="#ff4500"/>
<rect x="168" y="408" width="1" height="3" fill="#3cb371"/>
<rect x="168" y="414" width="1" height="3" fill="#3cb371"/>
<rect x="172" y="408" width="1" height="3" fill="#3cb371"/>
<rect x="172" y="414" width="1" height="3" fill="#3cb371"/>
<rect x="172" y="420" width="1" height="3" fill="#3cb371"/>
<rect x="176" y="408" width="1" height="3" fill="#3cb371"/>
<rect x="176" y="414" width="1" height="3" fill="#3cb371"/>
<rect x="176" y="420" width="1" height="3" fill="#3cb371"/>
<rect x="176" y="426" width="1" height="1" fill="#3cb371"/>
<rect x="180" y="408" width="1" height="3" fill="#3cb371"/>
<rect x="180" y="414" width="1" height="3" fill="#3cb371"/>
<rect x="180" y="420" width="1" height="3" fill="#3cb371"/>
<rect x="180" y="426" width="1" height="3" fill="#3cb371"/>
<rect x="184" y="406" width="1" height="3" fill="#3cb371"/>
<rect x="184" y="412" width="1" height="3" fill="#3cb371"/>
<rect x="184" y="418" width="1" height="3" fill="#3cb371"/>
<rect x="184" y="424" width="1" height="3" fill="#3cb371"/>
<rect x="184" y="430" width="1" height="3" fill="#3cb371"/>
<rect x="184" y="436" width="1" height="2" fill="#3cb371"/>
<rect x="188" y="400" width="1" height="3" fill="#3cb371"/>
<rect x="188" y="406" width="1" height="3" fill="#3cb371"/>
<rect x="188" y="412" width="1" height="3" fill="#3cb371"/>
<rect x="188" y="418" width="1" height="3" fill="#3cb371"/>
<rect x="188" y="424" width="1" height="3" fill="#3cb371"/>
<rect x="188" y="430" width="1" height="3" fill="#3cb371"/>
<rect x="192" y="395" width="1" height="3" fill="#3cb371"/>
<rect x="192" y="401" width="1" height="3" fill="#3cb371"/>
<rect x="192" y="407" width="1" height="3" fill="#3cb371"/>
<rect x="192" y="413" width="1" height="3" fill="#3cb371"/>
<rect x="192" y="419" width="1" height="3" fill="#3cb371"/>
<rect x="192" y="425" width="1" height="3" fill="#3cb371"/>
<rect x="192" y="431" width="1" height="3" fill="#3cb371"/>
<rect x="196" y="387" width="1" height="3" fill="#3cb371"/>
<rect x="196" y="393" width="1" height="3" fill="#3cb371"/>
<rect x="196" y="399" width="1" height="3" fill="#3cb371"/>
<rect x="196" y="405" width="1" height="3" fill="#3cb371"/>
<rect x="196" y="411" width="1" height="3" fill="#3cb371"/>
<rect x="196" y="417" width="1" height="3" fill="#3cb371"/>
<rect x="196" y="423" width="1" height="2" fill="#3cb371"/>
<rect x="200" y="374" width="1" height="3" fill="#3cb371"/>
<rect x="200" y="380" width="1" height="3" fill="#3cb371"/>
<rect x="200" y="386" width="1" height="3" fill="#3cb371"/>
<rect x="200" y="392" width="1" height="3" fill="#3cb371"/>
<rect x="200" y="398" width="1" height="3" fill="#3cb371"/>
<rect x="200" y="404" width="1" height="3" fill="#3cb371"/>
<rect x="200" y="410" width="1" height="3" fill="#3cb371"/>
<rect x="200" y="416" width="1" height="3" fill="#3cb371"/>
<rect x="200" y="422" width="1" height="1" fill="#3cb371"/>
<rect x="204" y="367" width="1" height="3" fill="#3cb371"/>
<rect x="204" y="373" width="1" height="3" fill="#3cb371"/>
<rect x="204" y="379" width="1" height="3" fill="#3cb371"/>
<rect x="204" y="385" width="1" height="3" fill="#3cb371"/>
<rect x="204" y="391" width="1" height="3" fill="#3cb371"/>
<rect x="204" y="397" width="1" height="3" fill="#3cb371"/>
<rect x="204" y="403" width="1" height="3" fill="#3cb371"/>
<rect x="204" y="409" width="1" height="3" fill="#3cb371"/>
<rect x="208" y="357" width="1" height="3" fill="#3cb371"/>
<rect x="208" y="363" width="1" height="3" fill="#3cb371"/>
<rect x="208" y="369" width="1" height="3" fill="#3cb371"/>
<rect x="208" y="375" width="1" height="3" fill="#3cb371"/>
<rect x="208" y="381" width="1" height="3" fill="#3cb371"/>
<rect x="208" y="387" width="1" height="3" fill="#3cb371"/>
<rect x="208" y="393" width="1" height="3" fill="#3cb371"/>
<rect x="208" y="399" width="1" height="3" fill="#3cb371"/>
<rect x="208" y="405" width="1" height="3" fill="#3cb371"/>
<rect x="208" y="411" width="1" height="3" fill="#3cb371"/>
<rect x="212" y="352" width="1" height="3" fill="#3cb371"/>
<rect x="212" y="358" width="1" height="3" fill="#3cb371"/>
<rect x="212" y="364" width="1" height="3" fill="#3cb371"/>
<rect x="212" y="370" width="1" height="3" fill="#3cb371"/>
<rect x="212" y="376" width="1" height="3" fill="#3cb371"/>
<rect x="212" y="382" width="1" height="3" fill="#3cb371"/>
<rect x="212" y="388" width="1" height="3" fill="#3cb371"/>
<rect x="212" y="394" width="1" height="3" fill="#3cb371"/>
<rect x="212" y="400" width="1" height="3" fill="#3cb371"/>
<rect x="212" y="406" width="1" height="3" fill="#3cb371"/>
<rect x="212" y="412" width="1" height="3" fill="#3cb371"/>
<rect x="216" y="346" width="1" height="3" fill="#3cb371"/>
<rect x="216" y="352" width="1" height="3" fill="#3cb371"/>
<rect x="216" y="358" width="1" height="3" fill="#3cb371"/>
<rect x="216" y="364" width="1" height="3" fill="#3cb371"/>
<rect x="216" y="370" width="1" height="3" fill="#3cb371"/>
<rect x="216" y="376" width="1" height="3" fill="#3cb371"/>
<rect x="216" y="382" width="1" height="3" fill="#3cb371"/>
<rect x="216" y="388" width="1" height="3" fill="#3cb371"/>
<rect x="216" y="394" width="1" height="3" fill="#3cb371"/>
<rect x="216" y="400" width="1" height="3" fill="#3cb371"/>
<rect x="216" y="406" width="1" height="3" fill="#3cb371"/>
<rect x="216" y="412" width="1" height="3" fill="#3cb371"/>
<rect x="220" y="340" width="1" height="3" fill="#3cb371"/>
<rect x="220" y="346" width="1" height="3" fill="#3cb371"/>
<rect x="220" y="352" width="1" height="3" fill="#3cb371"/>
<rect x="220" y="358" width="1" height="3" fill="#3cb371"/>
<rect x="220" y="364" width="1" height="3" fill="#3cb371"/>
<rect x="220" y="370" width="1" height="3" fill="#3cb371"/>
<rect x="220" y="376" width="1" height="3" fill="#3cb371"/>
<rect x="220" y="382" width="1" height="3" fill="#3cb371"/>
<rect x="220" y="388" width="1" height="3" fill="#3cb371"/>
<rect x="220" y="394" width="1" height="3" fill="#3cb371"/>
<rect x="220" y="400" width="1" height="3" fill="#3cb371"/>
<rect x="220" y="406" width="1" height="3" fill="#3cb371"/>
<rect x="220" y="412" width="1" height="3" fill="#3cb371"/>
<rect x="224" y="336" width="1" height="3" fill="#3cb371"/>
<rect x="224" y="342" width="1" height="3" fill="#3cb371"/>
<rect x="224" y="348" width="1" height="3" fill="#3cb371"/>
<rect x="224" y="354" width="1" height="3" fill="#3cb371"/>
<rect x="224" y="360" width="1" height="3" fill="#3cb371"/>
<rect x="224" y="366" width="1" height="3" fill="#3cb371"/>
<rect x="224" y="372" width="1" height="3" fill="#3cb371"/>
<rect x="224" y="378" width="1" height="3" fill="#3cb371"/>
<rect x="224" y="384" width="1" height="3" fill="#3cb371"/>
<rect x="224" y="390" width="1" height="3" fill="#3cb371"/>
<rect x="224" y="396" width="1" height="3" fill="#3cb371"/>
<rect x="224" y="402" width="1" height="3" fill="#3cb371"/>
<rect x="224" y="408" width="1" height="3" fill="#3cb371"/>
<rect x="224" y="414" width="1" height="1" fill="#3cb371"/>
<rect x="228" y="332" width="1" height="3" fill="#3cb371"/>
<rect x="228" y="338" width="1" height="3" fill="#3cb371"/>
<rect x="228" y="344" width="1" height="3" fill="#3cb371"/>
<rect x="228" y="350" width="1" height="3" fill="#3cb371"/>
<rect x="228" y="356" width="1" height="3" fill="#3cb371"/>
<rect x="228" y="362" width="1" height="3" fill="#3cb371"/>
<rect x="228" y="368" width="1" height="3" fill="#3cb371"/>
<rect x="228" y="374" width="1" height="3" fill="#3cb371"/>
<rect x="228" y="380" width="1" height="3" fill="#3cb371"/>
<rect x="228" y="386" width="1" height="3" fill="#3cb371"/>
<rect x="228" y="392" width="1" height="3" fill="#3cb371"/>
<rect x="228" y="398" width="1" height="3" fill="#3cb371"/>
<rect x="228" y="404" width="1" height="3" fill="#3cb371"/>
<rect x="228" y="410" width="1" height="3" fill="#3cb371"/>
<rect x="232" y="332" width="1" height="3" fill="#3cb371"/>
<rect x="232" y="338" width="1" height="3" fill="#3cb371"/>
<rect x="232" y="344" width="1" height="3" fill="#3cb371"/>
<rect x="232" y="350" width="1" height="3" fill="#3cb371"/>
<rect x="232" y="356" width="1" height="3" fill="#3cb371"/>
<rect x="232" y="362" width="1" height="3" fill="#3cb371"/>
<rect x="232" y="368" width="1" height="3" fill="#3cb371"/>
<rect x="232" y="374" width="1" height="3" fill="#3cb371"/>
<rect x="232" y="380" width="1" height="3" fill="#3cb371"/>
<rect x="232" y="386" width="1" height="3" fill="#3cb371"/>
<rect x="232" y="392" width="1" height="3" fill="#3cb371"/>
<rect x="232" y="398" width="1" height="3" fill="#3cb371"/>
<rect x="232" y="404" width="1" height="3" fill="#3cb371"/>
<rect x="232" y="410" width="1" height="3" fill="#3cb371"/>
<rect x="236" y="332" width="1" height="3" fill="#3cb371"/>
<rect x="236" y="338" width="1" height="3" fill="#3cb371"/>
<rect x="236" y="344" width="1" height="3" fill="#3cb371"/>
<rect x="236" y="350" width="1" height="3" fill="#3cb371"/>
<rect x="236" y="356" width="1" height="3" fill="#3cb371"/>
<rect x="236" y="362" width="1" height="3" fill="#3cb371"/>
<rect x="236" y="368" width="1" height="3" fill="#3cb371"/>
<rect x="236" y="374" width="1" height="3" fill="#3cb371"/>
<rect x="236" y="380" width="1" height="3" fill="#3cb371"/>
<rect x="236" y="386" width="1" height="3" fill="#3cb371"/>
<rect x="236" y="392" width="1" height="3" fill="#3cb371"/>
<rect x="236" y="398" width="1" height="3" fill="#3cb371"/>
<rect x="236" y="404" width="1" height="3" fill="#3cb371"/>
<rect x="236" y="410" width="1" height="3" fill="#3cb371"/>
<rect x="240" y="332" width="1" height="3" fill="#3cb371"/>
<rect x="240" y="338" width="1" height="3" fill="#3cb371"/>
<rect x="240" y="344" width="1" height="3" fill="#3cb371"/>
<rect x="240" y="350" width="1" height="3" fill="#3cb371"/>
<rect x="240" y="356" width="1" height="3" fill="#3cb371"/>
<rect x="240" y="362" width="1" height="3" fill="#3cb371"/>
<rect x="240" y="368" width="1" height="3" fill="#3cb371"/>
<rect x="240" y="374" width="1" height="3" fill="#3cb371"/>
<rect x="240" y="380" width="1" height="3" fill="#3cb371"/>
<rect x="240" y="386" width="1" height="3" fill="#3cb371"/>
<rect x="240" y="392" width="1" height="3" fill="#3cb371"/>
<rect x="240" y="398" width="1" height="3" fill="#3cb371"/>
<rect x="240" y="404" width="1" height="3" fill="#3cb371"/>
<rect x="240" y="410" width="1" height="3" fill="#3cb371"/>
<rect x="244" y="329" width="1" height="3" fill="#3cb371"/>
<rect x="244" y="335" width="1" height="3" fill="#3cb371"/>
<rect x="244" y="341" width="1" height="3" fill="#3cb371"/>
<rect x="244" y="347" width="1" height="3" fill="#3cb371"/>
<rect x="244" y="353" width="1" height="3" fill="#3cb371"/>
<rect x="244" y="359" width="1" height="3" fill="#3cb371"/>
<rect x="244" y="365" width="1" height="3" fill="#3cb371"/>
<rect x="244" y="371" width="1" height="3" fill="#3cb371"/>
<rect x="244" y="377" width="1" height="3" fill="#3cb371"/>
<rect x="244" y="383" width="1" height="3" fill="#3cb371"/>
<rect x="244" y="389" width="1" height="3" fill="#3cb371"/>
<rect x="244" y="395" width="1" height="3" fill="#3cb371"/>
<rect x="244" y="401" width="1" height="3" fill="#3cb371"/>
<rect x="244" y="407" width="1" height="3" fill="#3cb371"/>
<rect x="244" y="413" width="1" height="2" fill="#3cb371"/>
<rect x="248" y="324" width="1" height="3" fill="#3cb371"/>
<rect x="248" y="330" width="1" height="3" fill="#3cb371"/>
<rect x="248" y="336" width="1" height="3" fill="#3cb371"/>
<rect x="248" y="342" width="1" height="3" fill="#3cb371"/>
<rect x="248" y="348" width="1" height="3" fill="#3cb371"/>
<rect x="248" y="354" width="1" height="3" fill="#3cb371"/>
<rect x="248" y="360" width="1" height="3" fill="#3cb371"/>
<rect x="248" y="366" width="1" height="3" fill="#3cb371"/>
<rect x="248" y="372" width="1" height="3" fill="#3cb371"/>
<rect x="248" y="378" width="1" height="3" fill="#3cb371"/>
<rect x="248" y="384" width="1" height="3" fill="#3cb371"/>
<rect x="248" y="390" width="1" height="3" fill="#3cb371"/>
<rect x="248" y="396" width="1" height="3" fill="#3cb371"/>
<rect x="248" y="402" width="1" height="3" fill="#3cb371"/>
<rect x="252" y="318" width="1" height="3" fill="#3cb371"/>
<rect x="252" y="324" width="1" height="3" fill="#3cb371"/>
<rect x="252" y="330" width="1" height="3" fill="#3cb371"/>
<rect x="252" y="336" width="1" height="3" fill="#3cb371"/>
<rect x="252" y="342" width="1" height="3" fill="#3cb371"/>
<rect x="252" y="348" width="1" height="3" fill="#3cb371"/>
<rect x="252" y="354" width="1" height="3" fill="#3cb371"/>
<rect x="252" y="360" width="1" height="3" fill="#3cb371"/>
<rect x="252" y="366" width="1" height="3" fill="#3cb371"/>
<rect x="252" y="372" width="1" height="3" fill="#3cb371"/>
<rect x="252" y="378" width="1" height="3" fill="#3cb371"/>
<rect x="252" y="384" width="1" height="3" fill="#3cb371"/>
<rect x="252" y="390" width="1" height="3" fill="#3cb371"/>
<rect x="252" y="396" width="1" height="1" fill="#3cb371"/>
<rect x="256" y="311" width="1" height="3" fill="#3cb371"/>
<rect x="256" y="317" width="1" height="3" fill="#3cb371"/>
<rect x="256" y="323" width="1" height="3" fill="#3cb371"/>
<rect x="256" y="329" width="1" height="3" fill="#3cb371"/>
<rect x="256" y="335" width="1" height="3" fill="#3cb371"/>
<rect x="256" y="341" width="1" height="3" fill="#3cb371"/>
<rect x="256" y="347" width="1" height="3" fill="#3cb371"/>
<rect x="256" y="353" width="1" height="3" fill="#3cb371"/>
<rect x="256" y="359" width="1" height="3" fill="#3cb371"/>
<rect x="256" y="365" width="1" height="3" fill="#3cb371"/>
<rect x="256" y="371" width="1" height="3" fill="#3cb371"/>
<rect x="256" y="377" width="1" height="3" fill="#3cb371"/>
<rect x="256" y="383" width="1" height="3" fill="#3cb371"/>
<rect x="256" y="389" width="1" height="3" fill="#3cb371"/>
<rect x="260" y="307" width="1" height="3" fill="#3cb371"/>
<rect x="260" y="313" width="1" height="3" fill="#3cb371"/>
<rect x="260" y="319" width="1" height="3" fill="#3cb371"/>
<rect x="260" y="325" width="1" height="3" fill="#3cb371"/>
<rect x="260" y="331" width="1" height="3" fill="#3cb371"/>
<rect x="260" y="337" width="1" height="3" fill="#3cb371"/>
<rect x="260" y="343" width="1" height="3" fill="#3cb371"/>
<rect x="260" y="349" width="1" height="3" fill="#3cb371"/>
<rect x="260" y="355" width="1" height="3" fill="#3cb371"/>
<rect x="260" y="361" width="1" height="3" fill="#3cb371"/>
<rect x="260" y="367" width="1" height="3" fill="#3cb371"/>
<rect x="260" y="373" width="1" height="3" fill="#3cb371"/>
<rect x="260" y="379" width="1" height="3" fill="#3cb371"/>
<rect x="260" y="385" width="1" height="3" fill="#3cb371"/>
<rect x="260" y="391" width="1" height="3" fill="#3cb371"/>
<rect x="264" y="307" width="1" height="3" fill="#3cb371"/>
<rect x="264" y="313" width="1" height="3" fill="#3cb371"/>
<rect x="264" y="319" width="1" height="3" fill="#3cb371"/>
<rect x="264" y="325" width="1" height="3" fill="#3cb371"/>
<rect x="264" y="331" width="1" height="3" fill="#3cb371"/>
<rect x="264" y="337" width="1" height="3" fill="#3cb371"/>
<rect x="264" y="343" width="1" height="3" fill="#3cb371"/>
<rect x="264" y="349" width="1" height="3" fill="#3cb371"/>
<rect x="264" y="355" width="1" height="3" fill="#3cb371"/>
<rect x="264" y="361" width="1" height="3" fill="#3cb371"/>
<rect x="264" y="367" width="1" height="3" fill="#3cb371"/>
<rect x="264" y="373" width="1" height="3" fill="#3cb371"/>
<rect x="264" y="379" width="1" height="3" fill="#3cb371"/>
<rect x="264" y="385" width="1" height="3" fill="#3cb371"/>
<rect x="264" y="391" width="1" height="1" fill="#3cb371"/>
<rect x="268" y="307" width="1" height="3" fill="#3cb371"/>
<rect x="268" y="313" width="1" height="3" fill="#3cb371"/>
<rect x="268" y="319" width="1" height="3" fill="#3cb371"/>
<rect x="268" y="325" width="1" height="3" fill="#3cb371"/>
<rect x="268" y="331" width="1" height="3" fill="#3cb371"/>
<rect x="268" y="337" width="1" height="3" fill="#3cb371"/>
<rect x="268" y="343" width="1" height="3" fill="#3cb371"/>
<rect x="268" y="349" width="1" height="3" fill="#3cb371"/>
<rect x="268" y="355" width="1" height="3" fill="#3cb371"/>
<rect x="268" y="361" width="1" height="3" fill="#3cb371"/>
<rect x="268" y="367" width="1" height="3" fill="#3cb371"/>
<rect x="268" y="373" width="1" height="3" fill="#3cb371"/>
<rect x="268" y="379" width="1" height="3" fill="#3cb371"/>
<rect x="268" y="385" width="1" height="3" fill="#3cb371"/>
<rect x="272" y="309" width="1" height="3" fill="#3cb371"/>
<rect x="272" y="315" width="1" height="3" fill="#3cb371"/>
<rect x="272" y="321" width="1" height="3" fill="#3cb371"/>
<rect x="272" y="327" width="1" height="3" fill="#3cb371"/>
<rect x="272" y="333" width="1" height="3" fill="#3cb371"/>
<rect x="272" y="339" width="1" height="3" fill="#3cb371"/>
<rect x="272" y="345" width="1" height="3" fill="#3cb371"/>
<rect x="272" y="351" width="1" height="3" fill="#3cb371"/>
<rect x="272" y="357" width="1" height="3" fill="#3cb371"/>
<rect x="272" y="363" width="1" height="3" fill="#3cb371"/>
<rect x="272" y="369" width="1" height="3" fill="#3cb371"/>
<rect x="272" y="375" width="1" height="3" fill="#3cb371"/>
<rect x="272" y="381" width="1" height="3" fill="#3cb371"/>
<rect x="272" y="387" width="1" height="3" fill="#3cb371"/>
<rect x="276" y="305" width="1" height="3" fill="#3cb371"/>
<rect x="276" y="311" width="1" height="3" fill="#3cb371"/>
<rect x="276" y="317" width="1" height="3" fill="#3cb371"/>
<rect x="276" y="323" width="1" height="3" fill="#3cb371"/>
<rect x="276" y="329" width="1" height="3" fill="#3cb371"/>
<rect x="276" y="335" width="1" height="3" fill="#3cb371"/>
<rect x="276" y="341" width="1" height="3" fill="#3cb371"/>
<rect x="276" y="347" width="1" height="3" fill="#3cb371"/>
<rect x="276" y="353" width="1" height="3" fill="#3cb371"/>
<rect x="276" y="359" width="1" height="3" fill="#3cb371"/>
<rect x="276" y="365" width="1" height="3" fill="#3cb371"/>
<rect x="276" y="371" width="1" height="3" fill="#3cb371"/>
<rect x="276" y="377" width="1" height="3" fill="#3cb371"/>
<rect x="276" y="383" width="1" height="3" fill="#3cb371"/>
<rect x="280" y="305" width="1" height="3" fill="#3cb371"/>
<rect x="280" y="311" width="1" height="3" fill="#3cb371"/>
<rect x="280" y="317" width="1" height="3" fill="#3cb371"/>
<rect x="280" y="323" width="1" height="3" fill="#3cb371"/>
<rect x="280" y="329" width="1" height="3" fill="#3cb371"/>
<rect x="280" y="335" width="1" height="3" fill="#3cb371"/>
<rect x="280" y="341" width="1" height="3" fill="#3cb371"/>
<rect x="280" y="347" width="1" height="3" fill="#3cb371"/>
<rect x="280" y="353" width="1" height="3" fill="#3cb371"/>
<rect x="280" y="359" width="1" height="3" fill="#3cb371"/>
<rect x="280" y="365" width="1" height="3" fill="#3cb371"/>
<rect x="280" y="371" width="1" height="3" fill="#3cb371"/>
<rect x="280" y="377" width="1" height="3" fill="#3cb371"/>
<rect x="280" y="383" width="1" height="3" fill="#3cb371"/>
<rect x="284" y="307" width="1" height="3" fill="#3cb371"/>
<rect x="284" y="313" width="1" height="3" fill="#3cb371"/>
<rect x="284" y="319" width="1" height="3" fill="#3cb371"/>
<rect x="284" y="325" width="1" height="3" fill="#3cb371"/>
<rect x="284" y="331" width="1" height="3" fill="#3cb371"/>
<rect x="284" y="337" width="1" height="3" fill="#3cb371"/>
<rect x="284" y="343" width="1" height="3" fill="#3cb371"/>
<rect x="284" y="349" width="1" height="3" fill="#3cb371"/>
<rect x="284" y="355" width="1" height="3" fill="#3cb371"/>
<rect x="284" y="361" width="1" height="3" fill="#3cb371"/>
<rect x="284" y="367" width="1" height="3" fill="#3cb371"/>
<rect x="284" y="373" width="1" height="3" fill="#3cb371"/>
<rect x="284" y="379" width="1" height="3" fill="#3cb371"/>
<rect x="284" y="385" width="1" height="3" fill="#3cb371"/>
<rect x="288" y="312" width="1" height="3" fill="#3cb371"/>
<rect x="288" y="318" width="1" height="3" fill="#3cb371"/>
<rect x="288" y="324" width="1" height="3" fill="#3cb371"/>
<rect x="288" y="330" width="1" height="3" fill="#3cb371"/>
<rect x="288" y="336" width="1" height="3" fill="#3cb371"/>
<rect x="288" y="342" width="1" height="3" fill="#3cb371"/>
<rect x="288" y="348" width="1" height="3" fill="#3cb371"/>
<rect x="288" y="354" width="1" height="3" fill="#3cb371"/>
<rect x="288" y="360" width="1" height="3" fill="#3cb371"/>
<rect x="288" y="366" width="1" height="3" fill="#3cb371"/>
<rect x="288" y="372" width="1" height="3" fill="#3cb371"/>
<rect x="288" y="378" width="1" height="3" fill="#3cb371"/>
<rect x="292" y="317" width="1" height="3" fill="#3cb371"/>
<rect x="292" y="323" width="1" height="3" fill="#3cb371"/>
<rect x="292" y="329" width="1" height="3" fill="#3cb371"/>
<rect x="292" y="335" width="1" height="3" fill="#3cb371"/>
<rect x="292" y="341" width="1" height="3" fill="#3cb371"/>
<rect x="292" y="347" width="1" height="3" fill="#3cb371"/>
<rect x="292" y="353" width="1" height="3" fill="#3cb371"/>
<rect x="292" y="359" width="1" height="3" fill="#3cb371"/>
<rect x="292" y="365" width="1" height="3" fill="#3cb371"/>
<rect x="292" y="371" width="1" height="3" fill="#3cb371"/>
<rect x="292" y="377" width="1" height="1" fill="#3cb371"/>
<rect x="296" y="323" width="1" height="3" fill="#3cb371"/>
<rect x="296" y="329" width="1" height="3" fill="#3cb371"/>
<rect x="296" y="335" width="1" height="3" fill="#3cb371"/>
<rect x="296" y="341" width="1" height="3" fill="#3cb371"/>
<rect x="296" y="347" width="1" height="3" fill="#3cb371"/>
<rect x="296" y="353" width="1" height="3" fill="#3cb371"/>
<rect x="296" y="359" width="1" height="3" fill="#3cb371"/>
<rect x="296" y="365" width="1" height="3" fill="#3cb371"/>
<rect x="296" y="371" width="1" height="2" fill="#3cb371"/>
<rect x="300" y="327" width="1" height="3" fill="#3cb371"/>
<rect x="300" y="333" width="1" height="3" fill="#3cb371"/>
<rect x="300" y="339" width="1" height="3" fill="#3cb371"/>
<rect x="300" y="345" width="1" height="3" fill="#3cb371"/>
<rect x="300" y="351" width="1" height="3" fill="#3cb371"/>
<rect x="300" y="357" width="1" height="3" fill="#3cb371"/>
<rect x="300" y="363" width="1" height="3" fill="#3cb371"/>
<rect x="304" y="331" width="1" height="3" fill="#3cb371"/>
<rect x="304" y="337" width="1" height="3" fill="#3cb371"/>
<rect x="304" y="343" width="1" height="3" fill="#3cb371"/>
<rect x="304" y="349" width="1" height="3" fill="#3cb371"/>
<rect x="304" y="355" width="1" height="3" fill="#3cb371"/>
<rect x="304" y="361" width="1" height="3" fill="#3cb371"/>
<rect x="308" y="332" width="1" height="3" fill="#3cb371"/>
<rect x="308" y="338" width="1" height="3" fill="#3cb371"/>
<rect x="308" y="344" width="1" height="3" fill="#3cb371"/>
<rect x="308" y="350" width="1" height="3" fill="#3cb371"/>
<rect x="308" y="356" width="1" height="3" fill="#3cb371"/>
<rect x="312" y="332" width="1" height="3" fill="#3cb371"/>
<rect x="312" y="338" width="1" height="3" fill="#3cb371"/>
<rect x="312" y="344" width="1" height="3" fill="#3cb371"/>
<rect x="312" y="350" width="1" height="2" fill="#3cb371"/>
<rect x="316" y="331" width="1" height="3" fill="#3cb371"/>
<rect x="316" y="337" width="1" height="3" fill="#3cb371"/>
<rect x="320" y="324" width="1" height="3" fill="#3cb371"/>
<rect x="320" y="330" width="1" height="3" fill="#3cb371"/>
<rect x="320" y="336" width="1" height="3" fill="#3cb371"/>
<rect x="324" y="322" width="1" height="3" fill="#3cb371"/>
<rect x="324" y="328" width="1" height="3" fill="#3cb371"/>
<rect x="324" y="334" width="1" height="1" fill="#3cb371"/>
<rect x="328" y="321" width="1" height="3" fill="#3cb371"/>
<rect x="328" y="327" width="1" height="3" fill="#3cb371"/>
<rect x="328" y="333" width="1" height="1" fill="#3cb371"/>
<rect x="332" y="320" width="1" height="3" fill="#3cb371"/>
<rect x="332" y="326" width="1" height="3" fill="#3cb371"/>
<rect x="336" y="315" width="1" height="3" fill="#3cb371"/>
<rect x="336" y="321" width="1" height="3" fill="#3cb371"/>
<rect x="336" y="327" width="1" height="3" fill="#3cb371"/>
<rect x="340" y="306" width="1" height="3" fill="#3cb371"/>
<rect x="340" y="312" width="1" height="3" fill="#3cb371"/>
<rect x="340" y="318" width="1" height="3" fill="#3cb371"/>
<rect x="340" y="324" width="1" height="3" fill="#3cb371"/>
<rect x="344" y="301" width="1" height="3" fill="#3cb371"/>
<rect x="344" y="307" width="1" height="3" fill="#3cb371"/>
<rect x="344" y="313" width="1" height="3" fill="#3cb371"/>
<rect x="344" y="319" width="1" height="3" fill="#3cb371"/>
<rect x="344" y="325" width="1" height="3" fill="#3cb371"/>
<rect x="348" y="299" width="1" height="3" fill="#3cb371"/>
<rect x="348" y="305" width="1" height="3" fill="#3cb371"/>
<rect x="348" y="311" width="1" height="3" fill="#3cb371"/>
<rect x="348" y="317" width="1" height="3" fill="#3cb371"/>
<rect x="348" y="323" width="1" height="3" fill="#3cb371"/>
<rect x="348" y="329" width="1" height="1" fill="#3cb371"/>
<rect x="352" y="298" width="1" height="3" fill="#3cb371"/>
<rect x="352" y="304" width="1" height="3" fill="#3cb371"/>
<rect x="352" y="310" width="1" height="3" fill="#3cb371"/>
<rect x="352" y="316" width="1" height="3" fill="#3cb371"/>
<rect x="352" y="322" width="1" height="3" fill="#3cb371"/>
<rect x="352" y="328" width="1" height="2" fill="#3cb371"/>
<rect x="356" y="295" width="1" height="3" fill="#3cb371"/>
<rect x="356" y="301" width="1" height="3" fill="#3cb371"/>
<rect x="356" y="307" width="1" height="3" fill="#3cb371"/>
<rect x="356" y="313" width="1" height="3" fill="#3cb371"/>
<rect x="356" y="319" width="1" height="3" fill="#3cb371"/>
<rect x="356" y="325" width="1" height="3" fill="#3cb371"/>
<rect x="360" y="293" width="1" height="3" fill="#3cb371"/>
<rect x="360" y="299" width="1" height="3" fill="#3cb371"/>
<rect x="360" y="305" width="1" height="3" fill="#3cb371"/>
<rect x="360" y="311" width="1" height="3" fill="#3cb371"/>
<rect x="360" y="317" width="1" height="3" fill="#3cb371"/>
<rect x="360" y="323" width="1" height="3" fill="#3cb371"/>
<rect x="360" y="329" width="1" height="1" fill="#3cb371"/>
<rect x="364" y="294" width="1" height="3" fill="#3cb371"/>
<rect x="364" y="300" width="1" height="3" fill="#3cb371"/>
<rect x="364" y="306" width="1" height="3" fill="#3cb371"/>
<rect x="364" y="312" width="1" height="3" fill="#3cb371"/>
<rect x="364" y="318" width="1" height="3" fill="#3cb371"/>
<rect x="364" y="324" width="1" height="3" fill="#3cb371"/>
<rect x="368" y="294" width="1" height="3" fill="#3cb371"/>
<rect x="368" y="300" width="1" height="3" fill="#3cb371"/>
<rect x="368" y="306" width="1" height="3" fill="#3cb371"/>
<rect x="368" y="312" width="1" height="3" fill="#3cb371"/>
<rect x="368" y="318" width="1" height="3" fill="#3cb371"/>
<rect x="368" y="324" width="1" height="3" fill="#3cb371"/>
<rect x="372" y="287" width="1" height="3" fill="#3cb371"/>
<rect x="372" y="293" width="1" height="3" fill="#3cb371"/>
<rect x="372" y="299" width="1" height="3" fill="#3cb371"/>
<rect x="372" y="305" width="1" height="3" fill="#3cb371"/>
<rect x="372" y="311" width="1" height="3" fill="#3cb371"/>
<rect x="372" y="317" width="1" height="3" fill="#3cb371"/>
<rect x="372" y="323" width="1" height="1" fill="#3cb371"/>
<rect x="376" y="283" width="1" height="3" fill="#3cb371"/>
<rect x="376" y="289" width="1" height="3" fill="#3cb371"/>
<rect x="376" y="295" width="1" height="3" fill="#3cb371"/>
<rect x="376" y="301" width="1" height="3" fill="#3cb371"/>
<rect x="376" y="307" width="1" height="3" fill="#3cb371"/>
<rect x="376" y="313" width="1" height="3" fill="#3cb371"/>
<rect x="376" y="319" width="1" height="3" fill="#3cb371"/>
<rect x="380" y="280" width="1" height="3" fill="#3cb371"/>
<rect x="380" y="286" width="1" height="3" fill="#3cb371"/>
<rect x="380" y="292" width="1" height="3" fill="#3cb371"/>
<rect x="380" y="298" width="1" height="3" fill="#3cb371"/>
<rect x="380" y="304" width="1" height="3" fill="#3cb371"/>
<rect x="380" y="310" width="1" height="1" fill="#3cb371"/>
<rect x="384" y="276" width="1" height="3" fill="#3cb371"/>
<rect x="384" y="282" width="1" height="3" fill="#3cb371"/>
<rect x="384" y="288" width="1" height="3" fill="#3cb371"/>
<rect x="384" y="294" width="1" height="2" fill="#3cb371"/>
<rect x="388" y="263" width="1" height="3" fill="#3cb371"/>
<rect x="388" y="269" width="1" height="3" fill="#3cb371"/>
<rect x="388" y="275" width="1" height="3" fill="#3cb371"/>
<rect x="388" y="281" width="1" height="3" fill="#3cb371"/>
<rect x="392" y="256" width="1" height="3" fill="#3cb371"/>
<rect x="392" y="262" width="1" height="3" fill="#3cb371"/>
<rect x="392" y="268" width="1" height="3" fill="#3cb371"/>
<rect x="392" y="274" width="1" height="3" fill="#3cb371"/>
<rect x="392" y="280" width="1" height="2" fill="#3cb371"/>
<rect x="396" y="254" width="1" height="3" fill="#3cb371"/>
<rect x="396" y="260" width="1" height="3" fill="#3cb371"/>
<rect x="396" y="266" width="1" height="3" fill="#3cb371"/>
<rect x="396" y="272" width="1" height="3" fill="#3cb371"/>
<rect x="396" y="278" width="1" height="2" fill="#3cb371"/>
<rect x="400" y="253" width="1" height="3" fill="#3cb371"/>
<rect x="400" y="259" width="1" height="3" fill="#3cb371"/>
<rect x="400" y="265" width="1" height="3" fill="#3cb371"/>
<rect x="400" y="271" width="1" height="3" fill="#3cb371"/>
<rect x="400" y="277" width="1" height="3" fill="#3cb371"/>
<rect x="404" y="251" width="1" height="3" fill="#3cb371"/>
<rect x="404" y="257" width="1" height="3" fill="#3cb371"/>
<rect x="404" y="263" width="1" height="3" fill="#3cb371"/>
<rect x="404" y="269" width="1" height="3" fill="#3cb371"/>
<rect x="404" y="275" width="1" height="3" fill="#3cb371"/>
<rect x="408" y="245" width="1" height="3" fill="#3cb371"/>
<rect x="408" y="251" width="1" height="3" fill="#3cb371"/>
<rect x="408" y="257" width="1" height="3" fill="#3cb371"/>
<rect x="408" y="263" width="1" height="3" fill="#3cb371"/>
<rect x="408" y="269" width="1" height="3" fill="#3cb371"/>
<rect x="408" y="275" width="1" height="3" fill="#3cb371"/>
<rect x="412" y="237" width="1" height="3" fill="#3cb371"/>
<rect x="412" y="243" width="1" height="3" fill="#3cb371"/>
<rect x="412" y="249" width="1" height="3" fill="#3cb371"/>
<rect x="412" y="255" width="1" height="3" fill="#3cb371"/>
<rect x="412" y="261" width="1" height="3" fill="#3cb371"/>
<rect x="412" y="267" width="1" height="3" fill="#3cb371"/>
<rect x="412" y="273" width="1" height="3" fill="#3cb371"/>
<rect x="412" y="279" width="1" height="1" fill="#3cb371"/>
<rect x="416" y="229" width="1" height="3" fill="#3cb371"/>
<rect x="416" y="235" width="1" height="3" fill="#3cb371"/>
<rect x="416" y="241" width="1" height="3" fill="#3cb371"/>
<rect x="416" y="247" width="1" height="3" fill="#3cb371"/>
<rect x="416" y="253" width="1" height="3" fill="#3cb371"/>
<rect x="416" y="259" width="1" height="3" fill="#3cb371"/>
<rect x="416" y="265" width="1" height="3" fill="#3cb371"/>
<rect x="416" y="271" width="1" height="3" fill="#3cb371"/>
<rect x="416" y="277" width="1" height="3" fill="#3cb371"/>
<rect x="420" y="225" width="1" height="3" fill="#3cb371"/>
<rect x="420" y="231" width="1" height="3" fill="#3cb371"/>
<rect x="420" y="237" width="1" height="3" fill="#3cb371"/>
<rect x="420" y="243" width="1" height="3" fill="#3cb371"/>
<rect x="420" y="249" width="1" height="3" fill="#3cb371"/>
<rect x="420" y="255" width="1" height="3" fill="#3cb371"/>
<rect x="420" y="261" width="1" height="3" fill="#3cb371"/>
<rect x="420" y="267" width="1" height="3" fill="#3cb371"/>
<rect x="420" y="273" width="1" height="3" fill="#3cb371"/>
<rect x="420" y="279" width="1" height="1" fill="#3cb371"/>
<rect x="424" y="221" width="1" height="3" fill="#3cb371"/>
<rect x="424" y="227" width="1" height="3" fill="#3cb371"/>
<rect x="424" y="233" width="1" height="3" fill="#3cb371"/>
<rect x="424" y="239" width="1" height="3" fill="#3cb371"/>
<rect x="424" y="245" width="1" height="3" fill="#3cb371"/>
<rect x="424" y="251" width="1" height="3" fill="#3cb371"/>
<rect x="424" y="257" width="1" height="3" fill="#3cb371"/>
<rect x="424" y="263" width="1" height="3" fill="#3cb371"/>
<rect x="424" y="269" width="1" height="3" fill="#3cb371"/>
<rect x="424" y="275" width="1" height="3" fill="#3cb371"/>
<rect x="428" y="222" width="1" height="3" fill="#3cb371"/>
<rect x="428" y="228" width="1" height="3" fill="#3cb371"/>
<rect x="428" y="234" width="1" height="3" fill="#3cb371"/>
<rect x="428" y="240" width="1" height="3" fill="#3cb371"/>
<rect x="428" y="246" width="1" height="3" fill="#3cb371"/>
<rect x="428" y="252" width="1" height="3" fill="#3cb371"/>
<rect x="428" y="258" width="1" height="3" fill="#3cb371"/>
<rect x="428" y="264" width="1" height="3" fill="#3cb371"/>
<rect x="428" y="270" width="1" height="3" fill="#3cb371"/>
<rect x="428" y="276" width="1" height="3" fill="#3cb371"/>
<rect x="432" y="226" width="1" height="3" fill="#3cb371"/>
<rect x="432" y="232" width="1" height="3" fill="#3cb371"/>
<rect x="432" y="238" width="1" height="3" fill="#3cb371"/>
<rect x="432" y="244" width="1" height="3" fill="#3cb371"/>
<rect x="432" y="250" width="1" height="3" fill="#3cb371"/>
<rect x="432" y="256" width="1" height="3" fill="#3cb371"/>
<rect x="432" y="262" width="1" height="3" fill="#3cb371"/>
<rect x="432" y="268" width="1" height="3" fill="#3cb371"/>
<rect x="432" y="274" width="1" height="3" fill="#3cb371"/>
<rect x="436" y="229" width="1" height="3" fill="#3cb371"/>
<rect x="436" y="235" width="1" height="3" fill="#3cb371"/>
<rect x="436" y="241" width="1" height="3" fill="#3cb371"/>
<rect x="436" y="247" width="1" height="3" fill="#3cb371"/>
<rect x="436" y="253" width="1" height="3" fill="#3cb371"/>
<rect x="436" y="259" width="1" height="3" fill="#3cb371"/>
<rect x="436" y="265" width="1" height="3" fill="#3cb371"/>
<rect x="436" y="271" width="1" height="3" fill="#3cb371"/>
<rect x="436" y="277" width="1" height="3" fill="#3cb371"/>
<rect x="440" y="240" width="1" height="3" fill="#3cb371"/>
<rect x="440" y="246" width="1" height="3" fill="#3cb371"/>
<rect x="440" y="252" width="1" height="3" fill="#3cb371"/>
<rect x="440" y="258" width="1" height="3" fill="#3cb371"/>
<rect x="440" y="264" width="1" height="3" fill="#3cb371"/>
<rect x="440" y="270" width="1" height="3" fill="#3cb371"/>
<rect x="440" y="276" width="1" height="3" fill="#3cb371"/>
<rect x="444" y="253" width="1" height="3" fill="#3cb371"/>
<rect x="444" y="259" width="1" height="3" fill="#3cb371"/>
<rect x="444" y="265" width="1" height="3" fill="#3cb371"/>
<rect x="444" y="271" width="1" height="3" fill="#3cb371"/>
<rect x="444" y="277" width="1" height="3" fill="#3cb371"/>
<rect x="448" y="256" width="1" height="3" fill="#3cb371"/>
<rect x="448" y="262" width="1" height="3" fill="#3cb371"/>
<rect x="448" y="268" width="1" height="3" fill="#3cb371"/>
<rect x="448" y="274" width="1" height="3" fill="#3cb371"/>
<rect x="452" y="265" width="1" height="3" fill="#3cb371"/>
<rect x="452" y="271" width="1" height="3" fill="#3cb371"/>
<rect x="452" y="277" width="1" height="3" fill="#3cb371"/>
<rect x="456" y="274" width="1" height="3" fill="#3cb371"/>
<rect x="460" y="276" width="1" height="3" fill="#3cb371"/>
<rect x="464" y="273" width="1" height="3" fill="#3cb371"/>
<rect x="464" y="279" width="1" height="1" fill="#3cb371"/>
<rect x="472" y="281" width="1" height="2" fill="#ff4500"/>
<rect x="476" y="281" width="1" height="3" fill="#ff4500"/>
<rect x="480" y="279" width="1" height="1" fill="#3cb371"/>
<rect x="484" y="277" width="1" height="3" fill="#3cb371"/>
<rect x="488" y="277" width="1" height="3" fill="#3cb371"/>
<rect x="492" y="276" width="1" height="3" fill="#3cb371"/>
<rect x="496" y="275" width="1" height="3" fill="#3cb371"/>
<rect x="500" y="275" width="1" height="3" fill="#3cb371"/>
<rect x="504" y="273" width="1" height="3" fill="#3cb371"/>
<rect x="508" y="271" width="1" height="3" fill="#3cb371"/>
<rect x="512" y="261" width="1" height="3" fill="#ff4500"/>
<rect x="516" y="260" width="1" height="3" fill="#ff4500"/>
<rect x="520" y="260" width="1" height="3" fill="#ff4500"/>
<rect x="524" y="260" width="1" height="3" fill="#ff4500"/>
<rect x="532" y="253" width="1" height="3" fill="#3cb371"/>
<rect x="536" y="239" width="1" height="3" fill="#3cb371"/>
<rect x="536" y="245" width="1" height="3" fill="#3cb371"/>
<rect x="536" y="251" width="1" height="3" fill="#3cb371"/>
<rect x="536" y="257" width="1" height="2" fill="#3cb371"/>
<rect x="540" y="238" width="1" height="3" fill="#3cb371"/>
<rect x="540" y="244" width="1" height="3" fill="#3cb371"/>
<rect x="540" y="250" width="1" height="3" fill="#3cb371"/>
<rect x="540" y="256" width="1" height="3" fill="#3cb371"/>
<rect x="544" y="235" width="1" height="3" fill="#3cb371"/>
<rect x="544" y="241" width="1" height="3" fill="#3cb371"/>
<rect x="544" y="247" width="1" height="3" fill="#3cb371"/>
<rect x="544" y="253" width="1" height="3" fill="#3cb371"/>
<rect x="548" y="234" width="1" height="3" fill="#3cb371"/>
<rect x="548" y="240" width="1" height="3" fill="#3cb371"/>
<rect x="548" y="246" width="1" height="3" fill="#3cb371"/>
<rect x="548" y="252" width="1" height="3" fill="#3cb371"/>
<rect x="548" y="258" width="1" height="1" fill="#3cb371"/>
<rect x="552" y="235" width="1" height="3" fill="#3cb371"/>
<rect x="552" y="241" width="1" height="3" fill="#3cb371"/>
<rect x="552" y="247" width="1" height="3" fill="#3cb371"/>
<rect x="552" y="253" width="1" height="3" fill="#3cb371"/>
<rect x="556" y="235" width="1" height="3" fill="#3cb371"/>
<rect x="556" y="241" width="1" height="3" fill="#3cb371"/>
<rect x="556" y="247" width="1" height="3" fill="#3cb371"/>
<rect x="556" y="253" width="1" height="3" fill="#3cb371"/>
<rect x="560" y="235" width="1" height="3" fill="#3cb371"/>
<rect x="560" y="241" width="1" height="3" fill="#3cb371"/>
<rect x="560" y="247" width="1" height="3" fill="#3cb371"/>
<rect x="560" y="253" width="1" height="3" fill="#3cb371"/>
<rect x="564" y="237" width="1" height="3" fill="#3cb371"/>
<rect x="564" y="243" width="1" height="3" fill="#3cb371"/>
<rect x="564" y="249" width="1" height="3" fill="#3cb371"/>
<rect x="564" y="255" width="1" height="3" fill="#3cb371"/>
<rect x="568" y="234" width="1" height="3" fill="#3cb371"/>
<rect x="568" y="240" width="1" height="3" fill="#3cb371"/>
<rect x="568" y="246" width="1" height="3" fill="#3cb371"/>
<rect x="568" y="252" width="1" height="3" fill="#3cb371"/>
<rect x="568" y="258" width="1" height="1" fill="#3cb371"/>
<rect x="572" y="237" width="1" height="3" fill="#3cb371"/>
<rect x="572" y="243" width="1" height="3" fill="#3cb371"/>
<rect x="572" y="249" width="1" height="3" fill="#3cb371"/>
<rect x="572" y="255" width="1" height="3" fill="#3cb371"/>
<rect x="576" y="241" width="1" height="3" fill="#3cb371"/>
<rect x="576" y="247" width="1" height="3" fill="#3cb371"/>
<rect x="576" y="253" width="1" height="3" fill="#3cb371"/>
<rect x="580" y="240" width="1" height="3" fill="#3cb371"/>
<rect x="580" y="246" width="1" height="3" fill="#3cb371"/>
<rect x="580" y="252" width="1" height="3" fill="#3cb371"/>
<rect x="580" y="258" width="1" height="1" fill="#3cb371"/>
<rect x="584" y="239" width="1" height="3" fill="#3cb371"/>
<rect x="584" y="245" width="1" height="3" fill="#3cb371"/>
<rect x="584" y="251" width="1" height="3" fill="#3cb371"/>
<rect x="584" y="257" width="1" height="2" fill="#3cb371"/>
<rect x="588" y="239" width="1" height="3" fill="#3cb371"/>
<rect x="588" y="245" width="1" height="3" fill="#3cb371"/>
<rect x="588" y="251" width="1" height="3" fill="#3cb371"/>
<rect x="588" y="257" width="1" height="2" fill="#3cb371"/>
<rect x="592" y="243" width="1" height="3" fill="#3cb371"/>
<rect x="592" y="249" width="1" height="3" fill="#3cb371"/>
<rect x="592" y="255" width="1" height="3" fill="#3cb371"/>
<rect x="596" y="253" width="1" height="3" fill="#3cb371"/>
<rect x="600" y="255" width="1" height="3" fill="#3cb371"/>
<rect x="604" y="256" width="1" height="3" fill="#3cb371"/>
<rect x="608" y="256" width="1" height="3" fill="#3cb371"/>
<rect x="612" y="260" width="1" height="3" fill="#ff4500"/>
<rect x="612" y="266" width="1" height="3" fill="#ff4500"/>
<rect x="616" y="260" width="1" height="3" fill="#ff4500"/>
<rect x="616" y="266" width="1" height="3" fill="#ff4500"/>
<rect x="616" y="272" width="1" height="2" fill="#ff4500"/>
<rect x="620" y="260" width="1" height="3" fill="#ff4500"/>
<rect x="620" y="266" width="1" height="3" fill="#ff4500"/>
<rect x="620" y="272" width="1" height="3" fill="#ff4500"/>
<rect x="624" y="260" width="1" height="3" fill="#ff4500"/>
<rect x="624" y="266" width="1" height="3" fill="#ff4500"/>
<rect x="624" y="272" width="1" height="3" fill="#ff4500"/>
<rect x="628" y="266" width="1" height="3" fill="#ff4500"/>
<rect x="628" y="272" width="1" height="3" fill="#ff4500"/>
<rect x="628" y="278" width="1" height="3" fill="#ff4500"/>
<rect x="628" y="284" width="1" height="2" fill="#ff4500"/>
<rect x="632" y="269" width="1" height="3" fill="#ff4500"/>
<rect x="632" y="275" width="1" height="3" fill="#ff4500"/>
<rect x="632" y="281" width="1" height="3" fill="#ff4500"/>
<rect x="632" y="287" width="1" height="3" fill="#ff4500"/>
<rect x="636" y="269" width="1" height="3" fill="#ff4500"/>
<rect x="636" y="275" width="1" height="3" fill="#ff4500"/>
<rect x="636" y="281" width="1" height="3" fill="#ff4500"/>
<rect x="636" y="287" width="1" height="3" fill="#ff4500"/>
<rect x="640" y="269" width="1" height="3" fill="#ff4500"/>
<rect x="640" y="275" width="1" height="3" fill="#ff4500"/>
<rect x="640" y="281" width="1" height="3" fill="#ff4500"/>
<rect x="640" y="287" width="1" height="3" fill="#ff4500"/>
<rect x="640" y="293" width="1" height="3" fill="#ff4500"/>
<rect x="644" y="269" width="1" height="3" fill="#ff4500"/>
<rect x="644" y="275" width="1" height="3" fill="#ff4500"/>
<rect x="644" y="281" width="1" height="3" fill="#ff4500"/>
<rect x="644" y="287" width="1" height="3" fill="#ff4500"/>
<rect x="644" y="293" width="1" height="3" fill="#ff4500"/>
<rect x="644" y="299" width="1" height="3" fill="#ff4500"/>
<rect x="648" y="269" width="1" height="3" fill="#ff4500"/>
<rect x="648" y="275" width="1" height="3" fill="#ff4500"/>
<rect x="648" y="281" width="1" height="3" fill="#ff4500"/>
<rect x="648" y="287" width="1" height="3" fill="#ff4500"/>
<rect x="648" y="293" width="1" height="3" fill="#ff4500"/>
<rect x="648" y="299" width="1" height="3" fill="#ff4500"/>
<rect x="648" y="305" width="1" height="3" fill="#ff4500"/>
<rect x="652" y="269" width="1" height="3" fill="#ff4500"/>
<rect x="652" y="275" width="1" height="3" fill="#ff4500"/>
<rect x="652" y="281" width="1" height="3" fill="#ff4500"/>
<rect x="652" y="287" width="1" height="3" fill="#ff4500"/>
<rect x="652" y="293" width="1" height="3" fill="#ff4500"/>
<rect x="652" y="299" width="1" height="3" fill="#ff4500"/>
<rect x="652" y="305" width="1" height="3" fill="#ff4500"/>
<rect x="656" y="269" width="1" height="3" fill="#ff4500"/>
<rect x="656" y="275" width="1" height="3" fill="#ff4500"/>
<rect x="656" y="281" width="1" height="3" fill="#ff4500"/>
<rect x="656" y="287" width="1" height="3" fill="#ff4500"/>
<rect x="656" y="293" width="1" height="3" fill="#ff4500"/>
<rect x="656" y="299" width="1" height="3" fill="#ff4500"/>
<rect x="656" y="305" width="1" height="2" fill="#ff4500"/>
<rect x="660" y="269" width="1" height="3" fill="#ff4500"/>
<rect x="660" y="275" width="1" height="3" fill="#ff4500"/>
<rect x="660" y="281" width="1" height="3" fill="#ff4500"/>
<rect x="660" y="287" width="1" height="3" fill="#ff4500"/>
<rect x="660" y="293" width="1" height="3" fill="#ff4500"/>
<rect x="660" y="299" width="1" height="3" fill="#ff4500"/>
<rect x="660" y="305" width="1" height="1" fill="#ff4500"/>
<rect x="664" y="269" width="1" height="3" fill="#ff4500"/>
<rect x="664" y="275" width="1" height="3" fill="#ff4500"/>
<rect x="664" y="281" width="1" height="3" fill="#ff4500"/>
<rect x="664" y="287" width="1" height="3" fill="#ff4500"/>
<rect x="664" y="293" width="1" height="3" fill="#ff4500"/>
<rect x="664" y="299" width="1" height="3" fill="#ff4500"/>
<rect x="664" y="305" width="1" height="3" fill="#ff4500"/>
<rect x="668" y="269" width="1" height="3" fill="#ff4500"/>
<rect x="668" y="275" width="1" height="3" fill="#ff4500"/>
<rect x="668" y="281" width="1" height="3" fill="#ff4500"/>
<rect x="668" y="287" width="1" height="3" fill="#ff4500"/>
<rect x="668" y="293" width="1" height="3" fill="#ff4500"/>
<rect x="668" y="299" width="1" height="3" fill="#ff4500"/>
<rect x="668" y="305" width="1" height="3" fill="#ff4500"/>
<rect x="672" y="269" width="1" height="3" fill="#ff4500"/>
<rect x="672" y="275" width="1" height="3" fill="#ff4500"/>
<rect x="672" y="281" width="1" height="3" fill="#ff4500"/>
<rect x="672" y="287" width="1" height="3" fill="#ff4500"/>
<rect x="672" y="293" width="1" height="3" fill="#ff4500"/>
<rect x="672" y="299" width="1" height="3" fill="#ff4500"/>
<rect x="672" y="305" width="1" height="1" fill="#ff4500"/>
<rect x="676" y="269" width="1" height="3" fill="#ff4500"/>
<rect x="676" y="275" width="1" height="3" fill="#ff4500"/>
<rect x="676" y="281" width="1" height="3" fill="#ff4500"/>
<rect x="676" y="287" width="1" height="3" fill="#ff4500"/>
<rect x="676" y="293" width="1" height="3" fill="#ff4500"/>
<rect x="676" y="299" width="1" height="3" fill="#ff4500"/>
<rect x="680" y="269" width="1" height="3" fill="#ff4500"/>
<rect x="680" y="275" width="1" height="3" fill="#ff4500"/>
<rect x="680" y="281" width="1" height="3" fill="#ff4500"/>
<rect x="680" y="287" width="1" height="3" fill="#ff4500"/>
<rect x="680" y="293" width="1" height="3" fill="#ff4500"/>
<rect x="684" y="269" width="1" height="3" fill="#ff4500"/>
<rect x="684" y="275" width="1" height="3" fill="#ff4500"/>
<rect x="684" y="281" width="1" height="3" fill="#ff4500"/>
<rect x="684" y="287" width="1" height="2" fill="#ff4500"/>
<rect x="688" y="269" width="1" height="3" fill="#ff4500"/>
<rect x="688" y="275" width="1" height="3" fill="#ff4500"/>
<rect x="688" y="281" width="1" height="2" fill="#ff4500"/>
<rect x="692" y="269" width="1" height="3" fill="#ff4500"/>
<rect x="692" y="275" width="1" height="3" fill="#ff4500"/>
<rect x="696" y="269" width="1" height="3" fill="#ff4500"/>
<rect x="696" y="275" width="1" height="2" fill="#ff4500"/>
<rect x="700" y="269" width="1" height="1" fill="#ff4500"/>
<rect x="704" y="269" width="1" height="2" fill="#ff4500"/>
<rect x="708" y="269" width="1" height="2" fill="#ff4500"/>
<rect x="720" y="263" width="1" height="3" fill="#3cb371"/>
<rect x="724" y="256" width="1" height="3" fill="#3cb371"/>
<rect x="724" y="262" width="1" height="3" fill="#3cb371"/>
<rect x="728" y="250" width="1" height="3" fill="#3cb371"/>
<rect x="728" y="256" width="1" height="3" fill="#3cb371"/>
<rect x="728" y="262" width="1" height="3" fill="#3cb371"/>
<rect x="732" y="248" width="1" height="3" fill="#3cb371"/>
<rect x="732" y="254" width="1" height="3" fill="#3cb371"/>
<rect x="732" y="260" width="1" height="3" fill="#3cb371"/>
<rect x="732" y="266" width="1" height="2" fill="#3cb371"/>
<rect x="736" y="246" width="1" height="3" fill="#3cb371"/>
<rect x="736" y="252" width="1" height="3" fill="#3cb371"/>
<rect x="736" y="258" width="1" height="3" fill="#3cb371"/>
<rect x="736" y="264" width="1" height="3" fill="#3cb371"/>
<rect x="740" y="244" width="1" height="3" fill="#3cb371"/>
<rect x="740" y="250" width="1" height="3" fill="#3cb371"/>
<rect x="740" y="256" width="1" height="3" fill="#3cb371"/>
<rect x="740" y="262" width="1" height="3" fill="#3cb371"/>
<rect x="744" y="243" width="1" height="3" fill="#3cb371"/>
<rect x="744" y="249" width="1" height="3" fill="#3cb371"/>
<rect x="744" y="255" width="1" height="3" fill="#3cb371"/>
<rect x="744" y="261" width="1" height="3" fill="#3cb371"/>
<rect x="744" y="267" width="1" height="1" fill="#3cb371"/>
<rect x="748" y="232" width="1" height="3" fill="#3cb371"/>
<rect x="748" y="238" width="1" height="3" fill="#3cb371"/>
<rect x="748" y="244" width="1" height="3" fill="#3cb371"/>
<rect x="748" y="250" width="1" height="3" fill="#3cb371"/>
<rect x="748" y="256" width="1" height="3" fill="#3cb371"/>
<rect x="748" y="262" width="1" height="2" fill="#3cb371"/>
<rect x="752" y="222" width="1" height="3" fill="#3cb371"/>
<rect x="752" y="228" width="1" height="3" fill="#3cb371"/>
<rect x="752" y="234" width="1" height="3" fill="#3cb371"/>
<rect x="752" y="240" width="1" height="3" fill="#3cb371"/>
<rect x="752" y="246" width="1" height="3" fill="#3cb371"/>
<rect x="752" y="252" width="1" height="3" fill="#3cb371"/>
<rect x="752" y="258" width="1" height="3" fill="#3cb371"/>
<rect x="756" y="215" width="1" height="3" fill="#3cb371"/>
<rect x="756" y="221" width="1" height="3" fill="#3cb371"/>
<rect x="756" y="227" width="1" height="3" fill="#3cb371"/>
<rect x="756" y="233" width="1" height="3" fill="#3cb371"/>
<rect x="756" y="239" width="1" height="3" fill="#3cb371"/>
<rect x="756" y="245" width="1" height="3" fill="#3cb371"/>
<rect x="756" y="251" width="1" height="3" fill="#3cb371"/>
<rect x="756" y="257" width="1" height="3" fill="#3cb371"/>
<rect x="756" y="263" width="1" height="1" fill="#3cb371"/>
<rect x="760" y="213" width="1" height="3" fill="#3cb371"/>
<rect x="760" y="219" width="1" height="3" fill="#3cb371"/>
<rect x="760" y="225" width="1" height="3" fill="#3cb371"/>
<rect x="760" y="231" width="1" height="3" fill="#3cb371"/>
<rect x="760" y="237" width="1" height="3" fill="#3cb371"/>
<rect x="760" y="243" width="1" height="3" fill="#3cb371"/>
<rect x="760" y="249" width="1" height="3" fill="#3cb371"/>
<rect x="760" y="255" width="1" height="3" fill="#3cb371"/>
<rect x="760" y="261" width="1" height="2" fill="#3cb371"/>
<rect x="764" y="213" width="1" height="3" fill="#3cb371"/>
<rect x="764" y="219" width="1" height="3" fill="#3cb371"/>
<rect x="764" y="225" width="1" height="3" fill="#3cb371"/>
<rect x="764" y="231" width="1" height="3" fill="#3cb371"/>
<rect x="764" y="237" width="1" height="3" fill="#3cb371"/>
<rect x="764" y="243" width="1" height="3" fill="#3cb371"/>
<rect x="764" y="249" width="1" height="3" fill="#3cb371"/>
<rect x="764" y="255" width="1" height="3" fill="#3cb371"/>
<rect x="764" y="261" width="1" height="2" fill="#3cb371"/>
<rect x="768" y="210" width="1" height="3" fill="#3cb371"/>
<rect x="768" y="216" width="1" height="3" fill="#3cb371"/>
<rect x="768" y="222" width="1" height="3" fill="#3cb371"/>
<rect x="768" y="228" width="1" height="3" fill="#3cb371"/>
<rect x="768" y="234" width="1" height="3" fill="#3cb371"/>
<rect x="768" y="240" width="1" height="3" fill="#3cb371"/>
<rect x="768" y="246" width="1" height="3" fill="#3cb371"/>
<rect x="768" y="252" width="1" height="3" fill="#3cb371"/>
<rect x="768" y="258" width="1" height="3" fill="#3cb371"/>
<rect x="772" y="200" width="1" height="3" fill="#3cb371"/>
<rect x="772" y="206" width="1" height="3" fill="#3cb371"/>
<rect x="772" y="212" width="1" height="3" fill="#3cb371"/>
<rect x="772" y="218" width="1" height="3" fill="#3cb371"/>
<rect x="772" y="224" width="1" height="3" fill="#3cb371"/>
<rect x="772" y="230" width="1" height="3" fill="#3cb371"/>
<rect x="772" y="236" width="1" height="3" fill="#3cb371"/>
<rect x="772" y="242" width="1" height="3" fill="#3cb371"/>
<rect x="772" y="248" width="1" height="3" fill="#3cb371"/>
<rect x="776" y="189" width="1" height="3" fill="#3cb371"/>
<rect x="776" y="195" width="1" height="3" fill="#3cb371"/>
<rect x="776" y="201" width="1" height="3" fill="#3cb371"/>
<rect x="776" y="207" width="1" height="3" fill="#3cb371"/>
<rect x="776" y="213" width="1" height="3" fill="#3cb371"/>
<rect x="776" y="219" width="1" height="3" fill="#3cb371"/>
<rect x="776" y="225" width="1" height="3" fill="#3cb371"/>
<rect x="776" y="231" width="1" height="3" fill="#3cb371"/>
<rect x="776" y="237" width="1" height="3" fill="#3cb371"/>
<rect x="776" y="243" width="1" height="2" fill="#3cb371"/>
<line x1="0.5" y1="317.5" x2="4.5" y2="317.5" stroke="#ff0000" stroke-width="1" stroke-dasharray="18.000 6.000" stroke-dashoffset="0.000"/>
<line x1="4.5" y1="317.5" x2="8.5" y2="318.5" stroke="#ff0000" stroke-width="1" stroke-dasharray="18.554 6.185" stroke-dashoffset="4.123"/>
<line x1="8.5" y1="318.5" x2="12.5" y2="325.5" stroke="#ff0000" stroke-width="1" stroke-dasharray="20.732 6.911" stroke-dashoffset="9.214"/>
<line x1="12.5" y1="325.5" x2="16.5" y2="335.5" stroke="#ff0000" stroke-width="1" stroke-dasharray="19.387 6.462" stroke-dashoffset="16.155"/>
<line x1="16.5" y1="335.5" x2="20.5" y2="336.5" stroke="#ff0000" stroke-width="1" stroke-dasharray="18.554 6.185" stroke-dashoffset="1.031"/>
<line x1="20.5" y1="336.5" x2="24.5" y2="343.5" stroke="#ff0000" stroke-width="1" stroke-dasharray="20.732 6.911" stroke-dashoffset="5.759"/>
<line x1="24.5" y1="343.5" x2="28.5" y2="351.5" stroke="#ff0000" stroke-width="1" stroke-dasharray="20.125 6.708" stroke-dashoffset="13.416"/>
<line x1="28.5" y1="351.5" x2="32.5" y2="352.5" stroke="#ff0000" stroke-width="1" stroke-dasharray="18.554 6.185" stroke-dashoffset="20.616"/>
<line x1="32.5" y1="352.5" x2="36.5" y2="352.5" stroke="#ff0000" stroke-width="1" stroke-dasharray="18.000 6.000" stroke-dashoffset="0.000"/>
<line x1="36.5" y1="352.5" x2="40.5" y2="355.5" stroke="#ff0000" stroke-width="1" stroke-dasharray="22.500 7.500" stroke-dashoffset="5.000"/>
<line x1="40.5" y1="355.5" x2="44.5" y2="360.5" stroke="#ff0000" stroke-width="1" stroke-dasharray="23.051 7.684" stroke-dashoffset="10.245"/>
<line x1="44.5" y1="360.5" x2="48.5" y2="366.5" stroke="#ff0000" stroke-width="1" stroke-dasharray="21.633 7.211" stroke-dashoffset="15.624"/>
<line x1="48.5" y1="366.5" x2="52.5" y2="377.5" stroke="#ff0000" stroke-width="1" stroke-dasharray="19.153 6.384" stroke-dashoffset="20.217"/>
<line x1="52.5" y1="377.5" x2="56.5" y2="409.5" stroke="#ff0000" stroke-width="1" stroke-dasharray="18.140 6.047" stroke-dashoffset="6.047"/>
<line x1="56.5" y1="409.5" x2="60.5" y2="434.5" stroke="#ff0000" stroke-width="1" stroke-dasharray="18.229 6.076" stroke-dashoffset="14.178"/>
<line x1="60.5" y1="434.5" x2="64.5" y2="452.5" stroke="#ff0000" stroke-width="1" stroke-dasharray="18.439 6.146" stroke-dashoffset="15.366"/>
<line x1="64.5" y1="452.5" x2="68.5" y2="458.5" stroke="#ff0000" stroke-width="1" stroke-dasharray="21.633 7.211" stroke-dashoffset="10.817"/>
<line x1="68.5" y1="458.5" x2="72.5" y2="461.5" stroke="#ff0000" stroke-width="1" stroke-dasharray="22.500 7.500" stroke-dashoffset="18.750"/>
<line x1="72.5" y1="461.5" x2="76.5" y2="465.5" stroke="#ff0000" stroke-width="1" stroke-dasharray="25.456 8.485" stroke-dashoffset="26.870"/>
<line x1="76.5" y1="465.5" x2="80.5" y2="468.5" stroke="#ff0000" stroke-width="1" stroke-dasharray="22.500 7.500" stroke-dashoffset="28.750"/>
<line x1="80.5" y1="468.5" x2="84.5" y2="472.5" stroke="#ff0000" stroke-width="1" stroke-dasharray="25.456 8.485" stroke-dashoffset="4.243"/>
<line x1="84.5" y1="472.5" x2="88.5" y2="477.5" stroke="#ff0000" stroke-width="1" stroke-dasharray="23.051 7.684" stroke-dashoffset="8.964"/>
<line x1="88.5" y1="477.5" x2="92.5" y2="476.5" stroke="#ff0000" stroke-width="1" stroke-dasharray="18.554 6.185" stroke-dashoffset="12.369"/>
<line x1="92.5" y1="476.5" x2="96.5" y2="483.5" stroke="#ff0000" stroke-width="1" stroke-dasharray="20.732 6.911" stroke-dashoffset="18.428"/>
<line x1="96.5" y1="483.5" x2="100.5" y2="483.5" stroke="#ff0000" stroke-width="1" stroke-dasharray="18.000 6.000" stroke-dashoffset="23.000"/>
<line x1="100.5" y1="483.5" x2="104.5" y2="480.5" stroke="#ff0000" stroke-width="1" stroke-dasharray="22.500 7.500" stroke-dashoffset="3.750"/>
<line x1="104.5" y1="480.5" x2="108.5" y2="474.5" stroke="#ff0000" stroke-width="1" stroke-dasharray="21.633 7.211" stroke-dashoffset="8.413"/>
<line x1="108.5" y1="474.5" x2="112.5" y2="472.5" stroke="#ff0000" stroke-width="1" stroke-dasharray="20.125 6.708" stroke-dashoffset="14.534"/>
<line x1="112.5" y1="472.5" x2="116.5" y2="472.5" stroke="#ff0000" stroke-width="1" stroke-dasharray="18.000 6.000" stroke-dashoffset="17.000"/>
<line x1="116.5" y1="472.5" x2="120.5" y2="468.5" stroke="#ff0000" stroke-width="1" stroke-dasharray="25.456 8.485" stroke-dashoffset="29.698"/>
<line x1="120.5" y1="468.5" x2="124.5" y2="459.5" stroke="#ff0000" stroke-width="1" stroke-dasharray="19.698 6.566" stroke-dashoffset="1.094"/>
<line x1="124.5" y1="459.5" x2="128.5" y2="446.5" stroke="#ff0000" stroke-width="1" stroke-dasharray="18.833 6.278" stroke-dashoffset="10.463"/>
<line x1="128.5" y1="446.5" x2="132.5" y2="441.5" stroke="#ff0000" stroke-width="1" stroke-dasharray="23.051 7.684" stroke-dashoffset="29.454"/>
<line x1="132.5" y1="441.5" x2="136.5" y2="439.5" stroke="#ff0000" stroke-width="1" stroke-dasharray="20.125 6.708" stroke-dashoffset="4.472"/>
<line x1="136.5" y1="439.5" x2="140.5" y2="421.5" stroke="#ff0000" stroke-width="1" stroke-dasharray="18.439 6.146" stroke-dashoffset="8.195"/>
<line x1="140.5" y1="421.5" x2="144.5" y2="418.5" stroke="#ff0000" stroke-width="1" stroke-dasharray="22.500 7.500" stroke-dashoffset="2.500"/>
<line x1="144.5" y1="418.5" x2="148.5" y2="415.5" stroke="#ff0000" stroke-width="1" stroke-dasharray="22.500 7.500" stroke-dashoffset="7.500"/>
<line x1="148.5" y1="415.5" x2="152.5" y2="413.5" stroke="#ff0000" stroke-width="1" stroke-dasharray="20.125 6.708" stroke-dashoffset="11.180"/>
<line x1="152.5" y1="413.5" x2="156.5" y2="410.5" stroke="#ff0000" stroke-width="1" stroke-dasharray="22.500 7.500" stroke-dashoffset="17.500"/>
<line x1="156.5" y1="410.5" x2="160.5" y2="404.5" stroke="#ff0000" stroke-width="1" stroke-dasharray="21.633 7.211" stroke-dashoffset="21.633"/>
<line x1="160.5" y1="404.5" x2="164.5" y2="406.5" stroke="#ff0000" stroke-width="1" stroke-dasharray="20.125 6.708" stroke-dashoffset="0.000"/>
<line x1="164.5" y1="406.5" x2="168.5" y2="407.5" stroke="#ff0000" stroke-width="1" stroke-dasharray="18.554 6.185" stroke-dashoffset="4.123"/>
<line x1="168.5" y1="407.5" x2="172.5" y2="407.5" stroke="#ff0000" stroke-width="1" stroke-dasharray="18.000 6.000" stroke-dashoffset="8.000"/>
<line x1="172.5" y1="407.5" x2="176.5" y2="407.5" stroke="#ff0000" stroke-width="1" stroke-dasharray="18.000 6.000" stroke-dashoffset="12.000"/>
<line x1="176.5" y1="407.5" x2="180.5" y2="407.5" stroke="#ff0000" stroke-width="1" stroke-dasharray="18.000 6.000" stroke-dashoffset="16.000"/>
<line x1="180.5" y1="407.5" x2="184.5" y2="405.5" stroke="#ff0000" stroke-width="1" stroke-dasharray="20.125 6.708" stroke-dashoffset="22.361"/>
<line x1="184.5" y1="405.5" x2="188.5" y2="399.5" stroke="#ff0000" stroke-width="1" stroke-dasharray="21.633 7.211" stroke-dashoffset="0.000"/>
<line x1="188.5" y1="399.5" x2="192.5" y2="394.5" stroke="#ff0000" stroke-width="1" stroke-dasharray="23.051 7.684" stroke-dashoffset="7.684"/>
<line x1="192.5" y1="394.5" x2="196.5" y2="386.5" stroke="#ff0000" stroke-width="1" stroke-dasharray="20.125 6.708" stroke-dashoffset="12.298"/>
<line x1="196.5" y1="386.5" x2="200.5" y2="373.5" stroke="#ff0000" stroke-width="1" stroke-dasharray="18.833 6.278" stroke-dashoffset="19.879"/>
<line x1="200.5" y1="373.5" x2="204.5" y2="366.5" stroke="#ff0000" stroke-width="1" stroke-dasharray="20.732 6.911" stroke-dashoffset="9.214"/>
<line x1="204.5" y1="366.5" x2="208.5" y2="356.5" stroke="#ff0000" stroke-width="1" stroke-dasharray="19.387 6.462" stroke-dashoffset="16.155"/>
<line x1="208.5" y1="356.5" x2="212.5" y2="351.5" stroke="#ff0000" stroke-width="1" stroke-dasharray="23.051 7.684" stroke-dashoffset="1.281"/>
<line x1="212.5" y1="351.5" x2="216.5" y2="345.5" stroke="#ff0000" stroke-width="1" stroke-dasharray="21.633 7.211" stroke-dashoffset="7.211"/>
<line x1="216.5" y1="345.5" x2="220.5" y2="339.5" stroke="#ff0000" stroke-width="1" stroke-dasharray="21.633 7.211" stroke-dashoffset="14.422"/>
<line x1="220.5" y1="339.5" x2="224.5" y2="335.5" stroke="#ff0000" stroke-width="1" stroke-dasharray="25.456 8.485" stroke-dashoffset="25.456"/>
<line x1="224.5" y1="335.5" x2="228.5" y2="331.5" stroke="#ff0000" stroke-width="1" stroke-dasharray="25.456 8.485" stroke-dashoffset="31.113"/>
<line x1="228.5" y1="331.5" x2="232.5" y2="331.5" stroke="#ff0000" stroke-width="1" stroke-dasharray="18.000 6.000" stroke-dashoffset="2.000"/>
<line x1="232.5" y1="331.5" x2="236.5" y2="331.5" stroke="#ff0000" stroke-width="1" stroke-dasharray="18.000 6.000" stroke-dashoffset="6.000"/>
<line x1="236.5" y1="331.5" x2="240.5" y2="331.5" stroke="#ff0000" stroke-width="1" stroke-dasharray="18.000 6.000" stroke-dashoffset="10.000"/>
<line x1="240.5" y1="331.5" x2="244.5" y2="328.5" stroke="#ff0000" stroke-width="1" stroke-dasharray="22.500 7.500" stroke-dashoffset="17.500"/>
<line x1="244.5" y1="328.5" x2="248.5" y2="323.5" stroke="#ff0000" stroke-width="1" stroke-dasharray="23.051 7.684" stroke-dashoffset="23.051"/>
<line x1="248.5" y1="323.5" x2="252.5" y2="317.5" stroke="#ff0000" stroke-width="1" stroke-dasharray="21.633 7.211" stroke-dashoffset="27.643"/>
<line x1="252.5" y1="317.5" x2="256.5" y2="310.5" stroke="#ff0000" stroke-width="1" stroke-dasharray="20.732 6.911" stroke-dashoffset="5.759"/>
<line x1="256.5" y1="310.5" x2="260.5" y2="306.5" stroke="#ff0000" stroke-width="1" stroke-dasharray="25.456 8.485" stroke-dashoffset="16.971"/>
<line x1="260.5" y1="306.5" x2="264.5" y2="306.5" stroke="#ff0000" stroke-width="1" stroke-dasharray="18.000 6.000" stroke-dashoffset="16.000"/>
<line x1="264.5" y1="306.5" x2="268.5" y2="306.5" stroke="#ff0000" stroke-width="1" stroke-dasharray="18.000 6.000" stroke-dashoffset="20.000"/>
<line x1="268.5" y1="306.5" x2="272.5" y2="308.5" stroke="#ff0000" stroke-width="1" stroke-dasharray="20.125 6.708" stroke-dashoffset="0.000"/>
<line x1="272.5" y1="308.5" x2="276.5" y2="304.5" stroke="#ff0000" stroke-width="1" stroke-dasharray="25.456 8.485" stroke-dashoffset="5.657"/>
<line x1="276.5" y1="304.5" x2="280.5" y2="304.5" stroke="#ff0000" stroke-width="1" stroke-dasharray="18.000 6.000" stroke-dashoffset="8.000"/>
<line x1="280.5" y1="304.5" x2="284.5" y2="306.5" stroke="#ff0000" stroke-width="1" stroke-dasharray="20.125 6.708" stroke-dashoffset="13.416"/>
<line x1="284.5" y1="306.5" x2="288.5" y2="311.5" stroke="#ff0000" stroke-width="1" stroke-dasharray="23.051 7.684" stroke-dashoffset="20.490"/>
<line x1="288.5" y1="311.5" x2="292.5" y2="316.5" stroke="#ff0000" stroke-width="1" stroke-dasharray="23.051 7.684" stroke-dashoffset="26.893"/>
<line x1="292.5" y1="316.5" x2="296.5" y2="322.5" stroke="#ff0000" stroke-width="1" stroke-dasharray="21.633 7.211" stroke-dashoffset="2.404"/>
<line x1="296.5" y1="322.5" x2="300.5" y2="326.5" stroke="#ff0000" stroke-width="1" stroke-dasharray="25.456 8.485" stroke-dashoffset="11.314"/>
<line x1="300.5" y1="326.5" x2="304.5" y2="330.5" stroke="#ff0000" stroke-width="1" stroke-dasharray="25.456 8.485" stroke-dashoffset="16.971"/>
<line x1="304.5" y1="330.5" x2="308.5" y2="331.5" stroke="#ff0000" stroke-width="1" stroke-dasharray="18.554 6.185" stroke-dashoffset="16.492"/>
<line x1="308.5" y1="331.5" x2="312.5" y2="331.5" stroke="#ff0000" stroke-width="1" stroke-dasharray="18.000 6.000" stroke-dashoffset="20.000"/>
<line x1="312.5" y1="331.5" x2="316.5" y2="330.5" stroke="#ff0000" stroke-width="1" stroke-dasharray="18.554 6.185" stroke-dashoffset="0.000"/>
<line x1="316.5" y1="330.5" x2="320.5" y2="323.5" stroke="#ff0000" stroke-width="1" stroke-dasharray="20.732 6.911" stroke-dashoffset="4.607"/>
<line x1="320.5" y1="323.5" x2="324.5" y2="321.5" stroke="#ff0000" stroke-width="1" stroke-dasharray="20.125 6.708" stroke-dashoffset="12.298"/>
<line x1="324.5" y1="321.5" x2="328.5" y2="320.5" stroke="#ff0000" stroke-width="1" stroke-dasharray="18.554 6.185" stroke-dashoffset="15.462"/>
<line x1="328.5" y1="320.5" x2="332.5" y2="319.5" stroke="#ff0000" stroke-width="1" stroke-dasharray="18.554 6.185" stroke-dashoffset="19.585"/>
<line x1="332.5" y1="319.5" x2="336.5" y2="314.5" stroke="#ff0000" stroke-width="1" stroke-dasharray="23.051 7.684" stroke-dashoffset="29.454"/>
<line x1="336.5" y1="314.5" x2="340.5" y2="305.5" stroke="#ff0000" stroke-width="1" stroke-dasharray="19.698 6.566" stroke-dashoffset="4.377"/>
<line x1="340.5" y1="305.5" x2="344.5" y2="300.5" stroke="#ff0000" stroke-width="1" stroke-dasharray="23.051 7.684" stroke-dashoffset="16.648"/>
<line x1="344.5" y1="300.5" x2="348.5" y2="298.5" stroke="#ff0000" stroke-width="1" stroke-dasharray="20.125 6.708" stroke-dashoffset="20.125"/>
<line x1="348.5" y1="298.5" x2="352.5" y2="297.5" stroke="#ff0000" stroke-width="1" stroke-dasharray="18.554 6.185" stroke-dashoffset="22.677"/>
<line x1="352.5" y1="297.5" x2="356.5" y2="294.5" stroke="#ff0000" stroke-width="1" stroke-dasharray="22.500 7.500" stroke-dashoffset="2.500"/>
<line x1="356.5" y1="294.5" x2="360.5" y2="292.5" stroke="#ff0000" stroke-width="1" stroke-dasharray="20.125 6.708" stroke-dashoffset="6.708"/>
<line x1="360.5" y1="292.5" x2="364.5" y2="293.5" stroke="#ff0000" stroke-width="1" stroke-dasharray="18.554 6.185" stroke-dashoffset="10.308"/>
<line x1="364.5" y1="293.5" x2="368.5" y2="293.5" stroke="#ff0000" stroke-width="1" stroke-dasharray="18.000 6.000" stroke-dashoffset="14.000"/>
<line x1="368.5" y1="293.5" x2="372.5" y2="286.5" stroke="#ff0000" stroke-width="1" stroke-dasharray="20.732 6.911" stroke-dashoffset="20.732"/>
<line x1="372.5" y1="286.5" x2="376.5" y2="282.5" stroke="#ff0000" stroke-width="1" stroke-dasharray="25.456 8.485" stroke-dashoffset="1.414"/>
<line x1="376.5" y1="282.5" x2="380.5" y2="279.5" stroke="#ff0000" stroke-width="1" stroke-dasharray="22.500 7.500" stroke-dashoffset="6.250"/>
<line x1="380.5" y1="279.5" x2="384.5" y2="275.5" stroke="#ff0000" stroke-width="1" stroke-dasharray="25.456 8.485" stroke-dashoffset="12.728"/>
<line x1="384.5" y1="275.5" x2="388.5" y2="262.5" stroke="#ff0000" stroke-width="1" stroke-dasharray="18.833 6.278" stroke-dashoffset="13.601"/>
<line x1="388.5" y1="262.5" x2="392.5" y2="255.5" stroke="#ff0000" stroke-width="1" stroke-dasharray="20.732 6.911" stroke-dashoffset="2.304"/>
<line x1="392.5" y1="255.5" x2="396.5" y2="253.5" stroke="#ff0000" stroke-width="1" stroke-dasharray="20.125 6.708" stroke-dashoffset="10.062"/>
<line x1="396.5" y1="253.5" x2="400.5" y2="252.5" stroke="#ff0000" stroke-width="1" stroke-dasharray="18.554 6.185" stroke-dashoffset="13.400"/>
<line x1="400.5" y1="252.5" x2="404.5" y2="250.5" stroke="#ff0000" stroke-width="1" stroke-dasharray="20.125 6.708" stroke-dashoffset="19.007"/>
<line x1="404.5" y1="250.5" x2="408.5" y2="244.5" stroke="#ff0000" stroke-width="1" stroke-dasharray="21.633 7.211" stroke-dashoffset="25.239"/>
<line x1="408.5" y1="244.5" x2="412.5" y2="236.5" stroke="#ff0000" stroke-width="1" stroke-dasharray="20.125 6.708" stroke-dashoffset="3.354"/>
<line x1="412.5" y1="236.5" x2="416.5" y2="228.5" stroke="#ff0000" stroke-width="1" stroke-dasharray="20.125 6.708" stroke-dashoffset="12.298"/>
<line x1="416.5" y1="228.5" x2="420.5" y2="224.5" stroke="#ff0000" stroke-width="1" stroke-dasharray="25.456 8.485" stroke-dashoffset="26.870"/>
<line x1="420.5" y1="224.5" x2="424.5" y2="220.5" stroke="#ff0000" stroke-width="1" stroke-dasharray="25.456 8.485" stroke-dashoffset="32.527"/>
<line x1="424.5" y1="220.5" x2="428.5" y2="221.5" stroke="#ff0000" stroke-width="1" stroke-dasharray="18.554 6.185" stroke-dashoffset="3.092"/>
<line x1="428.5" y1="221.5" x2="432.5" y2="225.5" stroke="#ff0000" stroke-width="1" stroke-dasharray="25.456 8.485" stroke-dashoffset="9.899"/>
<line x1="432.5" y1="225.5" x2="436.5" y2="228.5" stroke="#ff0000" stroke-width="1" stroke-dasharray="22.500 7.500" stroke-dashoffset="13.750"/>
<line x1="436.5" y1="228.5" x2="440.5" y2="239.5" stroke="#ff0000" stroke-width="1" stroke-dasharray="19.153 6.384" stroke-dashoffset="15.961"/>
<line x1="440.5" y1="239.5" x2="444.5" y2="252.5" stroke="#ff0000" stroke-width="1" stroke-dasharray="18.833 6.278" stroke-dashoffset="2.093"/>
<line x1="444.5" y1="252.5" x2="448.5" y2="255.5" stroke="#ff0000" stroke-width="1" stroke-dasharray="22.500 7.500" stroke-dashoffset="18.750"/>
<line x1="448.5" y1="255.5" x2="452.5" y2="264.5" stroke="#ff0000" stroke-width="1" stroke-dasharray="19.698 6.566" stroke-dashoffset="20.792"/>
<line x1="452.5" y1="264.5" x2="456.5" y2="273.5" stroke="#ff0000" stroke-width="1" stroke-dasharray="19.698 6.566" stroke-dashoffset="4.377"/>
<line x1="456.5" y1="273.5" x2="460.5" y2="275.5" stroke="#ff0000" stroke-width="1" stroke-dasharray="20.125 6.708" stroke-dashoffset="14.534"/>
<line x1="460.5" y1="275.5" x2="464.5" y2="272.5" stroke="#ff0000" stroke-width="1" stroke-dasharray="22.500 7.500" stroke-dashoffset="21.250"/>
<line x1="464.5" y1="272.5" x2="468.5" y2="279.5" stroke="#ff0000" stroke-width="1" stroke-dasharray="20.732 6.911" stroke-dashoffset="24.187"/>
<line x1="468.5" y1="279.5" x2="472.5" y2="283.5" stroke="#ff0000" stroke-width="1" stroke-dasharray="25.456 8.485" stroke-dashoffset="5.657"/>
<line x1="472.5" y1="283.5" x2="476.5" y2="285.5" stroke="#ff0000" stroke-width="1" stroke-dasharray="20.125 6.708" stroke-dashoffset="8.944"/>
<line x1="476.5" y1="285.5" x2="480.5" y2="278.5" stroke="#ff0000" stroke-width="1" stroke-dasharray="20.732 6.911" stroke-dashoffset="13.821"/>
<line x1="480.5" y1="278.5" x2="484.5" y2="276.5" stroke="#ff0000" stroke-width="1" stroke-dasharray="20.125 6.708" stroke-dashoffset="21.243"/>
<line x1="484.5" y1="276.5" x2="488.5" y2="276.5" stroke="#ff0000" stroke-width="1" stroke-dasharray="18.000 6.000" stroke-dashoffset="23.000"/>
<line x1="488.5" y1="276.5" x2="492.5" y2="275.5" stroke="#ff0000" stroke-width="1" stroke-dasharray="18.554 6.185" stroke-dashoffset="3.092"/>
<line x1="492.5" y1="275.5" x2="496.5" y2="274.5" stroke="#ff0000" stroke-width="1" stroke-dasharray="18.554 6.185" stroke-dashoffset="7.215"/>
<line x1="496.5" y1="274.5" x2="500.5" y2="274.5" stroke="#ff0000" stroke-width="1" stroke-dasharray="18.000 6.000" stroke-dashoffset="11.000"/>
<line x1="500.5" y1="274.5" x2="504.5" y2="272.5" stroke="#ff0000" stroke-width="1" stroke-dasharray="20.125 6.708" stroke-dashoffset="16.771"/>
<line x1="504.5" y1="272.5" x2="508.5" y2="270.5" stroke="#ff0000" stroke-width="1" stroke-dasharray="20.125 6.708" stroke-dashoffset="21.243"/>
<line x1="508.5" y1="270.5" x2="512.5" y2="266.5" stroke="#ff0000" stroke-width="1" stroke-dasharray="25.456 8.485" stroke-dashoffset="32.527"/>
<line x1="512.5" y1="266.5" x2="516.5" y2="266.5" stroke="#ff0000" stroke-width="1" stroke-dasharray="18.000 6.000" stroke-dashoffset="3.000"/>
<line x1="516.5" y1="266.5" x2="520.5" y2="264.5" stroke="#ff0000" stroke-width="1" stroke-dasharray="20.125 6.708" stroke-dashoffset="7.826"/>
<line x1="520.5" y1="264.5" x2="524.5" y2="264.5" stroke="#ff0000" stroke-width="1" stroke-dasharray="18.000 6.000" stroke-dashoffset="11.000"/>
<line x1="524.5" y1="264.5" x2="528.5" y2="258.5" stroke="#ff0000" stroke-width="1" stroke-dasharray="21.633 7.211" stroke-dashoffset="18.028"/>
<line x1="528.5" y1="258.5" x2="532.5" y2="252.5" stroke="#ff0000" stroke-width="1" stroke-dasharray="21.633 7.211" stroke-dashoffset="25.239"/>
<line x1="532.5" y1="252.5" x2="536.5" y2="238.5" stroke="#ff0000" stroke-width="1" stroke-dasharray="18.720 6.240" stroke-dashoffset="3.120"/>
<line x1="536.5" y1="238.5" x2="540.5" y2="237.5" stroke="#ff0000" stroke-width="1" stroke-dasharray="18.554 6.185" stroke-dashoffset="17.523"/>
<line x1="540.5" y1="237.5" x2="544.5" y2="234.5" stroke="#ff0000" stroke-width="1" stroke-dasharray="22.500 7.500" stroke-dashoffset="26.250"/>
<line x1="544.5" y1="234.5" x2="548.5" y2="233.5" stroke="#ff0000" stroke-width="1" stroke-dasharray="18.554 6.185" stroke-dashoffset="1.031"/>
<line x1="548.5" y1="233.5" x2="552.5" y2="234.5" stroke="#ff0000" stroke-width="1" stroke-dasharray="18.554 6.185" stroke-dashoffset="5.154"/>
<line x1="552.5" y1="234.5" x2="556.5" y2="234.5" stroke="#ff0000" stroke-width="1" stroke-dasharray="18.000 6.000" stroke-dashoffset="9.000"/>
<line x1="556.5" y1="234.5" x2="560.5" y2="234.5" stroke="#ff0000" stroke-width="1" stroke-dasharray="18.000 6.000" stroke-dashoffset="13.000"/>
<line x1="560.5" y1="234.5" x2="564.5" y2="236.5" stroke="#ff0000" stroke-width="1" stroke-dasharray="20.125 6.708" stroke-dashoffset="19.007"/>
<line x1="564.5" y1="236.5" x2="568.5" y2="233.5" stroke="#ff0000" stroke-width="1" stroke-dasharray="22.500 7.500" stroke-dashoffset="26.250"/>
<line x1="568.5" y1="233.5" x2="572.5" y2="236.5" stroke="#ff0000" stroke-width="1" stroke-dasharray="22.500 7.500" stroke-dashoffset="1.250"/>
<line x1="572.5" y1="236.5" x2="576.5" y2="240.5" stroke="#ff0000" stroke-width="1" stroke-dasharray="25.456 8.485" stroke-dashoffset="7.071"/>
<line x1="576.5" y1="240.5" x2="580.5" y2="239.5" stroke="#ff0000" stroke-width="1" stroke-dasharray="18.554 6.185" stroke-dashoffset="9.277"/>
<line x1="580.5" y1="239.5" x2="584.5" y2="238.5" stroke="#ff0000" stroke-width="1" stroke-dasharray="18.554 6.185" stroke-dashoffset="13.400"/>
<line x1="584.5" y1="238.5" x2="588.5" y2="238.5" stroke="#ff0000" stroke-width="1" stroke-dasharray="18.000 6.000" stroke-dashoffset="17.000"/>
<line x1="588.5" y1="238.5" x2="592.5" y2="242.5" stroke="#ff0000" stroke-width="1" stroke-dasharray="25.456 8.485" stroke-dashoffset="29.698"/>
<line x1="592.5" y1="242.5" x2="596.5" y2="252.5" stroke="#ff0000" stroke-width="1" stroke-dasharray="19.387 6.462" stroke-dashoffset="1.077"/>
<line x1="596.5" y1="252.5" x2="600.5" y2="254.5" stroke="#ff0000" stroke-width="1" stroke-dasharray="20.125 6.708" stroke-dashoffset="12.298"/>
<line x1="600.5" y1="254.5" x2="604.5" y2="255.5" stroke="#ff0000" stroke-width="1" stroke-dasharray="18.554 6.185" stroke-dashoffset="15.462"/>
<line x1="604.5" y1="255.5" x2="608.5" y2="255.5" stroke="#ff0000" stroke-width="1" stroke-dasharray="18.000 6.000" stroke-dashoffset="19.000"/>
<line x1="608.5" y1="255.5" x2="612.5" y2="272.5" stroke="#ff0000" stroke-width="1" stroke-dasharray="18.492 6.164" stroke-dashoffset="23.628"/>
<line x1="612.5" y1="272.5" x2="616.5" y2="274.5" stroke="#ff0000" stroke-width="1" stroke-dasharray="20.125 6.708" stroke-dashoffset="17.889"/>
<line x1="616.5" y1="274.5" x2="620.5" y2="275.5" stroke="#ff0000" stroke-width="1" stroke-dasharray="18.554 6.185" stroke-dashoffset="20.616"/>
<line x1="620.5" y1="275.5" x2="624.5" y2="278.5" stroke="#ff0000" stroke-width="1" stroke-dasharray="22.500 7.500" stroke-dashoffset="0.000"/>
<line x1="624.5" y1="278.5" x2="628.5" y2="286.5" stroke="#ff0000" stroke-width="1" stroke-dasharray="20.125 6.708" stroke-dashoffset="4.472"/>
<line x1="628.5" y1="286.5" x2="632.5" y2="290.5" stroke="#ff0000" stroke-width="1" stroke-dasharray="25.456 8.485" stroke-dashoffset="16.971"/>
<line x1="632.5" y1="290.5" x2="636.5" y2="292.5" stroke="#ff0000" stroke-width="1" stroke-dasharray="20.125 6.708" stroke-dashoffset="17.889"/>
<line x1="636.5" y1="292.5" x2="640.5" y2="296.5" stroke="#ff0000" stroke-width="1" stroke-dasharray="25.456 8.485" stroke-dashoffset="28.284"/>
<line x1="640.5" y1="296.5" x2="644.5" y2="302.5" stroke="#ff0000" stroke-width="1" stroke-dasharray="21.633 7.211" stroke-dashoffset="0.000"/>
<line x1="644.5" y1="302.5" x2="648.5" y2="310.5" stroke="#ff0000" stroke-width="1" stroke-dasharray="20.125 6.708" stroke-dashoffset="6.708"/>
<line x1="648.5" y1="310.5" x2="652.5" y2="310.5" stroke="#ff0000" stroke-width="1" stroke-dasharray="18.000 6.000" stroke-dashoffset="14.000"/>
<line x1="652.5" y1="310.5" x2="656.5" y2="307.5" stroke="#ff0000" stroke-width="1" stroke-dasharray="22.500 7.500" stroke-dashoffset="22.500"/>
<line x1="656.5" y1="307.5" x2="660.5" y2="306.5" stroke="#ff0000" stroke-width="1" stroke-dasharray="18.554 6.185" stroke-dashoffset="22.677"/>
<line x1="660.5" y1="306.5" x2="664.5" y2="310.5" stroke="#ff0000" stroke-width="1" stroke-dasharray="25.456 8.485" stroke-dashoffset="2.828"/>
<line x1="664.5" y1="310.5" x2="668.5" y2="309.5" stroke="#ff0000" stroke-width="1" stroke-dasharray="18.554 6.185" stroke-dashoffset="6.185"/>
<line x1="668.5" y1="309.5" x2="672.5" y2="306.5" stroke="#ff0000" stroke-width="1" stroke-dasharray="22.500 7.500" stroke-dashoffset="12.500"/>
<line x1="672.5" y1="306.5" x2="676.5" y2="304.5" stroke="#ff0000" stroke-width="1" stroke-dasharray="20.125 6.708" stroke-dashoffset="15.652"/>
<line x1="676.5" y1="304.5" x2="680.5" y2="297.5" stroke="#ff0000" stroke-width="1" stroke-dasharray="20.732 6.911" stroke-dashoffset="20.732"/>
<line x1="680.5" y1="297.5" x2="684.5" y2="289.5" stroke="#ff0000" stroke-width="1" stroke-dasharray="20.125 6.708" stroke-dashoffset="1.118"/>
<line x1="684.5" y1="289.5" x2="688.5" y2="283.5" stroke="#ff0000" stroke-width="1" stroke-dasharray="21.633 7.211" stroke-dashoffset="10.817"/>
<line x1="688.5" y1="283.5" x2="692.5" y2="279.5" stroke="#ff0000" stroke-width="1" stroke-dasharray="25.456 8.485" stroke-dashoffset="21.213"/>
<line x1="692.5" y1="279.5" x2="696.5" y2="277.5" stroke="#ff0000" stroke-width="1" stroke-dasharray="20.125 6.708" stroke-dashoffset="21.243"/>
<line x1="696.5" y1="277.5" x2="700.5" y2="270.5" stroke="#ff0000" stroke-width="1" stroke-dasharray="20.732 6.911" stroke-dashoffset="26.490"/>
<line x1="700.5" y1="270.5" x2="704.5" y2="271.5" stroke="#ff0000" stroke-width="1" stroke-dasharray="18.554 6.185" stroke-dashoffset="6.185"/>
<line x1="704.5" y1="271.5" x2="708.5" y2="271.5" stroke="#ff0000" stroke-width="1" stroke-dasharray="18.000 6.000" stroke-dashoffset="10.000"/>
<line x1="708.5" y1="271.5" x2="712.5" y2="269.5" stroke="#ff0000" stroke-width="1" stroke-dasharray="20.125 6.708" stroke-dashoffset="15.652"/>
<line x1="712.5" y1="269.5" x2="716.5" y2="268.5" stroke="#ff0000" stroke-width="1" stroke-dasharray="18.554 6.185" stroke-dashoffset="18.554"/>
<line x1="716.5" y1="268.5" x2="720.5" y2="262.5" stroke="#ff0000" stroke-width="1" stroke-dasharray="21.633 7.211" stroke-dashoffset="26.441"/>
<line x1="720.5" y1="262.5" x2="724.5" y2="255.5" stroke="#ff0000" stroke-width="1" stroke-dasharray="20.732 6.911" stroke-dashoffset="4.607"/>
<line x1="724.5" y1="255.5" x2="728.5" y2="249.5" stroke="#ff0000" stroke-width="1" stroke-dasharray="21.633 7.211" stroke-dashoffset="13.220"/>
<line x1="728.5" y1="249.5" x2="732.5" y2="247.5" stroke="#ff0000" stroke-width="1" stroke-dasharray="20.125 6.708" stroke-dashoffset="19.007"/>
<line x1="732.5" y1="247.5" x2="736.5" y2="245.5" stroke="#ff0000" stroke-width="1" stroke-dasharray="20.125 6.708" stroke-dashoffset="23.479"/>
<line x1="736.5" y1="245.5" x2="740.5" y2="243.5" stroke="#ff0000" stroke-width="1" stroke-dasharray="20.125 6.708" stroke-dashoffset="1.118"/>
<line x1="740.5" y1="243.5" x2="744.5" y2="242.5" stroke="#ff0000" stroke-width="1" stroke-dasharray="18.554 6.185" stroke-dashoffset="5.154"/>
<line x1="744.5" y1="242.5" x2="748.5" y2="231.5" stroke="#ff0000" stroke-width="1" stroke-dasharray="19.153 6.384" stroke-dashoffset="9.577"/>
<line x1="748.5" y1="231.5" x2="752.5" y2="221.5" stroke="#ff0000" stroke-width="1" stroke-dasharray="19.387 6.462" stroke-dashoffset="21.541"/>
<line x1="752.5" y1="221.5" x2="756.5" y2="214.5" stroke="#ff0000" stroke-width="1" stroke-dasharray="20.732 6.911" stroke-dashoffset="6.911"/>
<line x1="756.5" y1="214.5" x2="760.5" y2="212.5" stroke="#ff0000" stroke-width="1" stroke-dasharray="20.125 6.708" stroke-dashoffset="14.534"/>
<line x1="760.5" y1="212.5" x2="764.5" y2="212.5" stroke="#ff0000" stroke-width="1" stroke-dasharray="18.000 6.000" stroke-dashoffset="17.000"/>
<line x1="764.5" y1="212.5" x2="768.5" y2="209.5" stroke="#ff0000" stroke-width="1" stroke-dasharray="22.500 7.500" stroke-dashoffset="26.250"/>
<line x1="768.5" y1="209.5" x2="772.5" y2="199.5" stroke="#ff0000" stroke-width="1" stroke-dasharray="19.387 6.462" stroke-dashoffset="1.077"/>
<line x1="772.5" y1="199.5" x2="776.5" y2="188.5" stroke="#ff0000" stroke-width="1" stroke-dasharray="19.153 6.384" stroke-dashoffset="11.705"/>
<line x1="0.5" y1="253.5" x2="4.5" y2="253.5" stroke="#008000" stroke-width="1" stroke-dasharray="18.000 6.000" stroke-dashoffset="0.000"/>
<line x1="4.5" y1="253.5" x2="8.5" y2="253.5" stroke="#008000" stroke-width="1" stroke-dasharray="18.000 6.000" stroke-dashoffset="4.000"/>
<line x1="8.5" y1="253.5" x2="12.5" y2="253.5" stroke="#008000" stroke-width="1" stroke-dasharray="18.000 6.000" stroke-dashoffset="8.000"/>
<line x1="12.5" y1="253.5" x2="16.5" y2="264.5" stroke="#008000" stroke-width="1" stroke-dasharray="19.153 6.384" stroke-dashoffset="12.769"/>
<line x1="16.5" y1="264.5" x2="20.5" y2="265.5" stroke="#008000" stroke-width="1" stroke-dasharray="18.554 6.185" stroke-dashoffset="23.708"/>
<line x1="20.5" y1="265.5" x2="24.5" y2="270.5" stroke="#008000" stroke-width="1" stroke-dasharray="23.051 7.684" stroke-dashoffset="3.842"/>
<line x1="24.5" y1="270.5" x2="28.5" y2="271.5" stroke="#008000" stroke-width="1" stroke-dasharray="18.554 6.185" stroke-dashoffset="8.246"/>
<line x1="28.5" y1="271.5" x2="32.5" y2="273.5" stroke="#008000" stroke-width="1" stroke-dasharray="20.125 6.708" stroke-dashoffset="13.416"/>
<line x1="32.5" y1="273.5" x2="36.5" y2="275.5" stroke="#008000" stroke-width="1" stroke-dasharray="20.125 6.708" stroke-dashoffset="17.889"/>
<line x1="36.5" y1="275.5" x2="40.5" y2="277.5" stroke="#008000" stroke-width="1" stroke-dasharray="20.125 6.708" stroke-dashoffset="22.361"/>
<line x1="40.5" y1="277.5" x2="44.5" y2="282.5" stroke="#008000" stroke-width="1" stroke-dasharray="23.051 7.684" stroke-dashoffset="0.000"/>
<line x1="44.5" y1="282.5" x2="48.5" y2="283.5" stroke="#008000" stroke-width="1" stroke-dasharray="18.554 6.185" stroke-dashoffset="5.154"/>
<line x1="48.5" y1="283.5" x2="52.5" y2="294.5" stroke="#008000" stroke-width="1" stroke-dasharray="19.153 6.384" stroke-dashoffset="9.577"/>
<line x1="52.5" y1="294.5" x2="56.5" y2="313.5" stroke="#008000" stroke-width="1" stroke-dasharray="18.395 6.132" stroke-dashoffset="20.438"/>
<line x1="56.5" y1="313.5" x2="60.5" y2="313.5" stroke="#008000" stroke-width="1" stroke-dasharray="18.000 6.000" stroke-dashoffset="15.000"/>
<line x1="60.5" y1="313.5" x2="64.5" y2="313.5" stroke="#008000" stroke-width="1" stroke-dasharray="18.000 6.000" stroke-dashoffset="19.000"/>
<line x1="64.5" y1="313.5" x2="68.5" y2="313.5" stroke="#008000" stroke-width="1" stroke-dasharray="18.000 6.000" stroke-dashoffset="23.000"/>
<line x1="68.5" y1="313.5" x2="72.5" y2="313.5" stroke="#008000" stroke-width="1" stroke-dasharray="18.000 6.000" stroke-dashoffset="3.000"/>
<line x1="72.5" y1="313.5" x2="76.5" y2="313.5" stroke="#008000" stroke-width="1" stroke-dasharray="18.000 6.000" stroke-dashoffset="7.000"/>
<line x1="76.5" y1="313.5" x2="80.5" y2="313.5" stroke="#008000" stroke-width="1" stroke-dasharray="18.000 6.000" stroke-dashoffset="11.000"/>
<line x1="80.5" y1="313.5" x2="84.5" y2="313.5" stroke="#008000" stroke-width="1" stroke-dasharray="18.000 6.000" stroke-dashoffset="15.000"/>
<line x1="84.5" y1="313.5" x2="88.5" y2="313.5" stroke="#008000" stroke-width="1" stroke-dasharray="18.000 6.000" stroke-dashoffset="19.000"/>
<line x1="88.5" y1="313.5" x2="92.5" y2="313.5" stroke="#008000" stroke-width="1" stroke-dasharray="18.000 6.000" stroke-dashoffset="23.000"/>
<line x1="92.5" y1="313.5" x2="96.5" y2="313.5" stroke="#008000" stroke-width="1" stroke-dasharray="18.000 6.000" stroke-dashoffset="3.000"/>
<line x1="96.5" y1="313.5" x2="100.5" y2="313.5" stroke="#008000" stroke-width="1" stroke-dasharray="18.000 6.000" stroke-dashoffset="7.000"/>
<line x1="100.5" y1="313.5" x2="104.5" y2="313.5" stroke="#008000" stroke-width="1" stroke-dasharray="18.000 6.000" stroke-dashoffset="11.000"/>
<line x1="104.5" y1="313.5" x2="108.5" y2="313.5" stroke="#008000" stroke-width="1" stroke-dasharray="18.000 6.000" stroke-dashoffset="15.000"/>
<line x1="108.5" y1="313.5" x2="112.5" y2="313.5" stroke="#008000" stroke-width="1" stroke-dasharray="18.000 6.000" stroke-dashoffset="19.000"/>
<line x1="112.5" y1="313.5" x2="116.5" y2="313.5" stroke="#008000" stroke-width="1" stroke-dasharray="18.000 6.000" stroke-dashoffset="23.000"/>
<line x1="116.5" y1="313.5" x2="120.5" y2="313.5" stroke="#008000" stroke-width="1" stroke-dasharray="18.000 6.000" stroke-dashoffset="3.000"/>
<line x1="120.5" y1="313.5" x2="124.5" y2="313.5" stroke="#008000" stroke-width="1" stroke-dasharray="18.000 6.000" stroke-dashoffset="7.000"/>
<line x1="124.5" y1="313.5" x2="128.5" y2="313.5" stroke="#008000" stroke-width="1" stroke-dasharray="18.000 6.000" stroke-dashoffset="11.000"/>
<line x1="128.5" y1="313.5" x2="132.5" y2="313.5" stroke="#008000" stroke-width="1" stroke-dasharray="18.000 6.000" stroke-dashoffset="15.000"/>
<line x1="132.5" y1="313.5" x2="136.5" y2="313.5" stroke="#008000" stroke-width="1" stroke-dasharray="18.000 6.000" stroke-dashoffset="19.000"/>
<line x1="136.5" y1="313.5" x2="140.5" y2="313.5" stroke="#008000" stroke-width="1" stroke-dasharray="18.000 6.000" stroke-dashoffset="23.000"/>
<line x1="140.5" y1="313.5" x2="144.5" y2="313.5" stroke="#008000" stroke-width="1" stroke-dasharray="18.000 6.000" stroke-dashoffset="3.000"/>
<line x1="144.5" y1="313.5" x2="148.5" y2="313.5" stroke="#008000" stroke-width="1" stroke-dasharray="18.000 6.000" stroke-dashoffset="7.000"/>
<line x1="148.5" y1="313.5" x2="152.5" y2="313.5" stroke="#008000" stroke-width="1" stroke-dasharray="18.000 6.000" stroke-dashoffset="11.000"/>
<line x1="152.5" y1="313.5" x2="156.5" y2="313.5" stroke="#008000" stroke-width="1" stroke-dasharray="18.000 6.000" stroke-dashoffset="15.000"/>
<line x1="156.5" y1="313.5" x2="160.5" y2="357.5" stroke="#008000" stroke-width="1" stroke-dasharray="18.074 6.025" stroke-dashoffset="19.078"/>
<line x1="160.5" y1="357.5" x2="164.5" y2="381.5" stroke="#008000" stroke-width="1" stroke-dasharray="18.248 6.083" stroke-dashoffset="15.207"/>
<line x1="164.5" y1="381.5" x2="168.5" y2="420.5" stroke="#008000" stroke-width="1" stroke-dasharray="18.094 6.031" stroke-dashoffset="15.079"/>
<line x1="168.5" y1="420.5" x2="172.5" y2="426.5" stroke="#008000" stroke-width="1" stroke-dasharray="21.633 7.211" stroke-dashoffset="7.211"/>
<line x1="172.5" y1="426.5" x2="176.5" y2="427.5" stroke="#008000" stroke-width="1" stroke-dasharray="18.554 6.185" stroke-dashoffset="12.369"/>
<line x1="176.5" y1="427.5" x2="180.5" y2="429.5" stroke="#008000" stroke-width="1" stroke-dasharray="20.125 6.708" stroke-dashoffset="17.889"/>
<line x1="180.5" y1="429.5" x2="184.5" y2="438.5" stroke="#008000" stroke-width="1" stroke-dasharray="19.698 6.566" stroke-dashoffset="21.886"/>
<line x1="184.5" y1="438.5" x2="188.5" y2="434.5" stroke="#008000" stroke-width="1" stroke-dasharray="25.456 8.485" stroke-dashoffset="7.071"/>
<line x1="188.5" y1="434.5" x2="192.5" y2="436.5" stroke="#008000" stroke-width="1" stroke-dasharray="20.125 6.708" stroke-dashoffset="10.062"/>
<line x1="192.5" y1="436.5" x2="196.5" y2="425.5" stroke="#008000" stroke-width="1" stroke-dasharray="19.153 6.384" stroke-dashoffset="13.833"/>
<line x1="196.5" y1="425.5" x2="200.5" y2="423.5" stroke="#008000" stroke-width="1" stroke-dasharray="20.125 6.708" stroke-dashoffset="0.000"/>
<line x1="200.5" y1="423.5" x2="204.5" y2="415.5" stroke="#008000" stroke-width="1" stroke-dasharray="20.125 6.708" stroke-dashoffset="4.472"/>
<line x1="204.5" y1="415.5" x2="208.5" y2="415.5" stroke="#008000" stroke-width="1" stroke-dasharray="18.000 6.000" stroke-dashoffset="12.000"/>
<line x1="208.5" y1="415.5" x2="212.5" y2="415.5" stroke="#008000" stroke-width="1" stroke-dasharray="18.000 6.000" stroke-dashoffset="16.000"/>
<line x1="212.5" y1="415.5" x2="216.5" y2="415.5" stroke="#008000" stroke-width="1" stroke-dasharray="18.000 6.000" stroke-dashoffset="20.000"/>
<line x1="216.5" y1="415.5" x2="220.5" y2="415.5" stroke="#008000" stroke-width="1" stroke-dasharray="18.000 6.000" stroke-dashoffset="0.000"/>
<line x1="220.5" y1="415.5" x2="224.5" y2="415.5" stroke="#008000" stroke-width="1" stroke-dasharray="18.000 6.000" stroke-dashoffset="4.000"/>
<line x1="224.5" y1="415.5" x2="228.5" y2="415.5" stroke="#008000" stroke-width="1" stroke-dasharray="18.000 6.000" stroke-dashoffset="8.000"/>
<line x1="228.5" y1="415.5" x2="232.5" y2="415.5" stroke="#008000" stroke-width="1" stroke-dasharray="18.000 6.000" stroke-dashoffset="12.000"/>
<line x1="232.5" y1="415.5" x2="236.5" y2="415.5" stroke="#008000" stroke-width="1" stroke-dasharray="18.000 6.000" stroke-dashoffset="16.000"/>
<line x1="236.5" y1="415.5" x2="240.5" y2="415.5" stroke="#008000" stroke-width="1" stroke-dasharray="18.000 6.000" stroke-dashoffset="20.000"/>
<line x1="240.5" y1="415.5" x2="244.5" y2="415.5" stroke="#008000" stroke-width="1" stroke-dasharray="18.000 6.000" stroke-dashoffset="0.000"/>
<line x1="244.5" y1="415.5" x2="248.5" y2="408.5" stroke="#008000" stroke-width="1" stroke-dasharray="20.732 6.911" stroke-dashoffset="4.607"/>
<line x1="248.5" y1="408.5" x2="252.5" y2="397.5" stroke="#008000" stroke-width="1" stroke-dasharray="19.153 6.384" stroke-dashoffset="11.705"/>
<line x1="252.5" y1="397.5" x2="256.5" y2="394.5" stroke="#008000" stroke-width="1" stroke-dasharray="22.500 7.500" stroke-dashoffset="27.500"/>
<line x1="256.5" y1="394.5" x2="260.5" y2="394.5" stroke="#008000" stroke-width="1" stroke-dasharray="18.000 6.000" stroke-dashoffset="2.000"/>
<line x1="260.5" y1="394.5" x2="264.5" y2="392.5" stroke="#008000" stroke-width="1" stroke-dasharray="20.125 6.708" stroke-dashoffset="6.708"/>
<line x1="264.5" y1="392.5" x2="268.5" y2="391.5" stroke="#008000" stroke-width="1" stroke-dasharray="18.554 6.185" stroke-dashoffset="10.308"/>
<line x1="268.5" y1="391.5" x2="272.5" y2="390.5" stroke="#008000" stroke-width="1" stroke-dasharray="18.554 6.185" stroke-dashoffset="14.431"/>
<line x1="272.5" y1="390.5" x2="276.5" y2="388.5" stroke="#008000" stroke-width="1" stroke-dasharray="20.125 6.708" stroke-dashoffset="20.125"/>
<line x1="276.5" y1="388.5" x2="280.5" y2="388.5" stroke="#008000" stroke-width="1" stroke-dasharray="18.000 6.000" stroke-dashoffset="22.000"/>
<line x1="280.5" y1="388.5" x2="284.5" y2="388.5" stroke="#008000" stroke-width="1" stroke-dasharray="18.000 6.000" stroke-dashoffset="2.000"/>
<line x1="284.5" y1="388.5" x2="288.5" y2="383.5" stroke="#008000" stroke-width="1" stroke-dasharray="23.051 7.684" stroke-dashoffset="7.684"/>
<line x1="288.5" y1="383.5" x2="292.5" y2="378.5" stroke="#008000" stroke-width="1" stroke-dasharray="23.051 7.684" stroke-dashoffset="14.087"/>
<line x1="292.5" y1="378.5" x2="296.5" y2="373.5" stroke="#008000" stroke-width="1" stroke-dasharray="23.051 7.684" stroke-dashoffset="20.490"/>
<line x1="296.5" y1="373.5" x2="300.5" y2="368.5" stroke="#008000" stroke-width="1" stroke-dasharray="23.051 7.684" stroke-dashoffset="26.893"/>
<line x1="300.5" y1="368.5" x2="304.5" y2="367.5" stroke="#008000" stroke-width="1" stroke-dasharray="18.554 6.185" stroke-dashoffset="2.062"/>
<line x1="304.5" y1="367.5" x2="308.5" y2="360.5" stroke="#008000" stroke-width="1" stroke-dasharray="20.732 6.911" stroke-dashoffset="6.911"/>
<line x1="308.5" y1="360.5" x2="312.5" y2="352.5" stroke="#008000" stroke-width="1" stroke-dasharray="20.125 6.708" stroke-dashoffset="14.534"/>
<line x1="312.5" y1="352.5" x2="316.5" y2="342.5" stroke="#008000" stroke-width="1" stroke-dasharray="19.387 6.462" stroke-dashoffset="22.618"/>
<line x1="316.5" y1="342.5" x2="320.5" y2="339.5" stroke="#008000" stroke-width="1" stroke-dasharray="22.500 7.500" stroke-dashoffset="8.750"/>
<line x1="320.5" y1="339.5" x2="324.5" y2="335.5" stroke="#008000" stroke-width="1" stroke-dasharray="25.456 8.485" stroke-dashoffset="15.556"/>
<line x1="324.5" y1="335.5" x2="328.5" y2="334.5" stroke="#008000" stroke-width="1" stroke-dasharray="18.554 6.185" stroke-dashoffset="15.462"/>
<line x1="328.5" y1="334.5" x2="332.5" y2="331.5" stroke="#008000" stroke-width="1" stroke-dasharray="22.500 7.500" stroke-dashoffset="23.750"/>
<line x1="332.5" y1="331.5" x2="336.5" y2="330.5" stroke="#008000" stroke-width="1" stroke-dasharray="18.554 6.185" stroke-dashoffset="23.708"/>
<line x1="336.5" y1="330.5" x2="340.5" y2="330.5" stroke="#008000" stroke-width="1" stroke-dasharray="18.000 6.000" stroke-dashoffset="3.000"/>
<line x1="340.5" y1="330.5" x2="344.5" y2="330.5" stroke="#008000" stroke-width="1" stroke-dasharray="18.000 6.000" stroke-dashoffset="7.000"/>
<line x1="344.5" y1="330.5" x2="348.5" y2="330.5" stroke="#008000" stroke-width="1" stroke-dasharray="18.000 6.000" stroke-dashoffset="11.000"/>
<line x1="348.5" y1="330.5" x2="352.5" y2="330.5" stroke="#008000" stroke-width="1" stroke-dasharray="18.000 6.000" stroke-dashoffset="15.000"/>
<line x1="352.5" y1="330.5" x2="356.5" y2="330.5" stroke="#008000" stroke-width="1" stroke-dasharray="18.000 6.000" stroke-dashoffset="19.000"/>
<line x1="356.5" y1="330.5" x2="360.5" y2="330.5" stroke="#008000" stroke-width="1" stroke-dasharray="18.000 6.000" stroke-dashoffset="23.000"/>
<line x1="360.5" y1="330.5" x2="364.5" y2="330.5" stroke="#008000" stroke-width="1" stroke-dasharray="18.000 6.000" stroke-dashoffset="3.000"/>
<line x1="364.5" y1="330.5" x2="368.5" y2="330.5" stroke="#008000" stroke-width="1" stroke-dasharray="18.000 6.000" stroke-dashoffset="7.000"/>
<line x1="368.5" y1="330.5" x2="372.5" y2="324.5" stroke="#008000" stroke-width="1" stroke-dasharray="21.633 7.211" stroke-dashoffset="13.220"/>
<line x1="372.5" y1="324.5" x2="376.5" y2="323.5" stroke="#008000" stroke-width="1" stroke-dasharray="18.554 6.185" stroke-dashoffset="17.523"/>
<line x1="376.5" y1="323.5" x2="380.5" y2="311.5" stroke="#008000" stroke-width="1" stroke-dasharray="18.974 6.325" stroke-dashoffset="22.136"/>
<line x1="380.5" y1="311.5" x2="384.5" y2="296.5" stroke="#008000" stroke-width="1" stroke-dasharray="18.629 6.210" stroke-dashoffset="9.315"/>
<line x1="384.5" y1="296.5" x2="388.5" y2="286.5" stroke="#008000" stroke-width="1" stroke-dasharray="19.387 6.462" stroke-dashoffset="0.000"/>
<line x1="388.5" y1="286.5" x2="392.5" y2="282.5" stroke="#008000" stroke-width="1" stroke-dasharray="25.456 8.485" stroke-dashoffset="14.142"/>
<line x1="392.5" y1="282.5" x2="396.5" y2="280.5" stroke="#008000" stroke-width="1" stroke-dasharray="20.125 6.708" stroke-dashoffset="15.652"/>
<line x1="396.5" y1="280.5" x2="400.5" y2="280.5" stroke="#008000" stroke-width="1" stroke-dasharray="18.000 6.000" stroke-dashoffset="18.000"/>
<line x1="400.5" y1="280.5" x2="404.5" y2="280.5" stroke="#008000" stroke-width="1" stroke-dasharray="18.000 6.000" stroke-dashoffset="22.000"/>
<line x1="404.5" y1="280.5" x2="408.5" y2="280.5" stroke="#008000" stroke-width="1" stroke-dasharray="18.000 6.000" stroke-dashoffset="2.000"/>
<line x1="408.5" y1="280.5" x2="412.5" y2="280.5" stroke="#008000" stroke-width="1" stroke-dasharray="18.000 6.000" stroke-dashoffset="6.000"/>
<line x1="412.5" y1="280.5" x2="416.5" y2="280.5" stroke="#008000" stroke-width="1" stroke-dasharray="18.000 6.000" stroke-dashoffset="10.000"/>
<line x1="416.5" y1="280.5" x2="420.5" y2="280.5" stroke="#008000" stroke-width="1" stroke-dasharray="18.000 6.000" stroke-dashoffset="14.000"/>
<line x1="420.5" y1="280.5" x2="424.5" y2="280.5" stroke="#008000" stroke-width="1" stroke-dasharray="18.000 6.000" stroke-dashoffset="18.000"/>
<line x1="424.5" y1="280.5" x2="428.5" y2="280.5" stroke="#008000" stroke-width="1" stroke-dasharray="18.000 6.000" stroke-dashoffset="22.000"/>
<line x1="428.5" y1="280.5" x2="432.5" y2="280.5" stroke="#008000" stroke-width="1" stroke-dasharray="18.000 6.000" stroke-dashoffset="2.000"/>
<line x1="432.5" y1="280.5" x2="436.5" y2="280.5" stroke="#008000" stroke-width="1" stroke-dasharray="18.000 6.000" stroke-dashoffset="6.000"/>
<line x1="436.5" y1="280.5" x2="440.5" y2="280.5" stroke="#008000" stroke-width="1" stroke-dasharray="18.000 6.000" stroke-dashoffset="10.000"/>
<line x1="440.5" y1="280.5" x2="444.5" y2="280.5" stroke="#008000" stroke-width="1" stroke-dasharray="18.000 6.000" stroke-dashoffset="14.000"/>
<line x1="444.5" y1="280.5" x2="448.5" y2="280.5" stroke="#008000" stroke-width="1" stroke-dasharray="18.000 6.000" stroke-dashoffset="18.000"/>
<line x1="448.5" y1="280.5" x2="452.5" y2="280.5" stroke="#008000" stroke-width="1" stroke-dasharray="18.000 6.000" stroke-dashoffset="22.000"/>
<line x1="452.5" y1="280.5" x2="456.5" y2="280.5" stroke="#008000" stroke-width="1" stroke-dasharray="18.000 6.000" stroke-dashoffset="2.000"/>
<line x1="456.5" y1="280.5" x2="460.5" y2="280.5" stroke="#008000" stroke-width="1" stroke-dasharray="18.000 6.000" stroke-dashoffset="6.000"/>
<line x1="460.5" y1="280.5" x2="464.5" y2="280.5" stroke="#008000" stroke-width="1" stroke-dasharray="18.000 6.000" stroke-dashoffset="10.000"/>
<line x1="464.5" y1="280.5" x2="468.5" y2="280.5" stroke="#008000" stroke-width="1" stroke-dasharray="18.000 6.000" stroke-dashoffset="14.000"/>
<line x1="468.5" y1="280.5" x2="472.5" y2="280.5" stroke="#008000" stroke-width="1" stroke-dasharray="18.000 6.000" stroke-dashoffset="18.000"/>
<line x1="472.5" y1="280.5" x2="476.5" y2="280.5" stroke="#008000" stroke-width="1" stroke-dasharray="18.000 6.000" stroke-dashoffset="22.000"/>
<line x1="476.5" y1="280.5" x2="480.5" y2="280.5" stroke="#008000" stroke-width="1" stroke-dasharray="18.000 6.000" stroke-dashoffset="2.000"/>
<line x1="480.5" y1="280.5" x2="484.5" y2="280.5" stroke="#008000" stroke-width="1" stroke-dasharray="18.000 6.000" stroke-dashoffset="6.000"/>
<line x1="484.5" y1="280.5" x2="488.5" y2="280.5" stroke="#008000" stroke-width="1" stroke-dasharray="18.000 6.000" stroke-dashoffset="10.000"/>
<line x1="488.5" y1="280.5" x2="492.5" y2="280.5" stroke="#008000" stroke-width="1" stroke-dasharray="18.000 6.000" stroke-dashoffset="14.000"/>
<line x1="492.5" y1="280.5" x2="496.5" y2="280.5" stroke="#008000" stroke-width="1" stroke-dasharray="18.000 6.000" stroke-dashoffset="18.000"/>
<line x1="496.5" y1="280.5" x2="500.5" y2="280.5" stroke="#008000" stroke-width="1" stroke-dasharray="18.000 6.000" stroke-dashoffset="22.000"/>
<line x1="500.5" y1="280.5" x2="504.5" y2="278.5" stroke="#008000" stroke-width="1" stroke-dasharray="20.125 6.708" stroke-dashoffset="2.236"/>
<line x1="504.5" y1="278.5" x2="508.5" y2="277.5" stroke="#008000" stroke-width="1" stroke-dasharray="18.554 6.185" stroke-dashoffset="6.185"/>
<line x1="508.5" y1="277.5" x2="512.5" y2="260.5" stroke="#008000" stroke-width="1" stroke-dasharray="18.492 6.164" stroke-dashoffset="10.273"/>
<line x1="512.5" y1="260.5" x2="516.5" y2="259.5" stroke="#008000" stroke-width="1" stroke-dasharray="18.554 6.185" stroke-dashoffset="3.092"/>
<line x1="516.5" y1="259.5" x2="520.5" y2="259.5" stroke="#008000" stroke-width="1" stroke-dasharray="18.000 6.000" stroke-dashoffset="7.000"/>
<line x1="520.5" y1="259.5" x2="524.5" y2="259.5" stroke="#008000" stroke-width="1" stroke-dasharray="18.000 6.000" stroke-dashoffset="11.000"/>
<line x1="524.5" y1="259.5" x2="528.5" y2="259.5" stroke="#008000" stroke-width="1" stroke-dasharray="18.000 6.000" stroke-dashoffset="15.000"/>
<line x1="528.5" y1="259.5" x2="532.5" y2="259.5" stroke="#008000" stroke-width="1" stroke-dasharray="18.000 6.000" stroke-dashoffset="19.000"/>
<line x1="532.5" y1="259.5" x2="536.5" y2="259.5" stroke="#008000" stroke-width="1" stroke-dasharray="18.000 6.000" stroke-dashoffset="23.000"/>
<line x1="536.5" y1="259.5" x2="540.5" y2="259.5" stroke="#008000" stroke-width="1" stroke-dasharray="18.000 6.000" stroke-dashoffset="3.000"/>
<line x1="540.5" y1="259.5" x2="544.5" y2="259.5" stroke="#008000" stroke-width="1" stroke-dasharray="18.000 6.000" stroke-dashoffset="7.000"/>
<line x1="544.5" y1="259.5" x2="548.5" y2="259.5" stroke="#008000" stroke-width="1" stroke-dasharray="18.000 6.000" stroke-dashoffset="11.000"/>
<line x1="548.5" y1="259.5" x2="552.5" y2="259.5" stroke="#008000" stroke-width="1" stroke-dasharray="18.000 6.000" stroke-dashoffset="15.000"/>
<line x1="552.5" y1="259.5" x2="556.5" y2="259.5" stroke="#008000" stroke-width="1" stroke-dasharray="18.000 6.000" stroke-dashoffset="19.000"/>
<line x1="556.5" y1="259.5" x2="560.5" y2="259.5" stroke="#008000" stroke-width="1" stroke-dasharray="18.000 6.000" stroke-dashoffset="23.000"/>
<line x1="560.5" y1="259.5" x2="564.5" y2="259.5" stroke="#008000" stroke-width="1" stroke-dasharray="18.000 6.000" stroke-dashoffset="3.000"/>
<line x1="564.5" y1="259.5" x2="568.5" y2="259.5" stroke="#008000" stroke-width="1" stroke-dasharray="18.000 6.000" stroke-dashoffset="7.000"/>
<line x1="568.5" y1="259.5" x2="572.5" y2="259.5" stroke="#008000" stroke-width="1" stroke-dasharray="18.000 6.000" stroke-dashoffset="11.000"/>
<line x1="572.5" y1="259.5" x2="576.5" y2="259.5" stroke="#008000" stroke-width="1" stroke-dasharray="18.000 6.000" stroke-dashoffset="15.000"/>
<line x1="576.5" y1="259.5" x2="580.5" y2="259.5" stroke="#008000" stroke-width="1" stroke-dasharray="18.000 6.000" stroke-dashoffset="19.000"/>
<line x1="580.5" y1="259.5" x2="584.5" y2="259.5" stroke="#008000" stroke-width="1" stroke-dasharray="18.000 6.000" stroke-dashoffset="23.000"/>
<line x1="584.5" y1="259.5" x2="588.5" y2="259.5" stroke="#008000" stroke-width="1" stroke-dasharray="18.000 6.000" stroke-dashoffset="3.000"/>
<line x1="588.5" y1="259.5" x2="592.5" y2="259.5" stroke="#008000" stroke-width="1" stroke-dasharray="18.000 6.000" stroke-dashoffset="7.000"/>
<line x1="592.5" y1="259.5" x2="596.5" y2="259.5" stroke="#008000" stroke-width="1" stroke-dasharray="18.000 6.000" stroke-dashoffset="11.000"/>
<line x1="596.5" y1="259.5" x2="600.5" y2="259.5" stroke="#008000" stroke-width="1" stroke-dasharray="18.000 6.000" stroke-dashoffset="15.000"/>
<line x1="600.5" y1="259.5" x2="604.5" y2="259.5" stroke="#008000" stroke-width="1" stroke-dasharray="18.000 6.000" stroke-dashoffset="19.000"/>
<line x1="604.5" y1="259.5" x2="608.5" y2="259.5" stroke="#008000" stroke-width="1" stroke-dasharray="18.000 6.000" stroke-dashoffset="23.000"/>
<line x1="608.5" y1="259.5" x2="612.5" y2="259.5" stroke="#008000" stroke-width="1" stroke-dasharray="18.000 6.000" stroke-dashoffset="3.000"/>
<line x1="612.5" y1="259.5" x2="616.5" y2="259.5" stroke="#008000" stroke-width="1" stroke-dasharray="18.000 6.000" stroke-dashoffset="7.000"/>
<line x1="616.5" y1="259.5" x2="620.5" y2="259.5" stroke="#008000" stroke-width="1" stroke-dasharray="18.000 6.000" stroke-dashoffset="11.000"/>
<line x1="620.5" y1="259.5" x2="624.5" y2="259.5" stroke="#008000" stroke-width="1" stroke-dasharray="18.000 6.000" stroke-dashoffset="15.000"/>
<line x1="624.5" y1="259.5" x2="628.5" y2="265.5" stroke="#008000" stroke-width="1" stroke-dasharray="21.633 7.211" stroke-dashoffset="22.835"/>
<line x1="628.5" y1="265.5" x2="632.5" y2="268.5" stroke="#008000" stroke-width="1" stroke-dasharray="22.500 7.500" stroke-dashoffset="1.250"/>
<line x1="632.5" y1="268.5" x2="636.5" y2="268.5" stroke="#008000" stroke-width="1" stroke-dasharray="18.000 6.000" stroke-dashoffset="5.000"/>
<line x1="636.5" y1="268.5" x2="640.5" y2="268.5" stroke="#008000" stroke-width="1" stroke-dasharray="18.000 6.000" stroke-dashoffset="9.000"/>
<line x1="640.5" y1="268.5" x2="644.5" y2="268.5" stroke="#008000" stroke-width="1" stroke-dasharray="18.000 6.000" stroke-dashoffset="13.000"/>
<line x1="644.5" y1="268.5" x2="648.5" y2="268.5" stroke="#008000" stroke-width="1" stroke-dasharray="18.000 6.000" stroke-dashoffset="17.000"/>
<line x1="648.5" y1="268.5" x2="652.5" y2="268.5" stroke="#008000" stroke-width="1" stroke-dasharray="18.000 6.000" stroke-dashoffset="21.000"/>
<line x1="652.5" y1="268.5" x2="656.5" y2="268.5" stroke="#008000" stroke-width="1" stroke-dasharray="18.000 6.000" stroke-dashoffset="1.000"/>
<line x1="656.5" y1="268.5" x2="660.5" y2="268.5" stroke="#008000" stroke-width="1" stroke-dasharray="18.000 6.000" stroke-dashoffset="5.000"/>
<line x1="660.5" y1="268.5" x2="664.5" y2="268.5" stroke="#008000" stroke-width="1" stroke-dasharray="18.000 6.000" stroke-dashoffset="9.000"/>
<line x1="664.5" y1="268.5" x2="668.5" y2="268.5" stroke="#008000" stroke-width="1" stroke-dasharray="18.000 6.000" stroke-dashoffset="13.000"/>
<line x1="668.5" y1="268.5" x2="672.5" y2="268.5" stroke="#008000" stroke-width="1" stroke-dasharray="18.000 6.000" stroke-dashoffset="17.000"/>
<line x1="672.5" y1="268.5" x2="676.5" y2="268.5" stroke="#008000" stroke-width="1" stroke-dasharray="18.000 6.000" stroke-dashoffset="21.000"/>
<line x1="676.5" y1="268.5" x2="680.5" y2="268.5" stroke="#008000" stroke-width="1" stroke-dasharray="18.000 6.000" stroke-dashoffset="1.000"/>
<line x1="680.5" y1="268.5" x2="684.5" y2="268.5" stroke="#008000" stroke-width="1" stroke-dasharray="18.000 6.000" stroke-dashoffset="5.000"/>
<line x1="684.5" y1="268.5" x2="688.5" y2="268.5" stroke="#008000" stroke-width="1" stroke-dasharray="18.000 6.000" stroke-dashoffset="9.000"/>
<line x1="688.5" y1="268.5" x2="692.5" y2="268.5" stroke="#008000" stroke-width="1" stroke-dasharray="18.000 6.000" stroke-dashoffset="13.000"/>
<line x1="692.5" y1="268.5" x2="696.5" y2="268.5" stroke="#008000" stroke-width="1" stroke-dasharray="18.000 6.000" stroke-dashoffset="17.000"/>
<line x1="696.5" y1="268.5" x2="700.5" y2="268.5" stroke="#008000" stroke-width="1" stroke-dasharray="18.000 6.000" stroke-dashoffset="21.000"/>
<line x1="700.5" y1="268.5" x2="704.5" y2="268.5" stroke="#008000" stroke-width="1" stroke-dasharray="18.000 6.000" stroke-dashoffset="1.000"/>
<line x1="704.5" y1="268.5" x2="708.5" y2="268.5" stroke="#008000" stroke-width="1" stroke-dasharray="18.000 6.000" stroke-dashoffset="5.000"/>
<line x1="708.5" y1="268.5" x2="712.5" y2="268.5" stroke="#008000" stroke-width="1" stroke-dasharray="18.000 6.000" stroke-dashoffset="9.000"/>
<line x1="712.5" y1="268.5" x2="716.5" y2="268.5" stroke="#008000" stroke-width="1" stroke-dasharray="18.000 6.000" stroke-dashoffset="13.000"/>
<line x1="716.5" y1="268.5" x2="720.5" y2="268.5" stroke="#008000" stroke-width="1" stroke-dasharray="18.000 6.000" stroke-dashoffset="17.000"/>
<line x1="720.5" y1="268.5" x2="724.5" y2="268.5" stroke="#008000" stroke-width="1" stroke-dasharray="18.000 6.000" stroke-dashoffset="21.000"/>
<line x1="724.5" y1="268.5" x2="728.5" y2="268.5" stroke="#008000" stroke-width="1" stroke-dasharray="18.000 6.000" stroke-dashoffset="1.000"/>
<line x1="728.5" y1="268.5" x2="732.5" y2="268.5" stroke="#008000" stroke-width="1" stroke-dasharray="18.000 6.000" stroke-dashoffset="5.000"/>
<line x1="732.5" y1="268.5" x2="736.5" y2="268.5" stroke="#008000" stroke-width="1" stroke-dasharray="18.000 6.000" stroke-dashoffset="9.000"/>
<line x1="736.5" y1="268.5" x2="740.5" y2="268.5" stroke="#008000" stroke-width="1" stroke-dasharray="18.000 6.000" stroke-dashoffset="13.000"/>
<line x1="740.5" y1="268.5" x2="744.5" y2="268.5" stroke="#008000" stroke-width="1" stroke-dasharray="18.000 6.000" stroke-dashoffset="17.000"/>
<line x1="744.5" y1="268.5" x2="748.5" y2="264.5" stroke="#008000" stroke-width="1" stroke-dasharray="25.456 8.485" stroke-dashoffset="29.698"/>
<line x1="748.5" y1="264.5" x2="752.5" y2="264.5" stroke="#008000" stroke-width="1" stroke-dasharray="18.000 6.000" stroke-dashoffset="1.000"/>
<line x1="752.5" y1="264.5" x2="756.5" y2="264.5" stroke="#008000" stroke-width="1" stroke-dasharray="18.000 6.000" stroke-dashoffset="5.000"/>
<line x1="756.5" y1="264.5" x2="760.5" y2="263.5" stroke="#008000" stroke-width="1" stroke-dasharray="18.554 6.185" stroke-dashoffset="9.277"/>
<line x1="760.5" y1="263.5" x2="764.5" y2="263.5" stroke="#008000" stroke-width="1" stroke-dasharray="18.000 6.000" stroke-dashoffset="13.000"/>
<line x1="764.5" y1="263.5" x2="768.5" y2="261.5" stroke="#008000" stroke-width="1" stroke-dasharray="20.125 6.708" stroke-dashoffset="19.007"/>
<line x1="768.5" y1="261.5" x2="772.5" y2="254.5" stroke="#008000" stroke-width="1" stroke-dasharray="20.732 6.911" stroke-dashoffset="24.187"/>
<line x1="772.5" y1="254.5" x2="776.5" y2="245.5" stroke="#008000" stroke-width="1" stroke-dasharray="19.698 6.566" stroke-dashoffset="4.377"/>
<polyline points="0.5,317.5 4.5,305.5 8.5,323.5 12.5,318.5 16.5,306.5 20.5,293.5 24.5,302.5 28.5,297.5 32.5,301.5 36.5,297.5 40.5,271.5 44.5,254.5 48.5,263.5 52.5,273.5 56.5,269.5 60.5,304.5 64.5,303.5 68.5,321.5 72.5,346.5 76.5,362.5 80.5,377.5 84.5,369.5 88.5,371.5 92.5,382.5 96.5,336.5 100.5,322.5 104.5,315.5 108.5,304.5 112.5,282.5 116.5,271.5 120.5,280.5 124.5,280.5 128.5,261.5 132.5,266.5 136.5,262.5 140.5,286.5 144.5,274.5 148.5,262.5 152.5,256.5 156.5,258.5 160.5,265.5 164.5,257.5 168.5,260.5 172.5,215.5 176.5,188.5 180.5,185.5 184.5,193.5 188.5,181.5 192.5,203.5 196.5,200.5 200.5,194.5 204.5,212.5 208.5,238.5 212.5,228.5 216.5,239.5 220.5,230.5 224.5,257.5 228.5,254.5 232.5,297.5 236.5,318.5 240.5,316.5 244.5,322.5 248.5,332.5 252.5,337.5 256.5,324.5 260.5,317.5 264.5,312.5 268.5,298.5 272.5,245.5 276.5,276.5 280.5,257.5 284.5,247.5 288.5,268.5 292.5,251.5 296.5,257.5 300.5,232.5 304.5,234.5 308.5,242.5 312.5,228.5 316.5,236.5 320.5,206.5 324.5,205.5 328.5,173.5 332.5,189.5 336.5,209.5 340.5,234.5 344.5,236.5 348.5,233.5 352.5,245.5 356.5,261.5 360.5,260.5 364.5,280.5 368.5,284.5 372.5,277.5 376.5,268.5 380.5,255.5 384.5,281.5 388.5,276.5 392.5,271.5 396.5,280.5 400.5,289.5 404.5,335.5 408.5,328.5 412.5,320.5 416.5,324.5 420.5,352.5 424.5,348.5 428.5,341.5 432.5,334.5 436.5,341.5 440.5,315.5 444.5,305.5 448.5,286.5 452.5,289.5 456.5,282.5 460.5,259.5 464.5,258.5 468.5,269.5 472.5,245.5 476.5,250.5 480.5,228.5 484.5,228.5 488.5,229.5 492.5,234.5 496.5,229.5 500.5,249.5 504.5,252.5 508.5,246.5 512.5,208.5 516.5,189.5 520.5,180.5 524.5,200.5 528.5,222.5 532.5,197.5 536.5,186.5 540.5,193.5 544.5,177.5 548.5,194.5 552.5,180.5 556.5,190.5 560.5,178.5 564.5,138.5 568.5,140.5 572.5,140.5 576.5,113.5 580.5,105.5 584.5,85.5 588.5,73.5 592.5,85.5 596.5,52.5 600.5,57.5" fill="none" stroke="#a52a2a" stroke-width="1" stroke-linejoin="miter"/>
<polyline points="0,468 8,469 12,476 15,475 24,456 31,456 36,443 52,442 57,437 77,435 82,427 90,406 92,400 96,398 99,379 107,363 116,355 125,351 140,351 145,339 151,330 168,330 172,324 180,312 185,311 188,314 253,314 256,317 264,317 268,309 273,307 276.5,302 280,289 284,287 288,280 293,277 300.5,276 302,262 303.7,254.5 307.4,248 316,245 318,239 320,230.5 334,231 339,244.5 344,246 351,258.5 389,258.5 394,263.5 400,266 405,266.5 408.5,277.5 413,280 416,281.2 421.5,281.2 429,271.4 432.6,258 451.6,257.7 457.7,255.4 463.3,249.3 471.4,242.6 477.2,232.7 480,229.4 484,230 488,234 504.6,234.3 507.5,251.6 520.3,253.6 524.2,266.4 536,268.3 544,284 555.7,285 559.6,298 564.5,308.7 572.4,308.7 576.3,304.5 586,296 593,292 613.7,292 620.5,277 625.5,273 629,272.5 632,268.6 636,263.5 640,262.7 643.6,251 647.5,238.2 651.4,232.3 655.4,230.3 660.3,229.3 664.2,222.4 667.2,214 670,202 672,193.7 676,192.5 679,185.7 684,181.7 688,170 691,166 694,163.5 697.6,163 701.6,156.2 704.5,150.7" fill="none" stroke="#008000" stroke-width="2" stroke-linejoin="miter"/>
<polyline points="0,497 3,478.5 4,474.7 5,473.4 8.6,473.4 12,469 23,432 29,429 32,418 36,401 40,390 44,388 48,383 53,382 56,371 57,369 61,369 68,377 81,377 85,372 88,371 92,364 100,352 104,342 118,320 125,313 140,312 146,301 156,280 164,280 166.6,284 172,284 180,301 187,316.5 192,328 196,330 201,342 206,346 210,347 213,344 217,334 219,331 226,324 229,323 232.7,315 234.3,299 235.7,292.5 240,285.5 242.5,283 248.4,281.8 251.5,269 254,268 264.4,268 265.6,263.3 268,258.4 275.5,257.2 277.3,251.7 279,241 283,234 288,227 294,225 298,222 306,221 309,215 312,208 320,208 325,213 333,225 336,239 337.5,250 338.6,263 344,265 351,284 359,285 362.5,294 364.5,300 368.5,301 372.5,318 373.5,318 377,294 381,292 391,289 394,284 399,278 405.5,267 410,255 414,249 420,244.5 429,234 431,220 432,215.5 437,214.2 440,209.5 443,209.2 451.6,209.2 456.5,211 460.2,217 464.5,217.5 466.3,221.5 472,236 475,243 477,245.5 484,246.5 488.5,255 492,265 496,273 499,275.5 503.5,277 506.5,287 509.5,294 520,297 523,310 527,313 532,315 537,320.5 541,327.5 543,335.5 546,336.5 549,332.5 553,325 557.5,323.5 561.5,318.5 564.5,308.7 567.5,300 572.5,298 577,289 580,274 584,265.5 591,259.5 595,253.5 598,249.7 608,249.7 612.5,242 615.5,236 617.6,231.4 621.5,224.5 625.5,221.6 640,221.5 645.5,208 650.5,198 653,194 664,194 668,182.7 670,171 672,159 683,158 686,152 688,145.5 691,139.5 694,137.5 696.7,137 698.6,122 700.6,113 702.5,104.5 704.5,99.6" fill="none" stroke="#ff0000" stroke-width="2" stroke-linejoin="miter"/>
</g>
<polygon points="550,0 559.5,0 554.75,5" fill="#708090"/>
<rect x="773" y="0" width="1" height="498" fill="#000"/>
<rect x="0" y="497" width="774" height="1" fill="#000"/>
<rect x="0" y="497" width="1" height="4" fill="#000"/>
<rect x="64" y="497" width="1" height="4" fill="#000"/>
<rect x="128" y="497" width="1" height="4" fill="#000"/>
<rect x="192" y="497" width="1" height="4" fill="#000"/>
<rect x="256" y="497" width="1" height="4" fill="#000"/>
<rect x="320" y="497" width="1" height="4" fill="#000"/>
<rect x="384" y="497" width="1" height="4" fill="#000"/>
<rect x="448" y="497" width="1" height="4" fill="#000"/>
<rect x="512" y="497" width="1" height="4" fill="#000"/>
<rect x="576" y="497" width="1" height="4" fill="#000"/>
<rect x="640" y="497" width="1" height="4" fill="#000"/>
<rect x="704" y="497" width="1" height="4" fill="#000"/>
<rect x="774" y="32" width="2" height="1" fill="#000"/>
<rect x="774" y="65" width="2" height="1" fill="#000"/>
<rect x="774" y="98" width="2" height="1" fill="#000"/>
<rect x="774" y="131" width="2" height="1" fill="#000"/>
<rect x="774" y="164" width="2" height="1" fill="#000"/>
<rect x="774" y="197" width="2" height="1" fill="#000"/>
<rect x="774" y="230" width="2" height="1" fill="#000"/>
<rect x="774" y="263" width="2" height="1" fill="#000"/>
<rect x="774" y="296" width="2" height="1" fill="#000"/>
<rect x="774" y="329" width="2" height="1" fill="#000"/>
<rect x="774" y="362" width="2" height="1" fill="#000"/>
<rect x="774" y="395" width="2" height="1" fill="#000"/>
<rect x="774" y="428" width="2" height="1" fill="#000"/>
<rect x="774" y="461" width="2" height="1" fill="#000"/>
<rect x="774" y="494" width="2" height="1" fill="#000"/>
<polygon points="3,6 10,6 6.5,10" fill="#000"/>
</svg>
<div class="t" style="left:15px;top:2px;color:#000;-webkit-text-stroke:0.2px #000;">XAUUSD,Daily</div>
<div class="t" style="left:85px;top:2px;color:#000;-webkit-text-stroke:0.2px #000;letter-spacing:-0.1px;">1348.65 1357.47 1342.67 1346.48</div>
<div class="t" style="left:0px;top:501.5px;color:#000;-webkit-text-stroke:0.2px #000;transform:scaleX(0.93);">4 Jan 2017</div>
<div class="t" style="left:63px;top:501.5px;color:#000;-webkit-text-stroke:0.2px #000;transform:scaleX(0.93);">26 Jan 2017</div>
<div class="t" style="left:128px;top:501.5px;color:#000;-webkit-text-stroke:0.2px #000;transform:scaleX(0.93);">17 Feb 2017</div>
<div class="t" style="left:192px;top:501.5px;color:#000;-webkit-text-stroke:0.2px #000;transform:scaleX(0.93);">13 Mar 2017</div>
<div class="t" style="left:255px;top:501.5px;color:#000;-webkit-text-stroke:0.2px #000;transform:scaleX(0.93);">4 Apr 2017</div>
<div class="t" style="left:319px;top:501.5px;color:#000;-webkit-text-stroke:0.2px #000;transform:scaleX(0.93);">27 Apr 2017</div>
<div class="t" style="left:384px;top:501.5px;color:#000;-webkit-text-stroke:0.2px #000;transform:scaleX(0.93);">19 May 2017</div>
<div class="t" style="left:448px;top:501.5px;color:#000;-webkit-text-stroke:0.2px #000;transform:scaleX(0.93);">12 Jun 2017</div>
<div class="t" style="left:511px;top:501.5px;color:#000;-webkit-text-stroke:0.2px #000;transform:scaleX(0.93);">4 Jul 2017</div>
<div class="t" style="left:575px;top:501.5px;color:#000;-webkit-text-stroke:0.2px #000;transform:scaleX(0.93);">26 Jul 2017</div>
<div class="t" style="left:640px;top:501.5px;color:#000;-webkit-text-stroke:0.2px #000;transform:scaleX(0.93);">17 Aug 2017</div>
<div class="t" style="left:703px;top:501.5px;color:#000;-webkit-text-stroke:0.2px #000;transform:scaleX(0.93);">8 Sep 2017</div>
<div class="t" style="left:779px;top:27px;color:#000;-webkit-text-stroke:0.2px #000;transform:scaleX(0.915);">1358.25</div>
<div class="t" style="left:779px;top:60px;color:#000;-webkit-text-stroke:0.2px #000;transform:scaleX(0.915);">1342.95</div>
<div class="t" style="left:779px;top:93px;color:#000;-webkit-text-stroke:0.2px #000;transform:scaleX(0.915);">1327.65</div>
<div class="t" style="left:779px;top:126px;color:#000;-webkit-text-stroke:0.2px #000;transform:scaleX(0.915);">1312.80</div>
<div class="t" style="left:779px;top:159px;color:#000;-webkit-text-stroke:0.2px #000;transform:scaleX(0.915);">1297.95</div>
<div class="t" style="left:779px;top:192px;color:#000;-webkit-text-stroke:0.2px #000;transform:scaleX(0.915);">1282.65</div>
<div class="t" style="left:779px;top:225px;color:#000;-webkit-text-stroke:0.2px #000;transform:scaleX(0.915);">1267.80</div>
<div class="t" style="left:779px;top:258px;color:#000;-webkit-text-stroke:0.2px #000;transform:scaleX(0.915);">1252.95</div>
<div class="t" style="left:779px;top:291px;color:#000;-webkit-text-stroke:0.2px #000;transform:scaleX(0.915);">1237.65</div>
<div class="t" style="left:779px;top:324px;color:#000;-webkit-text-stroke:0.2px #000;transform:scaleX(0.915);">1222.80</div>
<div class="t" style="left:779px;top:357px;color:#000;-webkit-text-stroke:0.2px #000;transform:scaleX(0.915);">1207.50</div>
<div class="t" style="left:779px;top:390px;color:#000;-webkit-text-stroke:0.2px #000;transform:scaleX(0.915);">1192.65</div>
<div class="t" style="left:779px;top:423px;color:#000;-webkit-text-stroke:0.2px #000;transform:scaleX(0.915);">1177.35</div>
<div class="t" style="left:779px;top:456px;color:#000;-webkit-text-stroke:0.2px #000;transform:scaleX(0.915);">1162.50</div>
<div class="t" style="left:779px;top:489px;color:#000;-webkit-text-stroke:0.2px #000;transform:scaleX(0.915);">1147.65</div>
<div style="position:absolute;left:775px;top:52px;width:39px;height:11px;background:#000;"></div>
<div class="t" style="left:779px;top:52px;color:#fff;-webkit-text-stroke:0.2px #fff;transform:scaleX(0.915);">1346.48</div>
<div style="position:absolute;left:775px;top:11px;width:39px;height:11px;background:#f00;"></div>
<div class="t" style="left:779px;top:11.5px;color:#fff;-webkit-text-stroke:0.2px #fff;transform:scaleX(0.915);">1365.00</div>
<div style="position:absolute;left:775px;top:61px;width:39px;height:11px;background:#f00;"></div>
<div class="t" style="left:779px;top:61.5px;color:#fff;-webkit-text-stroke:0.2px #fff;transform:scaleX(0.915);">1342.00</div>
<div style="position:absolute;left:775px;top:83px;width:39px;height:11px;background:#f00;"></div>
<div class="t" style="left:779px;top:83.5px;color:#fff;-webkit-text-stroke:0.2px #fff;transform:scaleX(0.915);">1332.00</div>
<div style="position:absolute;left:775px;top:94px;width:39px;height:11px;background:#f00;"></div>
<div class="t" style="left:779px;top:94.5px;color:#fff;-webkit-text-stroke:0.2px #fff;transform:scaleX(0.915);">1327.00</div>
<div style="position:absolute;left:775px;top:127px;width:39px;height:11px;background:#f00;"></div>
<div class="t" style="left:779px;top:127.5px;color:#fff;-webkit-text-stroke:0.2px #fff;transform:scaleX(0.915);">1312.00</div>
<div style="position:absolute;left:775px;top:145px;width:39px;height:11px;background:#f00;"></div>
<div class="t" style="left:779px;top:145.5px;color:#fff;-webkit-text-stroke:0.2px #fff;transform:scaleX(0.915);">1304.00</div>
</body></html>
